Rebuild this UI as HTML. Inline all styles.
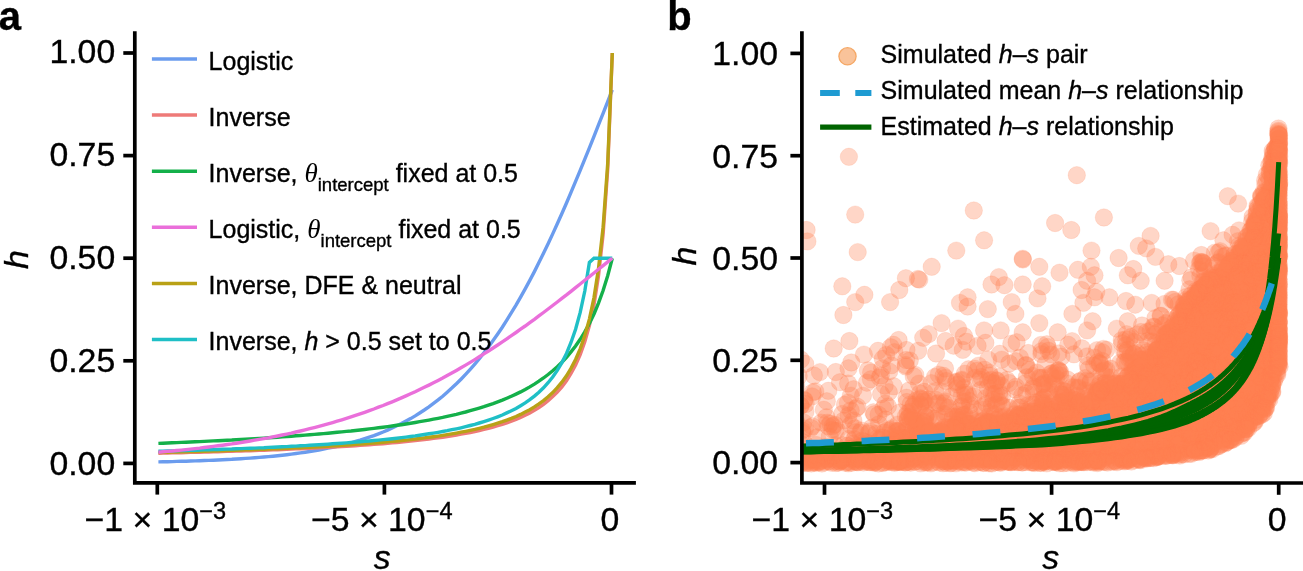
<!DOCTYPE html>
<html lang="en"><head><meta charset="utf-8"><title>h-s relationship</title>
<style>
html,body{margin:0;padding:0;background:#fff;}
body{width:1303px;height:571px;overflow:hidden;}
svg{display:block;font-family:"Liberation Sans", Arial, Helvetica, sans-serif;}
.tk{font-size:33.8px;fill:#000;}
text{stroke:#000;stroke-width:0.35px;}
.lg{font-size:25px;fill:#000;}
.pl{font-size:40px;font-weight:bold;fill:#000;}
.it{font-style:italic;}
.th{font-family:"Liberation Serif", "DejaVu Serif", serif;font-style:italic;font-size:27px;stroke:none;}
.sub{font-size:18.5px;}
.sup{font-size:23.6px;}
</style></head><body>
<svg width="1303" height="571" viewBox="0 0 1303 571">
<rect width="1303" height="571" fill="#fff"/>

<g fill="none" stroke-width="3.4" stroke-linejoin="miter">
<path stroke="#6b9cee" d="M158.4,461.9 L163.0,461.8 L167.6,461.7 L172.2,461.6 L176.7,461.4 L181.3,461.3 L185.9,461.2 L190.5,461.0 L195.1,460.9 L199.7,460.7 L204.2,460.5 L208.8,460.4 L213.4,460.2 L218.0,460.0 L222.6,459.7 L227.2,459.5 L231.8,459.3 L236.3,459.0 L240.9,458.7 L245.5,458.4 L250.1,458.1 L254.7,457.8 L259.3,457.4 L263.9,457.0 L268.4,456.6 L273.0,456.2 L277.6,455.7 L282.2,455.2 L286.8,454.7 L291.4,454.1 L295.9,453.5 L300.5,452.9 L305.1,452.2 L309.7,451.5 L314.3,450.8 L318.9,450.0 L323.5,449.1 L328.0,448.2 L332.6,447.3 L337.2,446.3 L341.8,445.2 L346.4,444.0 L351.0,442.8 L355.5,441.5 L360.1,440.2 L364.7,438.7 L369.3,437.2 L373.9,435.6 L378.5,433.8 L383.1,432.0 L387.6,430.1 L392.2,428.0 L396.8,425.8 L401.4,423.6 L406.0,421.1 L410.6,418.6 L415.2,415.9 L419.7,413.0 L424.3,410.0 L428.9,406.8 L433.5,403.4 L438.1,399.9 L442.7,396.2 L447.2,392.2 L451.8,388.1 L456.4,383.8 L461.0,379.2 L465.6,374.4 L470.2,369.4 L474.8,364.2 L479.3,358.6 L483.9,352.9 L488.5,346.9 L493.1,340.6 L497.7,334.0 L502.3,327.2 L506.8,320.1 L511.4,312.7 L516.0,305.1 L520.6,297.1 L525.2,288.9 L529.8,280.4 L534.4,271.6 L538.9,262.6 L543.5,253.3 L548.1,243.7 L552.7,233.9 L557.3,223.8 L561.9,213.5 L566.5,203.0 L571.0,192.3 L575.6,181.4 L580.2,170.4 L584.8,159.2 L589.4,147.8 L594.0,136.4 L598.5,124.9 L603.1,113.3 L607.7,101.6 L612.3,89.9"/>
<path stroke="#ee7a78" d="M158.4,453.2 L163.0,453.1 L167.6,453.0 L172.2,452.9 L176.7,452.8 L181.3,452.7 L185.9,452.5 L190.5,452.4 L195.1,452.3 L199.7,452.2 L204.2,452.1 L208.8,452.0 L213.4,451.8 L218.0,451.7 L222.6,451.6 L227.2,451.4 L231.8,451.3 L236.3,451.1 L240.9,451.0 L245.5,450.8 L250.1,450.7 L254.7,450.5 L259.3,450.4 L263.9,450.2 L268.4,450.0 L273.0,449.9 L277.6,449.7 L282.2,449.5 L286.8,449.3 L291.4,449.1 L295.9,448.9 L300.5,448.7 L305.1,448.5 L309.7,448.3 L314.3,448.1 L318.9,447.8 L323.5,447.6 L328.0,447.3 L332.6,447.1 L337.2,446.8 L341.8,446.6 L346.4,446.3 L351.0,446.0 L355.5,445.7 L360.1,445.4 L364.7,445.1 L369.3,444.7 L373.9,444.4 L378.5,444.0 L383.1,443.7 L387.6,443.3 L392.2,442.9 L396.8,442.5 L401.4,442.0 L406.0,441.6 L410.6,441.1 L415.2,440.6 L419.7,440.1 L424.3,439.6 L428.9,439.0 L433.5,438.4 L438.1,437.8 L442.7,437.2 L447.2,436.5 L451.8,435.8 L456.4,435.0 L461.0,434.2 L465.6,433.4 L470.2,432.5 L474.8,431.5 L479.3,430.5 L483.9,429.4 L488.5,428.3 L493.1,427.1 L497.7,425.7 L502.3,424.3 L506.8,422.8 L511.4,421.1 L516.0,419.3 L520.6,417.4 L525.2,415.2 L529.8,412.9 L534.4,410.3 L538.9,407.5 L543.5,404.3 L548.1,400.7 L552.7,396.6 L557.3,392.0 L561.9,386.8 L566.5,380.7 L571.0,373.5 L575.6,364.9 L580.2,354.6 L584.8,341.8 L589.4,325.7 L594.0,304.6 L598.5,275.8 L603.1,234.4 L607.7,169.4 L612.3,53.0"/>
<path stroke="#14b04a" d="M158.4,443.4 L163.0,443.2 L167.6,443.0 L172.2,442.8 L176.7,442.6 L181.3,442.4 L185.9,442.2 L190.5,442.0 L195.1,441.8 L199.7,441.6 L204.2,441.4 L208.8,441.1 L213.4,440.9 L218.0,440.7 L222.6,440.5 L227.2,440.2 L231.8,440.0 L236.3,439.7 L240.9,439.5 L245.5,439.2 L250.1,438.9 L254.7,438.6 L259.3,438.4 L263.9,438.1 L268.4,437.8 L273.0,437.5 L277.6,437.2 L282.2,436.8 L286.8,436.5 L291.4,436.2 L295.9,435.8 L300.5,435.5 L305.1,435.1 L309.7,434.8 L314.3,434.4 L318.9,434.0 L323.5,433.6 L328.0,433.2 L332.6,432.8 L337.2,432.3 L341.8,431.9 L346.4,431.4 L351.0,431.0 L355.5,430.5 L360.1,430.0 L364.7,429.5 L369.3,428.9 L373.9,428.4 L378.5,427.8 L383.1,427.2 L387.6,426.6 L392.2,426.0 L396.8,425.3 L401.4,424.7 L406.0,424.0 L410.6,423.3 L415.2,422.5 L419.7,421.7 L424.3,420.9 L428.9,420.1 L433.5,419.2 L438.1,418.3 L442.7,417.4 L447.2,416.4 L451.8,415.3 L456.4,414.3 L461.0,413.1 L465.6,412.0 L470.2,410.7 L474.8,409.4 L479.3,408.1 L483.9,406.7 L488.5,405.1 L493.1,403.6 L497.7,401.9 L502.3,400.1 L506.8,398.2 L511.4,396.2 L516.0,394.1 L520.6,391.9 L525.2,389.5 L529.8,386.9 L534.4,384.1 L538.9,381.2 L543.5,378.0 L548.1,374.5 L552.7,370.7 L557.3,366.7 L561.9,362.2 L566.5,357.3 L571.0,351.9 L575.6,346.0 L580.2,339.3 L584.8,331.9 L589.4,323.5 L594.0,314.0 L598.5,303.1 L603.1,290.5 L607.7,275.7 L612.3,258.2"/>
<path stroke="#b9a116" d="M158.4,452.5 L163.0,452.3 L167.6,452.2 L172.2,452.1 L176.7,452.0 L181.3,451.9 L185.9,451.8 L190.5,451.6 L195.1,451.5 L199.7,451.4 L204.2,451.3 L208.8,451.1 L213.4,451.0 L218.0,450.9 L222.6,450.7 L227.2,450.6 L231.8,450.4 L236.3,450.3 L240.9,450.1 L245.5,449.9 L250.1,449.8 L254.7,449.6 L259.3,449.4 L263.9,449.3 L268.4,449.1 L273.0,448.9 L277.6,448.7 L282.2,448.5 L286.8,448.3 L291.4,448.1 L295.9,447.9 L300.5,447.7 L305.1,447.4 L309.7,447.2 L314.3,447.0 L318.9,446.7 L323.5,446.5 L328.0,446.2 L332.6,445.9 L337.2,445.7 L341.8,445.4 L346.4,445.1 L351.0,444.8 L355.5,444.4 L360.1,444.1 L364.7,443.8 L369.3,443.4 L373.9,443.1 L378.5,442.7 L383.1,442.3 L387.6,441.9 L392.2,441.4 L396.8,441.0 L401.4,440.5 L406.0,440.1 L410.6,439.6 L415.2,439.0 L419.7,438.5 L424.3,437.9 L428.9,437.3 L433.5,436.7 L438.1,436.1 L442.7,435.4 L447.2,434.6 L451.8,433.9 L456.4,433.1 L461.0,432.2 L465.6,431.3 L470.2,430.4 L474.8,429.4 L479.3,428.3 L483.9,427.2 L488.5,425.9 L493.1,424.6 L497.7,423.2 L502.3,421.7 L506.8,420.1 L511.4,418.4 L516.0,416.5 L520.6,414.4 L525.2,412.1 L529.8,409.7 L534.4,406.9 L538.9,403.9 L543.5,400.6 L548.1,396.8 L552.7,392.6 L557.3,387.7 L561.9,382.2 L566.5,375.8 L571.0,368.4 L575.6,359.5 L580.2,348.8 L584.8,335.6 L589.4,319.1 L594.0,297.6 L598.5,268.5 L603.1,227.2 L607.7,163.6 L612.3,53.0"/>
<path stroke="#1fbfc6" d="M158.4,451.3 L163.0,451.2 L167.6,451.0 L172.2,450.9 L176.7,450.8 L181.3,450.6 L185.9,450.5 L190.5,450.4 L195.1,450.2 L199.7,450.1 L204.2,449.9 L208.8,449.8 L213.4,449.6 L218.0,449.5 L222.6,449.3 L227.2,449.1 L231.8,449.0 L236.3,448.8 L240.9,448.6 L245.5,448.4 L250.1,448.2 L254.7,448.1 L259.3,447.9 L263.9,447.7 L268.4,447.4 L273.0,447.2 L277.6,447.0 L282.2,446.8 L286.8,446.6 L291.4,446.3 L295.9,446.1 L300.5,445.8 L305.1,445.6 L309.7,445.3 L314.3,445.0 L318.9,444.8 L323.5,444.5 L328.0,444.2 L332.6,443.8 L337.2,443.5 L341.8,443.2 L346.4,442.9 L351.0,442.5 L355.5,442.1 L360.1,441.8 L364.7,441.4 L369.3,441.0 L373.9,440.5 L378.5,440.1 L383.1,439.6 L387.6,439.2 L392.2,438.7 L396.8,438.2 L401.4,437.6 L406.0,437.1 L410.6,436.5 L415.2,435.9 L419.7,435.2 L424.3,434.5 L428.9,433.8 L433.5,433.1 L438.1,432.3 L442.7,431.5 L447.2,430.7 L451.8,429.7 L456.4,428.8 L461.0,427.8 L465.6,426.7 L470.2,425.5 L474.8,424.3 L479.3,423.0 L483.9,421.6 L488.5,420.1 L493.1,418.5 L497.7,416.8 L502.3,415.0 L506.8,412.9 L511.4,410.7 L516.0,408.4 L520.6,405.7 L525.2,402.9 L529.8,399.7 L534.4,396.1 L538.9,392.2 L543.5,387.8 L548.1,382.7 L552.7,377.0 L557.3,370.4 L561.9,362.6 L566.5,353.5 L571.0,342.5 L575.6,329.2 L580.2,312.4 L584.8,291.0 L589.4,262.4 L594.0,258.2 L598.5,258.2 L603.1,258.2 L607.7,258.2 L612.3,258.2"/>
<path stroke="#ea6fda" d="M158.4,452.2 L163.0,451.8 L167.6,451.4 L172.2,451.0 L176.7,450.5 L181.3,450.1 L185.9,449.6 L190.5,449.1 L195.1,448.6 L199.7,448.1 L204.2,447.5 L208.8,447.0 L213.4,446.4 L218.0,445.8 L222.6,445.2 L227.2,444.5 L231.8,443.9 L236.3,443.2 L240.9,442.5 L245.5,441.8 L250.1,441.0 L254.7,440.2 L259.3,439.4 L263.9,438.6 L268.4,437.8 L273.0,436.9 L277.6,436.0 L282.2,435.0 L286.8,434.1 L291.4,433.1 L295.9,432.0 L300.5,431.0 L305.1,429.9 L309.7,428.7 L314.3,427.6 L318.9,426.4 L323.5,425.1 L328.0,423.9 L332.6,422.6 L337.2,421.2 L341.8,419.8 L346.4,418.4 L351.0,416.9 L355.5,415.4 L360.1,413.9 L364.7,412.3 L369.3,410.6 L373.9,409.0 L378.5,407.2 L383.1,405.5 L387.6,403.6 L392.2,401.8 L396.8,399.9 L401.4,397.9 L406.0,395.9 L410.6,393.8 L415.2,391.7 L419.7,389.5 L424.3,387.3 L428.9,385.1 L433.5,382.8 L438.1,380.4 L442.7,378.0 L447.2,375.5 L451.8,373.0 L456.4,370.4 L461.0,367.8 L465.6,365.1 L470.2,362.4 L474.8,359.6 L479.3,356.8 L483.9,353.9 L488.5,351.0 L493.1,348.0 L497.7,345.0 L502.3,341.9 L506.8,338.8 L511.4,335.7 L516.0,332.5 L520.6,329.2 L525.2,326.0 L529.8,322.6 L534.4,319.3 L538.9,315.9 L543.5,312.5 L548.1,309.0 L552.7,305.5 L557.3,302.0 L561.9,298.4 L566.5,294.9 L571.0,291.3 L575.6,287.6 L580.2,284.0 L584.8,280.3 L589.4,276.7 L594.0,273.0 L598.5,269.3 L603.1,265.6 L607.7,261.9 L612.3,258.2"/>
</g>
<defs><clipPath id="cb"><rect x="802" y="20" width="510" height="463"/></clipPath></defs>
<g clip-path="url(#cb)">
<g id="sc" fill="#ff7f50" fill-opacity="0.32" stroke="#ff7f50" stroke-opacity="0.2" stroke-width="0.8">
<circle cx="1206.2" cy="395.4" r="8.7"/>
<circle cx="1000.7" cy="454.4" r="8.7"/>
<circle cx="1101.9" cy="461.0" r="8.7"/>
<circle cx="1118.2" cy="436.2" r="8.7"/>
<circle cx="959.6" cy="455.1" r="8.7"/>
<circle cx="1173.3" cy="453.9" r="8.7"/>
<circle cx="1130.5" cy="355.0" r="8.7"/>
<circle cx="1016.8" cy="439.5" r="8.7"/>
<circle cx="1226.5" cy="320.0" r="8.7"/>
<circle cx="1058.1" cy="458.5" r="8.7"/>
<circle cx="975.9" cy="438.2" r="8.7"/>
<circle cx="1029.3" cy="369.9" r="8.7"/>
<circle cx="1246.6" cy="331.5" r="8.7"/>
<circle cx="1242.2" cy="341.7" r="8.7"/>
<circle cx="1228.0" cy="327.8" r="8.7"/>
<circle cx="1043.0" cy="377.8" r="8.7"/>
<circle cx="1040.3" cy="451.5" r="8.7"/>
<circle cx="1199.1" cy="340.2" r="8.7"/>
<circle cx="1011.7" cy="420.3" r="8.7"/>
<circle cx="1271.5" cy="371.8" r="8.7"/>
<circle cx="1215.2" cy="409.9" r="8.7"/>
<circle cx="1198.8" cy="406.2" r="8.7"/>
<circle cx="1189.5" cy="402.2" r="8.7"/>
<circle cx="1127.3" cy="406.6" r="8.7"/>
<circle cx="1257.5" cy="317.3" r="8.7"/>
<circle cx="956.0" cy="382.3" r="8.7"/>
<circle cx="988.2" cy="359.6" r="8.7"/>
<circle cx="1266.4" cy="204.1" r="8.7"/>
<circle cx="1112.3" cy="399.4" r="8.7"/>
<circle cx="1044.3" cy="454.7" r="8.7"/>
<circle cx="1219.7" cy="356.4" r="8.7"/>
<circle cx="1021.3" cy="424.0" r="8.7"/>
<circle cx="1240.9" cy="383.7" r="8.7"/>
<circle cx="1190.3" cy="345.6" r="8.7"/>
<circle cx="1210.6" cy="383.8" r="8.7"/>
<circle cx="1119.8" cy="403.7" r="8.7"/>
<circle cx="1017.7" cy="442.7" r="8.7"/>
<circle cx="1277.4" cy="331.3" r="8.7"/>
<circle cx="966.1" cy="447.3" r="8.7"/>
<circle cx="1135.5" cy="448.4" r="8.7"/>
<circle cx="1005.0" cy="431.6" r="8.7"/>
<circle cx="1137.0" cy="395.5" r="8.7"/>
<circle cx="1212.0" cy="424.4" r="8.7"/>
<circle cx="1254.5" cy="422.2" r="8.7"/>
<circle cx="1046.2" cy="443.0" r="8.7"/>
<circle cx="1178.5" cy="436.3" r="8.7"/>
<circle cx="1243.6" cy="432.4" r="8.7"/>
<circle cx="1024.1" cy="435.7" r="8.7"/>
<circle cx="1259.3" cy="372.6" r="8.7"/>
<circle cx="1165.1" cy="388.7" r="8.7"/>
<circle cx="963.3" cy="431.9" r="8.7"/>
<circle cx="1094.1" cy="365.5" r="8.7"/>
<circle cx="1234.4" cy="257.7" r="8.7"/>
<circle cx="1195.1" cy="311.1" r="8.7"/>
<circle cx="1104.1" cy="414.5" r="8.7"/>
<circle cx="1229.2" cy="282.4" r="8.7"/>
<circle cx="1201.3" cy="360.2" r="8.7"/>
<circle cx="862.2" cy="446.4" r="8.7"/>
<circle cx="1228.7" cy="309.8" r="8.7"/>
<circle cx="1207.8" cy="392.6" r="8.7"/>
<circle cx="1226.3" cy="365.6" r="8.7"/>
<circle cx="1097.8" cy="394.2" r="8.7"/>
<circle cx="1218.2" cy="357.1" r="8.7"/>
<circle cx="1274.4" cy="302.9" r="8.7"/>
<circle cx="1133.7" cy="353.8" r="8.7"/>
<circle cx="1201.6" cy="308.2" r="8.7"/>
<circle cx="1180.1" cy="443.5" r="8.7"/>
<circle cx="808.0" cy="456.3" r="8.7"/>
<circle cx="1278.9" cy="268.5" r="8.7"/>
<circle cx="1260.1" cy="356.8" r="8.7"/>
<circle cx="1166.8" cy="432.0" r="8.7"/>
<circle cx="1165.0" cy="357.6" r="8.7"/>
<circle cx="1253.7" cy="403.5" r="8.7"/>
<circle cx="1016.0" cy="451.7" r="8.7"/>
<circle cx="1200.0" cy="410.1" r="8.7"/>
<circle cx="1154.3" cy="445.0" r="8.7"/>
<circle cx="883.9" cy="457.7" r="8.7"/>
<circle cx="1140.9" cy="396.2" r="8.7"/>
<circle cx="1224.0" cy="287.3" r="8.7"/>
<circle cx="863.3" cy="449.1" r="8.7"/>
<circle cx="1267.7" cy="213.8" r="8.7"/>
<circle cx="1226.3" cy="411.1" r="8.7"/>
<circle cx="1107.1" cy="417.4" r="8.7"/>
<circle cx="1264.5" cy="368.1" r="8.7"/>
<circle cx="1267.2" cy="200.2" r="8.7"/>
<circle cx="1278.6" cy="310.0" r="8.7"/>
<circle cx="1200.6" cy="289.0" r="8.7"/>
<circle cx="1254.8" cy="349.7" r="8.7"/>
<circle cx="1007.6" cy="423.5" r="8.7"/>
<circle cx="1185.0" cy="308.0" r="8.7"/>
<circle cx="1229.6" cy="403.8" r="8.7"/>
<circle cx="1185.6" cy="373.2" r="8.7"/>
<circle cx="1220.4" cy="317.1" r="8.7"/>
<circle cx="1147.8" cy="354.5" r="8.7"/>
<circle cx="1278.9" cy="143.7" r="8.7"/>
<circle cx="1098.5" cy="461.5" r="8.7"/>
<circle cx="1026.6" cy="432.4" r="8.7"/>
<circle cx="1070.8" cy="446.5" r="8.7"/>
<circle cx="1204.0" cy="338.4" r="8.7"/>
<circle cx="1226.1" cy="371.0" r="8.7"/>
<circle cx="1041.8" cy="385.0" r="8.7"/>
<circle cx="1031.3" cy="427.5" r="8.7"/>
<circle cx="1105.6" cy="387.1" r="8.7"/>
<circle cx="918.2" cy="440.0" r="8.7"/>
<circle cx="1241.8" cy="394.9" r="8.7"/>
<circle cx="1202.8" cy="441.6" r="8.7"/>
<circle cx="991.5" cy="450.7" r="8.7"/>
<circle cx="1156.9" cy="431.9" r="8.7"/>
<circle cx="936.1" cy="353.5" r="8.7"/>
<circle cx="1103.6" cy="434.1" r="8.7"/>
<circle cx="1188.6" cy="365.1" r="8.7"/>
<circle cx="963.8" cy="452.6" r="8.7"/>
<circle cx="1180.7" cy="387.1" r="8.7"/>
<circle cx="1060.3" cy="402.2" r="8.7"/>
<circle cx="1246.1" cy="327.0" r="8.7"/>
<circle cx="1229.7" cy="323.9" r="8.7"/>
<circle cx="1148.6" cy="362.4" r="8.7"/>
<circle cx="1052.1" cy="373.2" r="8.7"/>
<circle cx="1198.4" cy="401.9" r="8.7"/>
<circle cx="999.9" cy="442.6" r="8.7"/>
<circle cx="1001.6" cy="430.1" r="8.7"/>
<circle cx="1044.2" cy="457.6" r="8.7"/>
<circle cx="919.1" cy="435.5" r="8.7"/>
<circle cx="1235.4" cy="334.2" r="8.7"/>
<circle cx="916.8" cy="439.5" r="8.7"/>
<circle cx="1173.2" cy="428.8" r="8.7"/>
<circle cx="1003.9" cy="425.0" r="8.7"/>
<circle cx="1088.1" cy="416.0" r="8.7"/>
<circle cx="1126.8" cy="453.8" r="8.7"/>
<circle cx="1069.2" cy="403.4" r="8.7"/>
<circle cx="1181.7" cy="337.8" r="8.7"/>
<circle cx="1175.6" cy="331.9" r="8.7"/>
<circle cx="984.5" cy="369.7" r="8.7"/>
<circle cx="1229.4" cy="282.0" r="8.7"/>
<circle cx="1071.0" cy="430.1" r="8.7"/>
<circle cx="951.4" cy="460.4" r="8.7"/>
<circle cx="1075.6" cy="408.5" r="8.7"/>
<circle cx="1255.7" cy="365.9" r="8.7"/>
<circle cx="1107.0" cy="426.7" r="8.7"/>
<circle cx="1269.6" cy="341.6" r="8.7"/>
<circle cx="1233.8" cy="289.5" r="8.7"/>
<circle cx="1041.7" cy="408.6" r="8.7"/>
<circle cx="1114.4" cy="416.8" r="8.7"/>
<circle cx="1174.6" cy="418.7" r="8.7"/>
<circle cx="1206.3" cy="285.4" r="8.7"/>
<circle cx="860.6" cy="457.8" r="8.7"/>
<circle cx="1274.5" cy="213.9" r="8.7"/>
<circle cx="1238.0" cy="420.9" r="8.7"/>
<circle cx="832.3" cy="429.6" r="8.7"/>
<circle cx="882.1" cy="458.9" r="8.7"/>
<circle cx="1278.8" cy="229.1" r="8.7"/>
<circle cx="1272.5" cy="245.2" r="8.7"/>
<circle cx="1042.6" cy="384.3" r="8.7"/>
<circle cx="1006.8" cy="458.2" r="8.7"/>
<circle cx="1228.3" cy="265.3" r="8.7"/>
<circle cx="1062.5" cy="440.1" r="8.7"/>
<circle cx="1173.0" cy="349.6" r="8.7"/>
<circle cx="1258.3" cy="383.5" r="8.7"/>
<circle cx="871.3" cy="447.3" r="8.7"/>
<circle cx="1273.1" cy="376.0" r="8.7"/>
<circle cx="1009.1" cy="407.8" r="8.7"/>
<circle cx="1086.6" cy="446.6" r="8.7"/>
<circle cx="1023.9" cy="450.5" r="8.7"/>
<circle cx="1164.2" cy="376.8" r="8.7"/>
<circle cx="1099.4" cy="427.3" r="8.7"/>
<circle cx="1069.0" cy="449.7" r="8.7"/>
<circle cx="1024.2" cy="420.4" r="8.7"/>
<circle cx="1168.4" cy="341.7" r="8.7"/>
<circle cx="1278.9" cy="289.5" r="8.7"/>
<circle cx="1270.5" cy="309.8" r="8.7"/>
<circle cx="1227.5" cy="368.2" r="8.7"/>
<circle cx="1220.2" cy="416.9" r="8.7"/>
<circle cx="1253.7" cy="236.2" r="8.7"/>
<circle cx="1270.4" cy="289.9" r="8.7"/>
<circle cx="1253.6" cy="358.8" r="8.7"/>
<circle cx="1259.0" cy="281.8" r="8.7"/>
<circle cx="1278.5" cy="156.8" r="8.7"/>
<circle cx="1076.6" cy="413.3" r="8.7"/>
<circle cx="1202.0" cy="329.2" r="8.7"/>
<circle cx="1225.6" cy="424.2" r="8.7"/>
<circle cx="963.1" cy="438.6" r="8.7"/>
<circle cx="874.6" cy="462.3" r="8.7"/>
<circle cx="1149.8" cy="404.2" r="8.7"/>
<circle cx="1180.6" cy="399.5" r="8.7"/>
<circle cx="1189.5" cy="289.3" r="8.7"/>
<circle cx="1198.9" cy="316.7" r="8.7"/>
<circle cx="912.3" cy="450.5" r="8.7"/>
<circle cx="1265.3" cy="184.7" r="8.7"/>
<circle cx="883.3" cy="462.3" r="8.7"/>
<circle cx="1261.6" cy="197.2" r="8.7"/>
<circle cx="918.3" cy="428.9" r="8.7"/>
<circle cx="979.6" cy="431.6" r="8.7"/>
<circle cx="1214.6" cy="394.3" r="8.7"/>
<circle cx="1104.8" cy="396.9" r="8.7"/>
<circle cx="1173.7" cy="377.3" r="8.7"/>
<circle cx="1231.0" cy="355.8" r="8.7"/>
<circle cx="1153.1" cy="363.4" r="8.7"/>
<circle cx="1178.1" cy="363.6" r="8.7"/>
<circle cx="1240.9" cy="319.8" r="8.7"/>
<circle cx="1263.4" cy="353.6" r="8.7"/>
<circle cx="883.1" cy="437.3" r="8.7"/>
<circle cx="1144.7" cy="398.1" r="8.7"/>
<circle cx="1226.1" cy="333.6" r="8.7"/>
<circle cx="880.1" cy="450.9" r="8.7"/>
<circle cx="1055.2" cy="411.6" r="8.7"/>
<circle cx="1275.6" cy="315.2" r="8.7"/>
<circle cx="1093.6" cy="425.3" r="8.7"/>
<circle cx="1052.2" cy="417.5" r="8.7"/>
<circle cx="1147.7" cy="421.5" r="8.7"/>
<circle cx="1255.1" cy="278.6" r="8.7"/>
<circle cx="980.2" cy="379.5" r="8.7"/>
<circle cx="1259.4" cy="354.0" r="8.7"/>
<circle cx="1208.7" cy="412.8" r="8.7"/>
<circle cx="1236.7" cy="353.3" r="8.7"/>
<circle cx="868.2" cy="459.5" r="8.7"/>
<circle cx="1263.4" cy="276.1" r="8.7"/>
<circle cx="978.2" cy="421.9" r="8.7"/>
<circle cx="1168.8" cy="332.7" r="8.7"/>
<circle cx="1170.8" cy="328.4" r="8.7"/>
<circle cx="1031.3" cy="440.0" r="8.7"/>
<circle cx="1257.8" cy="294.4" r="8.7"/>
<circle cx="963.7" cy="443.9" r="8.7"/>
<circle cx="1032.8" cy="427.6" r="8.7"/>
<circle cx="957.7" cy="427.5" r="8.7"/>
<circle cx="1225.3" cy="325.7" r="8.7"/>
<circle cx="1270.4" cy="168.9" r="8.7"/>
<circle cx="1251.5" cy="280.4" r="8.7"/>
<circle cx="973.7" cy="429.9" r="8.7"/>
<circle cx="1205.8" cy="347.9" r="8.7"/>
<circle cx="1033.1" cy="460.2" r="8.7"/>
<circle cx="888.1" cy="460.6" r="8.7"/>
<circle cx="1271.9" cy="312.6" r="8.7"/>
<circle cx="1118.0" cy="438.1" r="8.7"/>
<circle cx="967.4" cy="455.0" r="8.7"/>
<circle cx="1188.7" cy="309.5" r="8.7"/>
<circle cx="1042.0" cy="456.5" r="8.7"/>
<circle cx="1249.2" cy="285.0" r="8.7"/>
<circle cx="1195.8" cy="290.9" r="8.7"/>
<circle cx="1030.6" cy="411.5" r="8.7"/>
<circle cx="1133.5" cy="413.6" r="8.7"/>
<circle cx="1162.6" cy="373.3" r="8.7"/>
<circle cx="1278.8" cy="216.8" r="8.7"/>
<circle cx="1094.7" cy="433.2" r="8.7"/>
<circle cx="859.4" cy="449.4" r="8.7"/>
<circle cx="936.1" cy="436.9" r="8.7"/>
<circle cx="844.7" cy="451.4" r="8.7"/>
<circle cx="1258.1" cy="333.4" r="8.7"/>
<circle cx="1020.6" cy="445.4" r="8.7"/>
<circle cx="1224.4" cy="386.5" r="8.7"/>
<circle cx="1263.2" cy="257.8" r="8.7"/>
<circle cx="964.8" cy="462.5" r="8.7"/>
<circle cx="1278.4" cy="295.3" r="8.7"/>
<circle cx="1135.9" cy="454.4" r="8.7"/>
<circle cx="1144.0" cy="407.4" r="8.7"/>
<circle cx="1240.8" cy="403.4" r="8.7"/>
<circle cx="966.2" cy="462.5" r="8.7"/>
<circle cx="1155.7" cy="352.0" r="8.7"/>
<circle cx="1246.8" cy="297.5" r="8.7"/>
<circle cx="1163.4" cy="386.1" r="8.7"/>
<circle cx="1146.2" cy="401.5" r="8.7"/>
<circle cx="1268.1" cy="262.9" r="8.7"/>
<circle cx="1274.7" cy="352.4" r="8.7"/>
<circle cx="863.9" cy="354.6" r="8.7"/>
<circle cx="858.0" cy="457.1" r="8.7"/>
<circle cx="1099.3" cy="446.8" r="8.7"/>
<circle cx="1136.2" cy="427.0" r="8.7"/>
<circle cx="805.2" cy="363.8" r="8.7"/>
<circle cx="1088.4" cy="421.9" r="8.7"/>
<circle cx="1098.6" cy="400.8" r="8.7"/>
<circle cx="1181.8" cy="454.2" r="8.7"/>
<circle cx="1204.4" cy="425.8" r="8.7"/>
<circle cx="1166.2" cy="358.2" r="8.7"/>
<circle cx="1187.3" cy="350.5" r="8.7"/>
<circle cx="1190.3" cy="382.2" r="8.7"/>
<circle cx="1133.6" cy="433.3" r="8.7"/>
<circle cx="941.7" cy="431.6" r="8.7"/>
<circle cx="1279.0" cy="143.5" r="8.7"/>
<circle cx="1273.7" cy="258.5" r="8.7"/>
<circle cx="871.0" cy="460.7" r="8.7"/>
<circle cx="1220.9" cy="272.1" r="8.7"/>
<circle cx="1244.8" cy="327.8" r="8.7"/>
<circle cx="1224.0" cy="435.7" r="8.7"/>
<circle cx="1205.5" cy="299.6" r="8.7"/>
<circle cx="1261.2" cy="267.0" r="8.7"/>
<circle cx="848.1" cy="383.5" r="8.7"/>
<circle cx="1181.0" cy="411.5" r="8.7"/>
<circle cx="1159.5" cy="430.8" r="8.7"/>
<circle cx="1010.9" cy="462.3" r="8.7"/>
<circle cx="1193.6" cy="422.5" r="8.7"/>
<circle cx="1275.2" cy="190.6" r="8.7"/>
<circle cx="942.9" cy="459.4" r="8.7"/>
<circle cx="1203.4" cy="356.3" r="8.7"/>
<circle cx="1218.8" cy="414.9" r="8.7"/>
<circle cx="1164.7" cy="361.2" r="8.7"/>
<circle cx="1278.7" cy="245.0" r="8.7"/>
<circle cx="1216.9" cy="384.7" r="8.7"/>
<circle cx="992.4" cy="445.6" r="8.7"/>
<circle cx="1157.8" cy="456.6" r="8.7"/>
<circle cx="1114.5" cy="436.6" r="8.7"/>
<circle cx="1151.4" cy="402.5" r="8.7"/>
<circle cx="1254.3" cy="223.2" r="8.7"/>
<circle cx="1174.3" cy="452.5" r="8.7"/>
<circle cx="1082.0" cy="454.0" r="8.7"/>
<circle cx="1270.3" cy="323.4" r="8.7"/>
<circle cx="997.2" cy="461.9" r="8.7"/>
<circle cx="805.0" cy="428.9" r="8.7"/>
<circle cx="1278.6" cy="152.6" r="8.7"/>
<circle cx="1165.8" cy="428.3" r="8.7"/>
<circle cx="872.1" cy="427.5" r="8.7"/>
<circle cx="1179.8" cy="383.4" r="8.7"/>
<circle cx="1208.5" cy="355.0" r="8.7"/>
<circle cx="1232.2" cy="425.1" r="8.7"/>
<circle cx="1234.0" cy="386.3" r="8.7"/>
<circle cx="1122.9" cy="441.1" r="8.7"/>
<circle cx="1179.6" cy="348.6" r="8.7"/>
<circle cx="1274.3" cy="329.3" r="8.7"/>
<circle cx="1257.8" cy="269.9" r="8.7"/>
<circle cx="1185.7" cy="347.3" r="8.7"/>
<circle cx="971.2" cy="461.4" r="8.7"/>
<circle cx="1246.0" cy="413.2" r="8.7"/>
<circle cx="1131.0" cy="396.5" r="8.7"/>
<circle cx="1265.5" cy="318.7" r="8.7"/>
<circle cx="1043.5" cy="397.9" r="8.7"/>
<circle cx="1254.2" cy="323.2" r="8.7"/>
<circle cx="1049.9" cy="444.1" r="8.7"/>
<circle cx="1230.2" cy="315.8" r="8.7"/>
<circle cx="1091.6" cy="404.2" r="8.7"/>
<circle cx="1041.1" cy="344.9" r="8.7"/>
<circle cx="938.5" cy="448.7" r="8.7"/>
<circle cx="1263.6" cy="191.9" r="8.7"/>
<circle cx="946.2" cy="462.9" r="8.7"/>
<circle cx="1278.1" cy="307.2" r="8.7"/>
<circle cx="1092.2" cy="461.0" r="8.7"/>
<circle cx="1223.7" cy="369.0" r="8.7"/>
<circle cx="888.9" cy="451.2" r="8.7"/>
<circle cx="1200.9" cy="436.3" r="8.7"/>
<circle cx="1147.9" cy="417.9" r="8.7"/>
<circle cx="1157.3" cy="349.9" r="8.7"/>
<circle cx="1146.2" cy="399.0" r="8.7"/>
<circle cx="1263.3" cy="378.7" r="8.7"/>
<circle cx="1058.3" cy="406.4" r="8.7"/>
<circle cx="1236.0" cy="432.5" r="8.7"/>
<circle cx="1186.8" cy="435.4" r="8.7"/>
<circle cx="1217.1" cy="315.9" r="8.7"/>
<circle cx="1137.9" cy="417.7" r="8.7"/>
<circle cx="1260.6" cy="388.0" r="8.7"/>
<circle cx="1190.8" cy="300.0" r="8.7"/>
<circle cx="1202.8" cy="350.6" r="8.7"/>
<circle cx="938.2" cy="402.9" r="8.7"/>
<circle cx="1229.3" cy="299.4" r="8.7"/>
<circle cx="973.2" cy="408.9" r="8.7"/>
<circle cx="1277.0" cy="344.2" r="8.7"/>
<circle cx="1033.7" cy="448.0" r="8.7"/>
<circle cx="1151.9" cy="417.3" r="8.7"/>
<circle cx="995.6" cy="454.6" r="8.7"/>
<circle cx="1060.0" cy="451.1" r="8.7"/>
<circle cx="1000.1" cy="376.7" r="8.7"/>
<circle cx="1019.7" cy="451.8" r="8.7"/>
<circle cx="1107.5" cy="444.2" r="8.7"/>
<circle cx="1001.4" cy="445.4" r="8.7"/>
<circle cx="1104.4" cy="369.0" r="8.7"/>
<circle cx="1268.8" cy="373.5" r="8.7"/>
<circle cx="1234.4" cy="332.3" r="8.7"/>
<circle cx="1193.1" cy="384.4" r="8.7"/>
<circle cx="1222.7" cy="388.2" r="8.7"/>
<circle cx="1226.6" cy="442.3" r="8.7"/>
<circle cx="1237.8" cy="414.7" r="8.7"/>
<circle cx="904.3" cy="459.7" r="8.7"/>
<circle cx="847.1" cy="461.8" r="8.7"/>
<circle cx="1257.6" cy="248.1" r="8.7"/>
<circle cx="1151.0" cy="451.6" r="8.7"/>
<circle cx="1106.8" cy="443.9" r="8.7"/>
<circle cx="1046.4" cy="415.0" r="8.7"/>
<circle cx="1047.0" cy="451.2" r="8.7"/>
<circle cx="1087.0" cy="457.3" r="8.7"/>
<circle cx="1080.6" cy="443.3" r="8.7"/>
<circle cx="1110.4" cy="411.0" r="8.7"/>
<circle cx="1273.3" cy="340.8" r="8.7"/>
<circle cx="1256.4" cy="357.2" r="8.7"/>
<circle cx="1101.4" cy="395.7" r="8.7"/>
<circle cx="1136.7" cy="430.9" r="8.7"/>
<circle cx="987.6" cy="445.9" r="8.7"/>
<circle cx="1078.7" cy="454.1" r="8.7"/>
<circle cx="1273.2" cy="221.3" r="8.7"/>
<circle cx="1175.9" cy="337.9" r="8.7"/>
<circle cx="1260.2" cy="325.4" r="8.7"/>
<circle cx="1194.5" cy="323.6" r="8.7"/>
<circle cx="1057.6" cy="456.5" r="8.7"/>
<circle cx="1219.6" cy="402.5" r="8.7"/>
<circle cx="1232.2" cy="260.7" r="8.7"/>
<circle cx="905.4" cy="454.4" r="8.7"/>
<circle cx="1058.5" cy="424.7" r="8.7"/>
<circle cx="961.7" cy="441.5" r="8.7"/>
<circle cx="1210.2" cy="305.1" r="8.7"/>
<circle cx="1226.6" cy="255.4" r="8.7"/>
<circle cx="877.0" cy="438.5" r="8.7"/>
<circle cx="1000.6" cy="462.8" r="8.7"/>
<circle cx="812.8" cy="392.4" r="8.7"/>
<circle cx="866.7" cy="460.4" r="8.7"/>
<circle cx="1125.8" cy="436.3" r="8.7"/>
<circle cx="1097.7" cy="448.0" r="8.7"/>
<circle cx="1245.9" cy="333.4" r="8.7"/>
<circle cx="1154.9" cy="368.8" r="8.7"/>
<circle cx="1262.6" cy="311.1" r="8.7"/>
<circle cx="958.2" cy="415.0" r="8.7"/>
<circle cx="1176.8" cy="331.7" r="8.7"/>
<circle cx="1275.9" cy="311.8" r="8.7"/>
<circle cx="1258.4" cy="329.5" r="8.7"/>
<circle cx="1269.6" cy="281.7" r="8.7"/>
<circle cx="1221.3" cy="376.8" r="8.7"/>
<circle cx="1278.5" cy="257.3" r="8.7"/>
<circle cx="1241.7" cy="252.5" r="8.7"/>
<circle cx="1278.7" cy="158.5" r="8.7"/>
<circle cx="1033.0" cy="376.0" r="8.7"/>
<circle cx="835.1" cy="455.5" r="8.7"/>
<circle cx="1277.4" cy="293.2" r="8.7"/>
<circle cx="881.6" cy="456.1" r="8.7"/>
<circle cx="990.3" cy="443.2" r="8.7"/>
<circle cx="1147.4" cy="452.8" r="8.7"/>
<circle cx="1248.3" cy="267.6" r="8.7"/>
<circle cx="1222.7" cy="342.1" r="8.7"/>
<circle cx="1181.9" cy="439.2" r="8.7"/>
<circle cx="1016.5" cy="451.1" r="8.7"/>
<circle cx="1029.7" cy="428.0" r="8.7"/>
<circle cx="1180.4" cy="443.4" r="8.7"/>
<circle cx="1151.5" cy="445.8" r="8.7"/>
<circle cx="960.3" cy="410.7" r="8.7"/>
<circle cx="1099.8" cy="455.1" r="8.7"/>
<circle cx="1129.6" cy="417.1" r="8.7"/>
<circle cx="1153.8" cy="385.7" r="8.7"/>
<circle cx="1162.4" cy="361.6" r="8.7"/>
<circle cx="1025.3" cy="383.1" r="8.7"/>
<circle cx="990.3" cy="421.7" r="8.7"/>
<circle cx="1095.9" cy="415.6" r="8.7"/>
<circle cx="1076.2" cy="438.7" r="8.7"/>
<circle cx="1219.7" cy="386.4" r="8.7"/>
<circle cx="899.3" cy="430.1" r="8.7"/>
<circle cx="996.7" cy="428.3" r="8.7"/>
<circle cx="977.6" cy="345.9" r="8.7"/>
<circle cx="1150.4" cy="370.7" r="8.7"/>
<circle cx="1147.7" cy="341.0" r="8.7"/>
<circle cx="1223.9" cy="372.6" r="8.7"/>
<circle cx="1217.0" cy="311.2" r="8.7"/>
<circle cx="1139.9" cy="376.0" r="8.7"/>
<circle cx="1164.4" cy="454.1" r="8.7"/>
<circle cx="969.2" cy="428.0" r="8.7"/>
<circle cx="1046.1" cy="459.4" r="8.7"/>
<circle cx="1247.2" cy="287.3" r="8.7"/>
<circle cx="1274.8" cy="378.7" r="8.7"/>
<circle cx="1231.1" cy="362.0" r="8.7"/>
<circle cx="1153.4" cy="359.4" r="8.7"/>
<circle cx="1078.4" cy="462.3" r="8.7"/>
<circle cx="1137.4" cy="376.9" r="8.7"/>
<circle cx="926.6" cy="442.9" r="8.7"/>
<circle cx="891.7" cy="462.0" r="8.7"/>
<circle cx="1078.6" cy="431.7" r="8.7"/>
<circle cx="1255.0" cy="270.7" r="8.7"/>
<circle cx="1275.4" cy="260.0" r="8.7"/>
<circle cx="1209.6" cy="342.1" r="8.7"/>
<circle cx="1210.5" cy="410.7" r="8.7"/>
<circle cx="891.5" cy="442.6" r="8.7"/>
<circle cx="938.1" cy="444.3" r="8.7"/>
<circle cx="1050.0" cy="390.8" r="8.7"/>
<circle cx="942.6" cy="459.2" r="8.7"/>
<circle cx="1213.4" cy="360.4" r="8.7"/>
<circle cx="1181.5" cy="433.7" r="8.7"/>
<circle cx="897.8" cy="431.6" r="8.7"/>
<circle cx="1135.5" cy="369.2" r="8.7"/>
<circle cx="1164.6" cy="409.5" r="8.7"/>
<circle cx="1219.3" cy="310.6" r="8.7"/>
<circle cx="1227.5" cy="357.0" r="8.7"/>
<circle cx="911.7" cy="453.1" r="8.7"/>
<circle cx="1231.1" cy="362.7" r="8.7"/>
<circle cx="968.5" cy="442.8" r="8.7"/>
<circle cx="1197.9" cy="389.5" r="8.7"/>
<circle cx="1263.6" cy="199.5" r="8.7"/>
<circle cx="1006.8" cy="438.9" r="8.7"/>
<circle cx="1014.9" cy="457.8" r="8.7"/>
<circle cx="1273.9" cy="310.8" r="8.7"/>
<circle cx="1041.7" cy="420.6" r="8.7"/>
<circle cx="1269.0" cy="257.1" r="8.7"/>
<circle cx="1044.8" cy="406.6" r="8.7"/>
<circle cx="1212.9" cy="351.7" r="8.7"/>
<circle cx="1187.0" cy="315.0" r="8.7"/>
<circle cx="1220.8" cy="282.3" r="8.7"/>
<circle cx="1100.2" cy="394.6" r="8.7"/>
<circle cx="917.1" cy="442.6" r="8.7"/>
<circle cx="1162.5" cy="368.6" r="8.7"/>
<circle cx="1233.4" cy="305.5" r="8.7"/>
<circle cx="1172.6" cy="350.4" r="8.7"/>
<circle cx="1223.1" cy="388.5" r="8.7"/>
<circle cx="1034.8" cy="449.8" r="8.7"/>
<circle cx="1203.7" cy="363.0" r="8.7"/>
<circle cx="1248.9" cy="394.4" r="8.7"/>
<circle cx="865.2" cy="441.4" r="8.7"/>
<circle cx="970.2" cy="405.0" r="8.7"/>
<circle cx="1277.6" cy="367.5" r="8.7"/>
<circle cx="1232.7" cy="427.2" r="8.7"/>
<circle cx="1179.6" cy="323.1" r="8.7"/>
<circle cx="1184.3" cy="362.4" r="8.7"/>
<circle cx="1189.6" cy="408.7" r="8.7"/>
<circle cx="1141.2" cy="456.4" r="8.7"/>
<circle cx="1169.6" cy="432.7" r="8.7"/>
<circle cx="1267.9" cy="295.0" r="8.7"/>
<circle cx="839.8" cy="452.0" r="8.7"/>
<circle cx="1058.5" cy="370.3" r="8.7"/>
<circle cx="1233.8" cy="360.6" r="8.7"/>
<circle cx="988.6" cy="448.4" r="8.7"/>
<circle cx="1258.8" cy="254.8" r="8.7"/>
<circle cx="1247.3" cy="349.7" r="8.7"/>
<circle cx="1214.5" cy="349.3" r="8.7"/>
<circle cx="1172.7" cy="455.2" r="8.7"/>
<circle cx="1157.6" cy="400.3" r="8.7"/>
<circle cx="990.5" cy="438.2" r="8.7"/>
<circle cx="1264.3" cy="246.7" r="8.7"/>
<circle cx="1121.3" cy="454.3" r="8.7"/>
<circle cx="1173.3" cy="326.3" r="8.7"/>
<circle cx="1069.4" cy="452.8" r="8.7"/>
<circle cx="1214.8" cy="356.1" r="8.7"/>
<circle cx="1229.9" cy="325.1" r="8.7"/>
<circle cx="1218.8" cy="437.6" r="8.7"/>
<circle cx="1211.2" cy="380.2" r="8.7"/>
<circle cx="1023.5" cy="433.1" r="8.7"/>
<circle cx="1177.6" cy="424.8" r="8.7"/>
<circle cx="1239.7" cy="253.0" r="8.7"/>
<circle cx="1157.2" cy="457.0" r="8.7"/>
<circle cx="1009.1" cy="424.0" r="8.7"/>
<circle cx="1192.1" cy="411.5" r="8.7"/>
<circle cx="1197.8" cy="448.3" r="8.7"/>
<circle cx="1178.5" cy="344.1" r="8.7"/>
<circle cx="1206.5" cy="411.1" r="8.7"/>
<circle cx="906.9" cy="443.9" r="8.7"/>
<circle cx="1276.5" cy="178.1" r="8.7"/>
<circle cx="1272.4" cy="373.3" r="8.7"/>
<circle cx="1273.6" cy="286.0" r="8.7"/>
<circle cx="1031.1" cy="462.5" r="8.7"/>
<circle cx="1059.6" cy="417.5" r="8.7"/>
<circle cx="1272.7" cy="194.7" r="8.7"/>
<circle cx="1142.0" cy="372.0" r="8.7"/>
<circle cx="792.4" cy="434.6" r="8.7"/>
<circle cx="873.2" cy="444.3" r="8.7"/>
<circle cx="1227.1" cy="313.0" r="8.7"/>
<circle cx="1278.6" cy="225.4" r="8.7"/>
<circle cx="1269.3" cy="165.3" r="8.7"/>
<circle cx="827.6" cy="459.3" r="8.7"/>
<circle cx="1041.1" cy="399.4" r="8.7"/>
<circle cx="1105.2" cy="436.3" r="8.7"/>
<circle cx="868.5" cy="433.5" r="8.7"/>
<circle cx="1087.8" cy="413.7" r="8.7"/>
<circle cx="1278.6" cy="139.2" r="8.7"/>
<circle cx="1267.8" cy="250.3" r="8.7"/>
<circle cx="1241.4" cy="367.3" r="8.7"/>
<circle cx="1177.8" cy="417.5" r="8.7"/>
<circle cx="1201.1" cy="344.7" r="8.7"/>
<circle cx="1115.6" cy="435.6" r="8.7"/>
<circle cx="877.9" cy="446.3" r="8.7"/>
<circle cx="1220.0" cy="313.7" r="8.7"/>
<circle cx="1074.4" cy="436.4" r="8.7"/>
<circle cx="1025.6" cy="416.9" r="8.7"/>
<circle cx="1190.8" cy="414.1" r="8.7"/>
<circle cx="1163.0" cy="397.4" r="8.7"/>
<circle cx="1133.1" cy="440.4" r="8.7"/>
<circle cx="1193.2" cy="328.8" r="8.7"/>
<circle cx="1101.4" cy="372.0" r="8.7"/>
<circle cx="1261.2" cy="356.5" r="8.7"/>
<circle cx="1130.8" cy="379.9" r="8.7"/>
<circle cx="1071.9" cy="418.1" r="8.7"/>
<circle cx="1189.6" cy="336.6" r="8.7"/>
<circle cx="1095.9" cy="427.0" r="8.7"/>
<circle cx="955.9" cy="463.4" r="8.7"/>
<circle cx="917.4" cy="433.4" r="8.7"/>
<circle cx="1249.5" cy="319.6" r="8.7"/>
<circle cx="956.3" cy="459.1" r="8.7"/>
<circle cx="1148.1" cy="410.1" r="8.7"/>
<circle cx="1278.4" cy="172.2" r="8.7"/>
<circle cx="1062.4" cy="460.8" r="8.7"/>
<circle cx="1256.9" cy="219.6" r="8.7"/>
<circle cx="1269.5" cy="188.4" r="8.7"/>
<circle cx="1197.0" cy="311.1" r="8.7"/>
<circle cx="1095.1" cy="390.7" r="8.7"/>
<circle cx="1199.8" cy="323.8" r="8.7"/>
<circle cx="1201.6" cy="322.3" r="8.7"/>
<circle cx="1040.5" cy="421.6" r="8.7"/>
<circle cx="1167.8" cy="415.1" r="8.7"/>
<circle cx="1052.1" cy="446.8" r="8.7"/>
<circle cx="945.9" cy="448.4" r="8.7"/>
<circle cx="1187.6" cy="370.3" r="8.7"/>
<circle cx="1229.1" cy="420.1" r="8.7"/>
<circle cx="943.9" cy="435.5" r="8.7"/>
<circle cx="1277.8" cy="147.0" r="8.7"/>
<circle cx="848.2" cy="450.2" r="8.7"/>
<circle cx="1088.5" cy="393.3" r="8.7"/>
<circle cx="1269.8" cy="190.7" r="8.7"/>
<circle cx="1110.4" cy="393.6" r="8.7"/>
<circle cx="1270.0" cy="172.4" r="8.7"/>
<circle cx="1186.8" cy="299.6" r="8.7"/>
<circle cx="1279.2" cy="336.2" r="8.7"/>
<circle cx="1210.6" cy="441.9" r="8.7"/>
<circle cx="1233.0" cy="270.9" r="8.7"/>
<circle cx="1236.9" cy="398.4" r="8.7"/>
<circle cx="968.1" cy="440.2" r="8.7"/>
<circle cx="1209.4" cy="384.9" r="8.7"/>
<circle cx="1125.7" cy="427.2" r="8.7"/>
<circle cx="1187.2" cy="369.8" r="8.7"/>
<circle cx="1115.5" cy="422.7" r="8.7"/>
<circle cx="1214.3" cy="333.4" r="8.7"/>
<circle cx="1153.6" cy="417.2" r="8.7"/>
<circle cx="1200.4" cy="357.6" r="8.7"/>
<circle cx="813.9" cy="462.6" r="8.7"/>
<circle cx="1202.8" cy="400.5" r="8.7"/>
<circle cx="1078.5" cy="388.4" r="8.7"/>
<circle cx="1191.6" cy="277.2" r="8.7"/>
<circle cx="1220.0" cy="300.3" r="8.7"/>
<circle cx="1180.5" cy="358.1" r="8.7"/>
<circle cx="1130.6" cy="336.9" r="8.7"/>
<circle cx="967.0" cy="424.2" r="8.7"/>
<circle cx="1216.6" cy="343.7" r="8.7"/>
<circle cx="1246.2" cy="320.0" r="8.7"/>
<circle cx="1218.8" cy="426.9" r="8.7"/>
<circle cx="1270.9" cy="390.0" r="8.7"/>
<circle cx="1254.5" cy="319.7" r="8.7"/>
<circle cx="1199.5" cy="356.1" r="8.7"/>
<circle cx="1175.3" cy="364.2" r="8.7"/>
<circle cx="853.0" cy="443.7" r="8.7"/>
<circle cx="1190.3" cy="450.2" r="8.7"/>
<circle cx="1203.8" cy="440.9" r="8.7"/>
<circle cx="1107.3" cy="433.5" r="8.7"/>
<circle cx="1278.6" cy="248.9" r="8.7"/>
<circle cx="1152.2" cy="445.7" r="8.7"/>
<circle cx="1066.1" cy="458.2" r="8.7"/>
<circle cx="1255.3" cy="268.3" r="8.7"/>
<circle cx="952.7" cy="454.1" r="8.7"/>
<circle cx="853.4" cy="420.5" r="8.7"/>
<circle cx="1162.1" cy="422.5" r="8.7"/>
<circle cx="805.5" cy="462.8" r="8.7"/>
<circle cx="1196.8" cy="346.0" r="8.7"/>
<circle cx="1278.5" cy="270.4" r="8.7"/>
<circle cx="1181.7" cy="322.8" r="8.7"/>
<circle cx="1231.9" cy="353.0" r="8.7"/>
<circle cx="1128.0" cy="407.9" r="8.7"/>
<circle cx="1260.1" cy="318.6" r="8.7"/>
<circle cx="938.0" cy="459.5" r="8.7"/>
<circle cx="1277.8" cy="233.3" r="8.7"/>
<circle cx="1018.2" cy="450.4" r="8.7"/>
<circle cx="1167.2" cy="441.6" r="8.7"/>
<circle cx="1064.9" cy="427.3" r="8.7"/>
<circle cx="1272.6" cy="314.7" r="8.7"/>
<circle cx="1270.7" cy="379.0" r="8.7"/>
<circle cx="1129.4" cy="437.7" r="8.7"/>
<circle cx="1044.3" cy="462.0" r="8.7"/>
<circle cx="1247.5" cy="353.5" r="8.7"/>
<circle cx="1278.7" cy="364.2" r="8.7"/>
<circle cx="988.6" cy="459.1" r="8.7"/>
<circle cx="1068.3" cy="425.5" r="8.7"/>
<circle cx="1278.7" cy="284.3" r="8.7"/>
<circle cx="833.2" cy="456.4" r="8.7"/>
<circle cx="1047.6" cy="411.0" r="8.7"/>
<circle cx="936.5" cy="440.2" r="8.7"/>
<circle cx="1182.9" cy="431.6" r="8.7"/>
<circle cx="993.4" cy="400.0" r="8.7"/>
<circle cx="1046.2" cy="428.4" r="8.7"/>
<circle cx="1167.9" cy="398.5" r="8.7"/>
<circle cx="822.0" cy="463.5" r="8.7"/>
<circle cx="1136.8" cy="409.4" r="8.7"/>
<circle cx="1030.9" cy="424.0" r="8.7"/>
<circle cx="1210.4" cy="393.4" r="8.7"/>
<circle cx="1177.9" cy="380.5" r="8.7"/>
<circle cx="1241.3" cy="249.5" r="8.7"/>
<circle cx="841.0" cy="459.1" r="8.7"/>
<circle cx="1256.3" cy="324.9" r="8.7"/>
<circle cx="1236.5" cy="414.3" r="8.7"/>
<circle cx="1277.6" cy="314.7" r="8.7"/>
<circle cx="1272.2" cy="231.6" r="8.7"/>
<circle cx="850.4" cy="453.8" r="8.7"/>
<circle cx="1190.6" cy="327.0" r="8.7"/>
<circle cx="1059.1" cy="414.1" r="8.7"/>
<circle cx="1228.9" cy="418.8" r="8.7"/>
<circle cx="1198.9" cy="427.6" r="8.7"/>
<circle cx="1240.9" cy="308.1" r="8.7"/>
<circle cx="1276.4" cy="180.5" r="8.7"/>
<circle cx="1184.5" cy="316.7" r="8.7"/>
<circle cx="1207.9" cy="312.2" r="8.7"/>
<circle cx="1149.2" cy="455.5" r="8.7"/>
<circle cx="1249.6" cy="406.4" r="8.7"/>
<circle cx="1137.2" cy="352.9" r="8.7"/>
<circle cx="1224.8" cy="325.7" r="8.7"/>
<circle cx="1167.8" cy="370.1" r="8.7"/>
<circle cx="1100.3" cy="404.7" r="8.7"/>
<circle cx="1278.8" cy="185.1" r="8.7"/>
<circle cx="1270.1" cy="375.9" r="8.7"/>
<circle cx="926.5" cy="413.7" r="8.7"/>
<circle cx="1228.9" cy="336.4" r="8.7"/>
<circle cx="959.5" cy="440.9" r="8.7"/>
<circle cx="1195.5" cy="436.6" r="8.7"/>
<circle cx="1182.0" cy="368.6" r="8.7"/>
<circle cx="826.4" cy="417.2" r="8.7"/>
<circle cx="1202.6" cy="353.1" r="8.7"/>
<circle cx="995.5" cy="462.1" r="8.7"/>
<circle cx="1114.9" cy="416.3" r="8.7"/>
<circle cx="1273.4" cy="153.4" r="8.7"/>
<circle cx="1121.7" cy="340.2" r="8.7"/>
<circle cx="1269.3" cy="399.8" r="8.7"/>
<circle cx="1206.3" cy="347.3" r="8.7"/>
<circle cx="832.6" cy="426.0" r="8.7"/>
<circle cx="965.7" cy="394.6" r="8.7"/>
<circle cx="1278.7" cy="169.0" r="8.7"/>
<circle cx="1210.1" cy="382.0" r="8.7"/>
<circle cx="1265.9" cy="368.3" r="8.7"/>
<circle cx="941.4" cy="430.6" r="8.7"/>
<circle cx="1255.2" cy="265.3" r="8.7"/>
<circle cx="955.0" cy="457.4" r="8.7"/>
<circle cx="1196.8" cy="361.8" r="8.7"/>
<circle cx="970.7" cy="420.2" r="8.7"/>
<circle cx="1278.8" cy="160.7" r="8.7"/>
<circle cx="1059.8" cy="447.4" r="8.7"/>
<circle cx="1243.4" cy="429.3" r="8.7"/>
<circle cx="1248.5" cy="235.8" r="8.7"/>
<circle cx="1152.9" cy="367.2" r="8.7"/>
<circle cx="1041.5" cy="351.1" r="8.7"/>
<circle cx="924.6" cy="399.6" r="8.7"/>
<circle cx="903.2" cy="448.3" r="8.7"/>
<circle cx="1279.0" cy="313.6" r="8.7"/>
<circle cx="1207.2" cy="437.7" r="8.7"/>
<circle cx="1171.7" cy="386.6" r="8.7"/>
<circle cx="1186.5" cy="312.5" r="8.7"/>
<circle cx="867.9" cy="370.3" r="8.7"/>
<circle cx="927.2" cy="462.6" r="8.7"/>
<circle cx="1247.4" cy="411.2" r="8.7"/>
<circle cx="1039.1" cy="428.8" r="8.7"/>
<circle cx="1102.8" cy="391.5" r="8.7"/>
<circle cx="1260.0" cy="307.2" r="8.7"/>
<circle cx="1249.2" cy="271.4" r="8.7"/>
<circle cx="1029.7" cy="460.1" r="8.7"/>
<circle cx="1274.8" cy="156.4" r="8.7"/>
<circle cx="1183.5" cy="325.0" r="8.7"/>
<circle cx="1267.0" cy="396.9" r="8.7"/>
<circle cx="1181.9" cy="392.3" r="8.7"/>
<circle cx="1214.2" cy="332.4" r="8.7"/>
<circle cx="940.6" cy="445.0" r="8.7"/>
<circle cx="944.9" cy="433.0" r="8.7"/>
<circle cx="1252.1" cy="264.3" r="8.7"/>
<circle cx="1271.6" cy="167.1" r="8.7"/>
<circle cx="805.7" cy="404.0" r="8.7"/>
<circle cx="858.5" cy="462.3" r="8.7"/>
<circle cx="1197.2" cy="335.0" r="8.7"/>
<circle cx="1191.7" cy="397.3" r="8.7"/>
<circle cx="796.3" cy="386.5" r="8.7"/>
<circle cx="1175.7" cy="362.5" r="8.7"/>
<circle cx="1262.8" cy="256.4" r="8.7"/>
<circle cx="1237.2" cy="399.3" r="8.7"/>
<circle cx="1188.8" cy="351.0" r="8.7"/>
<circle cx="1130.9" cy="452.7" r="8.7"/>
<circle cx="1226.0" cy="287.8" r="8.7"/>
<circle cx="1256.2" cy="264.4" r="8.7"/>
<circle cx="1198.6" cy="328.2" r="8.7"/>
<circle cx="1198.2" cy="316.2" r="8.7"/>
<circle cx="803.7" cy="442.4" r="8.7"/>
<circle cx="1278.8" cy="342.1" r="8.7"/>
<circle cx="1259.6" cy="356.4" r="8.7"/>
<circle cx="1277.3" cy="326.8" r="8.7"/>
<circle cx="1139.8" cy="372.3" r="8.7"/>
<circle cx="1246.4" cy="419.8" r="8.7"/>
<circle cx="967.8" cy="435.8" r="8.7"/>
<circle cx="1053.1" cy="413.2" r="8.7"/>
<circle cx="1235.5" cy="281.0" r="8.7"/>
<circle cx="1160.2" cy="343.9" r="8.7"/>
<circle cx="1216.9" cy="336.2" r="8.7"/>
<circle cx="1100.0" cy="387.3" r="8.7"/>
<circle cx="1039.6" cy="438.5" r="8.7"/>
<circle cx="1215.2" cy="394.8" r="8.7"/>
<circle cx="1201.0" cy="396.4" r="8.7"/>
<circle cx="1271.8" cy="168.0" r="8.7"/>
<circle cx="1054.2" cy="441.8" r="8.7"/>
<circle cx="1170.2" cy="395.5" r="8.7"/>
<circle cx="1210.4" cy="407.0" r="8.7"/>
<circle cx="1099.6" cy="443.2" r="8.7"/>
<circle cx="1264.4" cy="238.3" r="8.7"/>
<circle cx="1004.0" cy="444.6" r="8.7"/>
<circle cx="1219.8" cy="412.5" r="8.7"/>
<circle cx="1228.9" cy="296.9" r="8.7"/>
<circle cx="1086.4" cy="430.0" r="8.7"/>
<circle cx="945.3" cy="377.9" r="8.7"/>
<circle cx="1154.8" cy="373.6" r="8.7"/>
<circle cx="986.8" cy="458.0" r="8.7"/>
<circle cx="991.0" cy="379.7" r="8.7"/>
<circle cx="1223.1" cy="367.0" r="8.7"/>
<circle cx="1253.5" cy="257.1" r="8.7"/>
<circle cx="1256.5" cy="379.1" r="8.7"/>
<circle cx="916.2" cy="400.4" r="8.7"/>
<circle cx="1198.1" cy="426.8" r="8.7"/>
<circle cx="985.2" cy="426.5" r="8.7"/>
<circle cx="1184.6" cy="376.5" r="8.7"/>
<circle cx="1151.0" cy="407.5" r="8.7"/>
<circle cx="1150.3" cy="365.7" r="8.7"/>
<circle cx="1061.5" cy="423.6" r="8.7"/>
<circle cx="1229.4" cy="373.6" r="8.7"/>
<circle cx="1049.2" cy="406.8" r="8.7"/>
<circle cx="857.6" cy="448.3" r="8.7"/>
<circle cx="1065.7" cy="403.5" r="8.7"/>
<circle cx="1078.0" cy="405.9" r="8.7"/>
<circle cx="1227.2" cy="363.8" r="8.7"/>
<circle cx="1178.3" cy="409.1" r="8.7"/>
<circle cx="831.4" cy="458.3" r="8.7"/>
<circle cx="1160.9" cy="364.7" r="8.7"/>
<circle cx="1039.9" cy="446.9" r="8.7"/>
<circle cx="1269.3" cy="207.6" r="8.7"/>
<circle cx="937.6" cy="449.8" r="8.7"/>
<circle cx="979.2" cy="426.8" r="8.7"/>
<circle cx="1146.2" cy="436.7" r="8.7"/>
<circle cx="1260.9" cy="382.9" r="8.7"/>
<circle cx="1238.9" cy="350.4" r="8.7"/>
<circle cx="1255.8" cy="280.1" r="8.7"/>
<circle cx="1275.2" cy="291.0" r="8.7"/>
<circle cx="1033.4" cy="392.8" r="8.7"/>
<circle cx="1175.0" cy="362.3" r="8.7"/>
<circle cx="1257.3" cy="331.7" r="8.7"/>
<circle cx="1197.6" cy="440.8" r="8.7"/>
<circle cx="1236.1" cy="322.3" r="8.7"/>
<circle cx="1243.9" cy="288.1" r="8.7"/>
<circle cx="1095.8" cy="420.6" r="8.7"/>
<circle cx="1226.8" cy="395.4" r="8.7"/>
<circle cx="1041.6" cy="452.1" r="8.7"/>
<circle cx="1239.1" cy="341.5" r="8.7"/>
<circle cx="971.1" cy="446.4" r="8.7"/>
<circle cx="1271.8" cy="387.7" r="8.7"/>
<circle cx="1186.7" cy="326.9" r="8.7"/>
<circle cx="1046.2" cy="442.3" r="8.7"/>
<circle cx="993.9" cy="427.9" r="8.7"/>
<circle cx="1262.0" cy="232.5" r="8.7"/>
<circle cx="1179.3" cy="382.4" r="8.7"/>
<circle cx="1192.2" cy="330.1" r="8.7"/>
<circle cx="1105.0" cy="393.0" r="8.7"/>
<circle cx="1251.6" cy="399.3" r="8.7"/>
<circle cx="1260.4" cy="363.0" r="8.7"/>
<circle cx="1238.3" cy="396.4" r="8.7"/>
<circle cx="1036.6" cy="430.1" r="8.7"/>
<circle cx="1268.1" cy="370.2" r="8.7"/>
<circle cx="1278.7" cy="305.7" r="8.7"/>
<circle cx="1268.4" cy="206.7" r="8.7"/>
<circle cx="1241.3" cy="421.5" r="8.7"/>
<circle cx="1190.4" cy="442.4" r="8.7"/>
<circle cx="1246.9" cy="294.8" r="8.7"/>
<circle cx="1222.5" cy="429.4" r="8.7"/>
<circle cx="1028.2" cy="353.0" r="8.7"/>
<circle cx="1207.6" cy="298.5" r="8.7"/>
<circle cx="1266.1" cy="238.1" r="8.7"/>
<circle cx="1213.7" cy="399.5" r="8.7"/>
<circle cx="1249.4" cy="264.1" r="8.7"/>
<circle cx="944.1" cy="414.1" r="8.7"/>
<circle cx="1271.8" cy="330.3" r="8.7"/>
<circle cx="1240.1" cy="349.7" r="8.7"/>
<circle cx="1251.7" cy="402.8" r="8.7"/>
<circle cx="1066.1" cy="448.9" r="8.7"/>
<circle cx="1262.7" cy="263.7" r="8.7"/>
<circle cx="971.3" cy="429.6" r="8.7"/>
<circle cx="845.1" cy="452.5" r="8.7"/>
<circle cx="891.8" cy="451.6" r="8.7"/>
<circle cx="1240.9" cy="356.1" r="8.7"/>
<circle cx="850.6" cy="424.9" r="8.7"/>
<circle cx="1135.8" cy="369.1" r="8.7"/>
<circle cx="984.6" cy="409.5" r="8.7"/>
<circle cx="1104.1" cy="426.8" r="8.7"/>
<circle cx="1150.2" cy="408.7" r="8.7"/>
<circle cx="1269.1" cy="305.5" r="8.7"/>
<circle cx="1272.6" cy="178.2" r="8.7"/>
<circle cx="1038.5" cy="439.8" r="8.7"/>
<circle cx="799.6" cy="458.3" r="8.7"/>
<circle cx="1259.9" cy="393.7" r="8.7"/>
<circle cx="978.5" cy="447.6" r="8.7"/>
<circle cx="1173.4" cy="406.1" r="8.7"/>
<circle cx="936.4" cy="404.0" r="8.7"/>
<circle cx="1260.3" cy="221.3" r="8.7"/>
<circle cx="1048.2" cy="436.2" r="8.7"/>
<circle cx="1169.4" cy="377.3" r="8.7"/>
<circle cx="794.3" cy="462.9" r="8.7"/>
<circle cx="903.2" cy="456.7" r="8.7"/>
<circle cx="989.3" cy="372.7" r="8.7"/>
<circle cx="1266.1" cy="195.7" r="8.7"/>
<circle cx="1097.1" cy="350.1" r="8.7"/>
<circle cx="1278.1" cy="300.2" r="8.7"/>
<circle cx="1106.3" cy="446.8" r="8.7"/>
<circle cx="1136.9" cy="447.2" r="8.7"/>
<circle cx="1215.7" cy="413.1" r="8.7"/>
<circle cx="850.8" cy="395.6" r="8.7"/>
<circle cx="1266.7" cy="367.9" r="8.7"/>
<circle cx="1199.1" cy="269.1" r="8.7"/>
<circle cx="851.7" cy="462.8" r="8.7"/>
<circle cx="1270.6" cy="300.6" r="8.7"/>
<circle cx="962.7" cy="432.3" r="8.7"/>
<circle cx="1239.8" cy="329.5" r="8.7"/>
<circle cx="1229.1" cy="291.8" r="8.7"/>
<circle cx="848.5" cy="462.0" r="8.7"/>
<circle cx="949.0" cy="450.1" r="8.7"/>
<circle cx="1270.8" cy="357.0" r="8.7"/>
<circle cx="848.5" cy="368.3" r="8.7"/>
<circle cx="1221.5" cy="295.8" r="8.7"/>
<circle cx="910.0" cy="453.0" r="8.7"/>
<circle cx="1252.7" cy="398.6" r="8.7"/>
<circle cx="1278.5" cy="175.3" r="8.7"/>
<circle cx="1015.0" cy="442.7" r="8.7"/>
<circle cx="1263.4" cy="374.5" r="8.7"/>
<circle cx="1137.4" cy="334.4" r="8.7"/>
<circle cx="1202.7" cy="431.9" r="8.7"/>
<circle cx="1071.1" cy="431.6" r="8.7"/>
<circle cx="1197.6" cy="415.3" r="8.7"/>
<circle cx="1098.9" cy="440.9" r="8.7"/>
<circle cx="1042.6" cy="402.7" r="8.7"/>
<circle cx="1068.3" cy="344.8" r="8.7"/>
<circle cx="1111.0" cy="377.5" r="8.7"/>
<circle cx="978.3" cy="428.8" r="8.7"/>
<circle cx="1155.6" cy="343.5" r="8.7"/>
<circle cx="1174.9" cy="346.8" r="8.7"/>
<circle cx="1103.0" cy="453.1" r="8.7"/>
<circle cx="887.9" cy="406.4" r="8.7"/>
<circle cx="919.0" cy="383.6" r="8.7"/>
<circle cx="892.5" cy="459.8" r="8.7"/>
<circle cx="1176.6" cy="355.2" r="8.7"/>
<circle cx="1251.2" cy="363.9" r="8.7"/>
<circle cx="1263.3" cy="288.9" r="8.7"/>
<circle cx="1185.2" cy="418.6" r="8.7"/>
<circle cx="1052.7" cy="428.3" r="8.7"/>
<circle cx="1268.5" cy="377.5" r="8.7"/>
<circle cx="1269.7" cy="257.1" r="8.7"/>
<circle cx="1212.8" cy="354.4" r="8.7"/>
<circle cx="986.4" cy="403.9" r="8.7"/>
<circle cx="1065.8" cy="432.6" r="8.7"/>
<circle cx="1267.6" cy="358.5" r="8.7"/>
<circle cx="1186.5" cy="379.7" r="8.7"/>
<circle cx="878.6" cy="453.4" r="8.7"/>
<circle cx="1187.5" cy="363.2" r="8.7"/>
<circle cx="924.6" cy="430.2" r="8.7"/>
<circle cx="861.6" cy="430.5" r="8.7"/>
<circle cx="1162.8" cy="442.3" r="8.7"/>
<circle cx="987.9" cy="435.5" r="8.7"/>
<circle cx="925.2" cy="416.3" r="8.7"/>
<circle cx="1040.4" cy="442.1" r="8.7"/>
<circle cx="1013.6" cy="432.5" r="8.7"/>
<circle cx="1255.4" cy="399.1" r="8.7"/>
<circle cx="1261.0" cy="366.9" r="8.7"/>
<circle cx="1129.9" cy="455.3" r="8.7"/>
<circle cx="1198.7" cy="369.0" r="8.7"/>
<circle cx="1278.2" cy="317.9" r="8.7"/>
<circle cx="1073.2" cy="461.9" r="8.7"/>
<circle cx="1054.4" cy="444.3" r="8.7"/>
<circle cx="1088.6" cy="439.1" r="8.7"/>
<circle cx="893.8" cy="386.3" r="8.7"/>
<circle cx="1090.7" cy="382.2" r="8.7"/>
<circle cx="1261.3" cy="348.7" r="8.7"/>
<circle cx="1273.0" cy="179.3" r="8.7"/>
<circle cx="1229.4" cy="409.0" r="8.7"/>
<circle cx="1215.2" cy="423.3" r="8.7"/>
<circle cx="1119.5" cy="461.0" r="8.7"/>
<circle cx="1157.7" cy="419.8" r="8.7"/>
<circle cx="1043.5" cy="453.7" r="8.7"/>
<circle cx="826.8" cy="401.2" r="8.7"/>
<circle cx="1028.3" cy="435.7" r="8.7"/>
<circle cx="799.7" cy="455.2" r="8.7"/>
<circle cx="1051.8" cy="412.4" r="8.7"/>
<circle cx="855.1" cy="428.3" r="8.7"/>
<circle cx="871.3" cy="449.0" r="8.7"/>
<circle cx="1118.8" cy="444.4" r="8.7"/>
<circle cx="1043.5" cy="460.5" r="8.7"/>
<circle cx="1278.6" cy="333.2" r="8.7"/>
<circle cx="954.5" cy="438.5" r="8.7"/>
<circle cx="1228.6" cy="420.2" r="8.7"/>
<circle cx="1189.0" cy="453.8" r="8.7"/>
<circle cx="958.0" cy="446.3" r="8.7"/>
<circle cx="1209.4" cy="407.2" r="8.7"/>
<circle cx="870.7" cy="457.7" r="8.7"/>
<circle cx="1164.8" cy="442.0" r="8.7"/>
<circle cx="1202.1" cy="363.3" r="8.7"/>
<circle cx="1260.4" cy="351.0" r="8.7"/>
<circle cx="1201.4" cy="392.8" r="8.7"/>
<circle cx="1191.7" cy="399.2" r="8.7"/>
<circle cx="1257.3" cy="305.4" r="8.7"/>
<circle cx="885.3" cy="403.7" r="8.7"/>
<circle cx="1234.8" cy="260.1" r="8.7"/>
<circle cx="1267.7" cy="219.5" r="8.7"/>
<circle cx="910.6" cy="462.7" r="8.7"/>
<circle cx="1236.4" cy="403.4" r="8.7"/>
<circle cx="1265.3" cy="395.7" r="8.7"/>
<circle cx="1159.1" cy="370.2" r="8.7"/>
<circle cx="1024.1" cy="456.6" r="8.7"/>
<circle cx="1117.7" cy="422.8" r="8.7"/>
<circle cx="1154.4" cy="406.7" r="8.7"/>
<circle cx="1023.4" cy="439.5" r="8.7"/>
<circle cx="1002.2" cy="395.8" r="8.7"/>
<circle cx="796.6" cy="450.7" r="8.7"/>
<circle cx="880.9" cy="375.5" r="8.7"/>
<circle cx="1147.8" cy="431.3" r="8.7"/>
<circle cx="1001.8" cy="461.7" r="8.7"/>
<circle cx="1215.9" cy="410.7" r="8.7"/>
<circle cx="1203.0" cy="281.2" r="8.7"/>
<circle cx="1149.1" cy="382.8" r="8.7"/>
<circle cx="1226.2" cy="295.9" r="8.7"/>
<circle cx="1214.7" cy="385.0" r="8.7"/>
<circle cx="1206.0" cy="438.1" r="8.7"/>
<circle cx="1192.5" cy="345.2" r="8.7"/>
<circle cx="1278.3" cy="333.8" r="8.7"/>
<circle cx="1131.0" cy="374.3" r="8.7"/>
<circle cx="1260.8" cy="340.8" r="8.7"/>
<circle cx="1187.8" cy="434.2" r="8.7"/>
<circle cx="1208.6" cy="385.3" r="8.7"/>
<circle cx="913.4" cy="447.3" r="8.7"/>
<circle cx="1265.0" cy="245.4" r="8.7"/>
<circle cx="985.4" cy="342.8" r="8.7"/>
<circle cx="1033.3" cy="462.3" r="8.7"/>
<circle cx="950.3" cy="463.3" r="8.7"/>
<circle cx="1170.3" cy="432.4" r="8.7"/>
<circle cx="1073.4" cy="399.4" r="8.7"/>
<circle cx="1268.7" cy="233.7" r="8.7"/>
<circle cx="1264.8" cy="235.1" r="8.7"/>
<circle cx="935.1" cy="376.9" r="8.7"/>
<circle cx="1278.8" cy="188.9" r="8.7"/>
<circle cx="1186.1" cy="448.0" r="8.7"/>
<circle cx="1038.4" cy="432.1" r="8.7"/>
<circle cx="1064.8" cy="429.7" r="8.7"/>
<circle cx="1093.1" cy="420.2" r="8.7"/>
<circle cx="1106.2" cy="377.0" r="8.7"/>
<circle cx="1012.8" cy="443.2" r="8.7"/>
<circle cx="960.1" cy="421.3" r="8.7"/>
<circle cx="1206.9" cy="401.0" r="8.7"/>
<circle cx="1226.6" cy="391.8" r="8.7"/>
<circle cx="945.6" cy="401.4" r="8.7"/>
<circle cx="967.9" cy="459.8" r="8.7"/>
<circle cx="951.4" cy="396.6" r="8.7"/>
<circle cx="928.5" cy="452.4" r="8.7"/>
<circle cx="1192.2" cy="321.0" r="8.7"/>
<circle cx="1144.1" cy="370.6" r="8.7"/>
<circle cx="1277.3" cy="372.6" r="8.7"/>
<circle cx="1278.5" cy="193.1" r="8.7"/>
<circle cx="979.5" cy="459.6" r="8.7"/>
<circle cx="947.7" cy="442.6" r="8.7"/>
<circle cx="957.5" cy="453.0" r="8.7"/>
<circle cx="1191.1" cy="340.2" r="8.7"/>
<circle cx="1253.9" cy="272.2" r="8.7"/>
<circle cx="1043.2" cy="430.0" r="8.7"/>
<circle cx="1245.7" cy="316.5" r="8.7"/>
<circle cx="1164.7" cy="403.0" r="8.7"/>
<circle cx="1166.1" cy="387.2" r="8.7"/>
<circle cx="1000.1" cy="456.0" r="8.7"/>
<circle cx="1122.8" cy="388.7" r="8.7"/>
<circle cx="1233.7" cy="276.5" r="8.7"/>
<circle cx="1210.7" cy="300.4" r="8.7"/>
<circle cx="1135.6" cy="410.2" r="8.7"/>
<circle cx="888.0" cy="451.0" r="8.7"/>
<circle cx="1065.5" cy="423.9" r="8.7"/>
<circle cx="991.5" cy="393.6" r="8.7"/>
<circle cx="1083.0" cy="438.5" r="8.7"/>
<circle cx="913.0" cy="420.1" r="8.7"/>
<circle cx="1263.1" cy="200.5" r="8.7"/>
<circle cx="1231.0" cy="371.3" r="8.7"/>
<circle cx="963.4" cy="401.8" r="8.7"/>
<circle cx="1195.2" cy="297.5" r="8.7"/>
<circle cx="1113.6" cy="437.3" r="8.7"/>
<circle cx="1014.3" cy="421.3" r="8.7"/>
<circle cx="986.3" cy="421.7" r="8.7"/>
<circle cx="1127.6" cy="443.3" r="8.7"/>
<circle cx="1200.5" cy="418.7" r="8.7"/>
<circle cx="952.4" cy="460.7" r="8.7"/>
<circle cx="1197.0" cy="434.4" r="8.7"/>
<circle cx="1241.0" cy="268.7" r="8.7"/>
<circle cx="1182.2" cy="405.7" r="8.7"/>
<circle cx="1260.6" cy="224.1" r="8.7"/>
<circle cx="1053.0" cy="411.9" r="8.7"/>
<circle cx="800.6" cy="443.8" r="8.7"/>
<circle cx="1026.7" cy="451.0" r="8.7"/>
<circle cx="909.0" cy="438.5" r="8.7"/>
<circle cx="934.6" cy="418.7" r="8.7"/>
<circle cx="1140.1" cy="424.2" r="8.7"/>
<circle cx="873.9" cy="455.9" r="8.7"/>
<circle cx="1272.1" cy="365.0" r="8.7"/>
<circle cx="1263.5" cy="298.7" r="8.7"/>
<circle cx="1162.6" cy="357.0" r="8.7"/>
<circle cx="1184.4" cy="369.3" r="8.7"/>
<circle cx="1038.8" cy="454.6" r="8.7"/>
<circle cx="1257.1" cy="348.9" r="8.7"/>
<circle cx="1166.9" cy="346.7" r="8.7"/>
<circle cx="1054.1" cy="448.8" r="8.7"/>
<circle cx="1107.7" cy="450.9" r="8.7"/>
<circle cx="1086.6" cy="405.9" r="8.7"/>
<circle cx="1096.9" cy="441.4" r="8.7"/>
<circle cx="1276.1" cy="280.0" r="8.7"/>
<circle cx="1124.5" cy="426.0" r="8.7"/>
<circle cx="1152.5" cy="445.6" r="8.7"/>
<circle cx="1064.2" cy="444.2" r="8.7"/>
<circle cx="1007.8" cy="437.3" r="8.7"/>
<circle cx="920.6" cy="463.4" r="8.7"/>
<circle cx="1251.1" cy="366.8" r="8.7"/>
<circle cx="979.3" cy="437.1" r="8.7"/>
<circle cx="1189.0" cy="308.8" r="8.7"/>
<circle cx="1164.0" cy="343.3" r="8.7"/>
<circle cx="1101.8" cy="425.8" r="8.7"/>
<circle cx="869.6" cy="459.9" r="8.7"/>
<circle cx="1235.2" cy="354.9" r="8.7"/>
<circle cx="1086.4" cy="441.2" r="8.7"/>
<circle cx="1156.7" cy="378.9" r="8.7"/>
<circle cx="1065.4" cy="458.7" r="8.7"/>
<circle cx="1223.1" cy="304.9" r="8.7"/>
<circle cx="1132.0" cy="398.5" r="8.7"/>
<circle cx="1210.9" cy="306.2" r="8.7"/>
<circle cx="1126.2" cy="422.9" r="8.7"/>
<circle cx="1214.1" cy="306.1" r="8.7"/>
<circle cx="1104.6" cy="391.5" r="8.7"/>
<circle cx="1275.1" cy="149.5" r="8.7"/>
<circle cx="985.1" cy="453.3" r="8.7"/>
<circle cx="1205.2" cy="351.5" r="8.7"/>
<circle cx="1278.6" cy="364.1" r="8.7"/>
<circle cx="1139.8" cy="428.7" r="8.7"/>
<circle cx="1124.8" cy="416.0" r="8.7"/>
<circle cx="999.2" cy="392.5" r="8.7"/>
<circle cx="1278.9" cy="184.6" r="8.7"/>
<circle cx="1243.0" cy="265.4" r="8.7"/>
<circle cx="968.1" cy="432.4" r="8.7"/>
<circle cx="1259.8" cy="332.8" r="8.7"/>
<circle cx="1154.5" cy="398.1" r="8.7"/>
<circle cx="1225.7" cy="442.1" r="8.7"/>
<circle cx="896.4" cy="438.9" r="8.7"/>
<circle cx="1212.5" cy="341.4" r="8.7"/>
<circle cx="982.2" cy="430.8" r="8.7"/>
<circle cx="1131.1" cy="380.8" r="8.7"/>
<circle cx="1219.7" cy="335.9" r="8.7"/>
<circle cx="1130.5" cy="386.8" r="8.7"/>
<circle cx="1157.9" cy="401.0" r="8.7"/>
<circle cx="1036.7" cy="431.1" r="8.7"/>
<circle cx="914.8" cy="458.9" r="8.7"/>
<circle cx="800.9" cy="455.5" r="8.7"/>
<circle cx="1255.3" cy="374.6" r="8.7"/>
<circle cx="1208.0" cy="357.2" r="8.7"/>
<circle cx="960.1" cy="456.9" r="8.7"/>
<circle cx="1278.5" cy="335.2" r="8.7"/>
<circle cx="1048.5" cy="350.7" r="8.7"/>
<circle cx="902.1" cy="459.9" r="8.7"/>
<circle cx="1273.2" cy="326.0" r="8.7"/>
<circle cx="1269.4" cy="284.4" r="8.7"/>
<circle cx="1101.8" cy="447.8" r="8.7"/>
<circle cx="1164.7" cy="357.6" r="8.7"/>
<circle cx="1274.0" cy="189.6" r="8.7"/>
<circle cx="1075.0" cy="423.6" r="8.7"/>
<circle cx="1182.9" cy="391.3" r="8.7"/>
<circle cx="1165.6" cy="443.4" r="8.7"/>
<circle cx="1016.0" cy="457.8" r="8.7"/>
<circle cx="997.2" cy="419.5" r="8.7"/>
<circle cx="1227.9" cy="367.7" r="8.7"/>
<circle cx="1263.3" cy="249.6" r="8.7"/>
<circle cx="987.5" cy="444.1" r="8.7"/>
<circle cx="1050.6" cy="416.1" r="8.7"/>
<circle cx="1220.4" cy="381.0" r="8.7"/>
<circle cx="1227.4" cy="300.3" r="8.7"/>
<circle cx="1101.5" cy="410.6" r="8.7"/>
<circle cx="1164.0" cy="446.6" r="8.7"/>
<circle cx="1278.4" cy="302.7" r="8.7"/>
<circle cx="827.3" cy="422.7" r="8.7"/>
<circle cx="910.1" cy="411.7" r="8.7"/>
<circle cx="991.1" cy="460.2" r="8.7"/>
<circle cx="1097.9" cy="401.3" r="8.7"/>
<circle cx="1140.1" cy="413.6" r="8.7"/>
<circle cx="1278.8" cy="320.7" r="8.7"/>
<circle cx="1042.0" cy="431.9" r="8.7"/>
<circle cx="1100.8" cy="435.4" r="8.7"/>
<circle cx="1188.5" cy="395.1" r="8.7"/>
<circle cx="924.3" cy="426.0" r="8.7"/>
<circle cx="1064.1" cy="456.4" r="8.7"/>
<circle cx="1203.4" cy="398.7" r="8.7"/>
<circle cx="1260.7" cy="395.2" r="8.7"/>
<circle cx="1145.3" cy="458.0" r="8.7"/>
<circle cx="1146.3" cy="438.9" r="8.7"/>
<circle cx="1051.2" cy="444.3" r="8.7"/>
<circle cx="874.2" cy="452.6" r="8.7"/>
<circle cx="1135.7" cy="448.4" r="8.7"/>
<circle cx="1257.2" cy="352.0" r="8.7"/>
<circle cx="1261.0" cy="377.6" r="8.7"/>
<circle cx="910.5" cy="404.4" r="8.7"/>
<circle cx="1017.4" cy="444.8" r="8.7"/>
<circle cx="1030.2" cy="419.8" r="8.7"/>
<circle cx="1256.7" cy="336.3" r="8.7"/>
<circle cx="1273.7" cy="250.7" r="8.7"/>
<circle cx="1272.8" cy="179.1" r="8.7"/>
<circle cx="1132.9" cy="432.1" r="8.7"/>
<circle cx="828.5" cy="453.4" r="8.7"/>
<circle cx="1151.2" cy="443.4" r="8.7"/>
<circle cx="1135.4" cy="409.8" r="8.7"/>
<circle cx="1115.4" cy="390.6" r="8.7"/>
<circle cx="1277.8" cy="237.8" r="8.7"/>
<circle cx="1137.1" cy="425.0" r="8.7"/>
<circle cx="1130.1" cy="459.3" r="8.7"/>
<circle cx="812.1" cy="459.2" r="8.7"/>
<circle cx="1180.1" cy="312.8" r="8.7"/>
<circle cx="1260.4" cy="291.8" r="8.7"/>
<circle cx="1243.7" cy="339.1" r="8.7"/>
<circle cx="958.5" cy="429.0" r="8.7"/>
<circle cx="1237.6" cy="429.3" r="8.7"/>
<circle cx="1066.5" cy="452.1" r="8.7"/>
<circle cx="1146.9" cy="331.9" r="8.7"/>
<circle cx="1131.2" cy="399.9" r="8.7"/>
<circle cx="985.9" cy="453.0" r="8.7"/>
<circle cx="1189.9" cy="436.1" r="8.7"/>
<circle cx="894.6" cy="462.8" r="8.7"/>
<circle cx="1252.0" cy="274.2" r="8.7"/>
<circle cx="1255.0" cy="361.1" r="8.7"/>
<circle cx="1068.5" cy="419.4" r="8.7"/>
<circle cx="1278.9" cy="177.7" r="8.7"/>
<circle cx="1057.2" cy="461.8" r="8.7"/>
<circle cx="1242.2" cy="323.9" r="8.7"/>
<circle cx="1209.5" cy="429.5" r="8.7"/>
<circle cx="890.4" cy="438.2" r="8.7"/>
<circle cx="904.3" cy="437.7" r="8.7"/>
<circle cx="1201.8" cy="360.8" r="8.7"/>
<circle cx="1264.9" cy="227.2" r="8.7"/>
<circle cx="1059.7" cy="403.9" r="8.7"/>
<circle cx="1269.3" cy="209.0" r="8.7"/>
<circle cx="912.2" cy="453.7" r="8.7"/>
<circle cx="1145.2" cy="359.1" r="8.7"/>
<circle cx="1186.2" cy="342.7" r="8.7"/>
<circle cx="1041.4" cy="449.7" r="8.7"/>
<circle cx="1177.4" cy="451.4" r="8.7"/>
<circle cx="1232.0" cy="332.6" r="8.7"/>
<circle cx="1147.7" cy="457.8" r="8.7"/>
<circle cx="1117.5" cy="403.6" r="8.7"/>
<circle cx="1152.0" cy="402.8" r="8.7"/>
<circle cx="961.4" cy="406.5" r="8.7"/>
<circle cx="1062.0" cy="425.7" r="8.7"/>
<circle cx="1265.9" cy="380.6" r="8.7"/>
<circle cx="970.1" cy="436.2" r="8.7"/>
<circle cx="1190.9" cy="358.8" r="8.7"/>
<circle cx="1199.5" cy="336.1" r="8.7"/>
<circle cx="1273.4" cy="152.7" r="8.7"/>
<circle cx="1067.5" cy="443.9" r="8.7"/>
<circle cx="1045.1" cy="439.1" r="8.7"/>
<circle cx="1242.9" cy="416.8" r="8.7"/>
<circle cx="1106.9" cy="390.0" r="8.7"/>
<circle cx="1061.0" cy="454.6" r="8.7"/>
<circle cx="1121.9" cy="391.4" r="8.7"/>
<circle cx="1140.2" cy="398.1" r="8.7"/>
<circle cx="1273.2" cy="174.5" r="8.7"/>
<circle cx="1193.9" cy="357.9" r="8.7"/>
<circle cx="1277.6" cy="151.3" r="8.7"/>
<circle cx="1015.6" cy="361.1" r="8.7"/>
<circle cx="1144.1" cy="414.9" r="8.7"/>
<circle cx="973.1" cy="462.5" r="8.7"/>
<circle cx="993.8" cy="423.9" r="8.7"/>
<circle cx="1177.0" cy="448.1" r="8.7"/>
<circle cx="1023.5" cy="456.4" r="8.7"/>
<circle cx="1096.2" cy="453.8" r="8.7"/>
<circle cx="1257.0" cy="211.6" r="8.7"/>
<circle cx="1076.8" cy="442.7" r="8.7"/>
<circle cx="1235.7" cy="334.0" r="8.7"/>
<circle cx="1257.5" cy="317.1" r="8.7"/>
<circle cx="1219.5" cy="361.9" r="8.7"/>
<circle cx="1044.0" cy="455.4" r="8.7"/>
<circle cx="983.5" cy="462.9" r="8.7"/>
<circle cx="1260.4" cy="368.2" r="8.7"/>
<circle cx="1278.9" cy="265.4" r="8.7"/>
<circle cx="1257.3" cy="286.7" r="8.7"/>
<circle cx="1168.8" cy="377.4" r="8.7"/>
<circle cx="1186.5" cy="316.4" r="8.7"/>
<circle cx="1183.6" cy="323.9" r="8.7"/>
<circle cx="1000.5" cy="444.2" r="8.7"/>
<circle cx="1209.0" cy="361.5" r="8.7"/>
<circle cx="1171.1" cy="442.5" r="8.7"/>
<circle cx="1207.9" cy="337.4" r="8.7"/>
<circle cx="1123.5" cy="389.3" r="8.7"/>
<circle cx="914.4" cy="458.4" r="8.7"/>
<circle cx="1041.4" cy="453.6" r="8.7"/>
<circle cx="1270.3" cy="317.8" r="8.7"/>
<circle cx="1257.1" cy="295.0" r="8.7"/>
<circle cx="1278.8" cy="274.0" r="8.7"/>
<circle cx="1168.3" cy="357.7" r="8.7"/>
<circle cx="1026.7" cy="413.1" r="8.7"/>
<circle cx="1137.3" cy="410.5" r="8.7"/>
<circle cx="1244.7" cy="366.4" r="8.7"/>
<circle cx="1049.1" cy="451.0" r="8.7"/>
<circle cx="1255.0" cy="339.3" r="8.7"/>
<circle cx="1279.1" cy="339.9" r="8.7"/>
<circle cx="1251.9" cy="288.9" r="8.7"/>
<circle cx="1257.9" cy="319.0" r="8.7"/>
<circle cx="915.7" cy="455.6" r="8.7"/>
<circle cx="1252.1" cy="355.1" r="8.7"/>
<circle cx="919.6" cy="461.6" r="8.7"/>
<circle cx="1125.9" cy="345.1" r="8.7"/>
<circle cx="1255.4" cy="247.6" r="8.7"/>
<circle cx="1043.5" cy="414.9" r="8.7"/>
<circle cx="1114.8" cy="383.2" r="8.7"/>
<circle cx="1273.0" cy="284.3" r="8.7"/>
<circle cx="1245.1" cy="263.4" r="8.7"/>
<circle cx="1154.2" cy="398.1" r="8.7"/>
<circle cx="1147.1" cy="435.1" r="8.7"/>
<circle cx="932.1" cy="454.3" r="8.7"/>
<circle cx="1237.4" cy="325.2" r="8.7"/>
<circle cx="988.6" cy="416.4" r="8.7"/>
<circle cx="967.4" cy="423.6" r="8.7"/>
<circle cx="915.1" cy="441.6" r="8.7"/>
<circle cx="1259.1" cy="215.5" r="8.7"/>
<circle cx="1264.6" cy="192.5" r="8.7"/>
<circle cx="1278.4" cy="268.0" r="8.7"/>
<circle cx="1256.3" cy="369.2" r="8.7"/>
<circle cx="1262.3" cy="259.8" r="8.7"/>
<circle cx="1274.3" cy="213.8" r="8.7"/>
<circle cx="1135.8" cy="450.0" r="8.7"/>
<circle cx="1265.7" cy="324.7" r="8.7"/>
<circle cx="1207.0" cy="312.2" r="8.7"/>
<circle cx="1275.2" cy="187.6" r="8.7"/>
<circle cx="1260.1" cy="311.1" r="8.7"/>
<circle cx="1166.0" cy="416.8" r="8.7"/>
<circle cx="1167.2" cy="384.8" r="8.7"/>
<circle cx="874.3" cy="414.2" r="8.7"/>
<circle cx="1278.8" cy="138.2" r="8.7"/>
<circle cx="1273.4" cy="161.8" r="8.7"/>
<circle cx="966.1" cy="451.9" r="8.7"/>
<circle cx="1278.7" cy="357.0" r="8.7"/>
<circle cx="1238.7" cy="323.5" r="8.7"/>
<circle cx="1111.5" cy="430.7" r="8.7"/>
<circle cx="1144.1" cy="398.3" r="8.7"/>
<circle cx="1230.4" cy="295.9" r="8.7"/>
<circle cx="1121.3" cy="384.0" r="8.7"/>
<circle cx="1209.2" cy="376.0" r="8.7"/>
<circle cx="1145.7" cy="372.6" r="8.7"/>
<circle cx="1081.9" cy="461.7" r="8.7"/>
<circle cx="1108.3" cy="432.4" r="8.7"/>
<circle cx="1184.5" cy="454.3" r="8.7"/>
<circle cx="1225.1" cy="312.4" r="8.7"/>
<circle cx="1186.2" cy="296.9" r="8.7"/>
<circle cx="1159.1" cy="365.7" r="8.7"/>
<circle cx="1208.1" cy="431.8" r="8.7"/>
<circle cx="1204.7" cy="442.7" r="8.7"/>
<circle cx="884.3" cy="432.5" r="8.7"/>
<circle cx="1136.3" cy="440.9" r="8.7"/>
<circle cx="1279.0" cy="243.9" r="8.7"/>
<circle cx="1228.2" cy="404.2" r="8.7"/>
<circle cx="1251.9" cy="306.4" r="8.7"/>
<circle cx="893.4" cy="344.8" r="8.7"/>
<circle cx="1200.5" cy="305.0" r="8.7"/>
<circle cx="1141.3" cy="383.8" r="8.7"/>
<circle cx="1217.5" cy="430.2" r="8.7"/>
<circle cx="1172.0" cy="441.8" r="8.7"/>
<circle cx="1188.9" cy="330.7" r="8.7"/>
<circle cx="1059.8" cy="439.4" r="8.7"/>
<circle cx="1139.3" cy="459.9" r="8.7"/>
<circle cx="1203.5" cy="287.3" r="8.7"/>
<circle cx="1278.5" cy="179.0" r="8.7"/>
<circle cx="1040.7" cy="411.7" r="8.7"/>
<circle cx="1239.0" cy="293.2" r="8.7"/>
<circle cx="1018.7" cy="414.1" r="8.7"/>
<circle cx="1139.5" cy="459.3" r="8.7"/>
<circle cx="1189.5" cy="428.2" r="8.7"/>
<circle cx="1143.2" cy="398.1" r="8.7"/>
<circle cx="1155.7" cy="400.3" r="8.7"/>
<circle cx="1093.7" cy="426.8" r="8.7"/>
<circle cx="1271.1" cy="292.6" r="8.7"/>
<circle cx="1206.4" cy="399.5" r="8.7"/>
<circle cx="1199.0" cy="445.4" r="8.7"/>
<circle cx="1226.1" cy="385.1" r="8.7"/>
<circle cx="1156.1" cy="422.1" r="8.7"/>
<circle cx="1278.5" cy="227.9" r="8.7"/>
<circle cx="1239.3" cy="303.2" r="8.7"/>
<circle cx="1241.6" cy="373.2" r="8.7"/>
<circle cx="1178.4" cy="397.5" r="8.7"/>
<circle cx="919.6" cy="456.8" r="8.7"/>
<circle cx="1220.3" cy="396.2" r="8.7"/>
<circle cx="1219.3" cy="428.3" r="8.7"/>
<circle cx="1267.5" cy="324.6" r="8.7"/>
<circle cx="1233.0" cy="372.8" r="8.7"/>
<circle cx="1135.9" cy="370.2" r="8.7"/>
<circle cx="982.1" cy="421.4" r="8.7"/>
<circle cx="1272.8" cy="201.2" r="8.7"/>
<circle cx="1220.2" cy="339.4" r="8.7"/>
<circle cx="1255.4" cy="367.0" r="8.7"/>
<circle cx="930.7" cy="447.8" r="8.7"/>
<circle cx="1148.9" cy="407.1" r="8.7"/>
<circle cx="1242.5" cy="297.8" r="8.7"/>
<circle cx="1231.6" cy="380.1" r="8.7"/>
<circle cx="962.9" cy="415.3" r="8.7"/>
<circle cx="1085.4" cy="419.9" r="8.7"/>
<circle cx="1066.5" cy="429.5" r="8.7"/>
<circle cx="1022.1" cy="444.4" r="8.7"/>
<circle cx="1120.4" cy="409.2" r="8.7"/>
<circle cx="1045.9" cy="455.4" r="8.7"/>
<circle cx="1133.3" cy="379.0" r="8.7"/>
<circle cx="1144.9" cy="450.5" r="8.7"/>
<circle cx="1081.6" cy="462.0" r="8.7"/>
<circle cx="883.3" cy="408.7" r="8.7"/>
<circle cx="1270.9" cy="189.2" r="8.7"/>
<circle cx="1250.9" cy="296.8" r="8.7"/>
<circle cx="1278.1" cy="329.3" r="8.7"/>
<circle cx="1197.6" cy="416.2" r="8.7"/>
<circle cx="1046.4" cy="444.4" r="8.7"/>
<circle cx="1275.5" cy="248.5" r="8.7"/>
<circle cx="793.2" cy="459.9" r="8.7"/>
<circle cx="924.9" cy="449.9" r="8.7"/>
<circle cx="1098.0" cy="390.7" r="8.7"/>
<circle cx="1141.7" cy="355.4" r="8.7"/>
<circle cx="1272.3" cy="391.2" r="8.7"/>
<circle cx="1190.0" cy="410.7" r="8.7"/>
<circle cx="1135.0" cy="419.7" r="8.7"/>
<circle cx="970.0" cy="423.9" r="8.7"/>
<circle cx="856.0" cy="445.7" r="8.7"/>
<circle cx="1250.2" cy="320.4" r="8.7"/>
<circle cx="955.5" cy="416.8" r="8.7"/>
<circle cx="1272.6" cy="171.2" r="8.7"/>
<circle cx="1256.8" cy="341.8" r="8.7"/>
<circle cx="1021.3" cy="425.1" r="8.7"/>
<circle cx="1038.9" cy="417.1" r="8.7"/>
<circle cx="1215.6" cy="279.8" r="8.7"/>
<circle cx="836.4" cy="455.3" r="8.7"/>
<circle cx="1096.1" cy="414.4" r="8.7"/>
<circle cx="1039.0" cy="377.7" r="8.7"/>
<circle cx="1228.0" cy="326.6" r="8.7"/>
<circle cx="1278.2" cy="213.8" r="8.7"/>
<circle cx="1235.5" cy="437.6" r="8.7"/>
<circle cx="1082.9" cy="457.2" r="8.7"/>
<circle cx="1181.9" cy="396.8" r="8.7"/>
<circle cx="1098.1" cy="462.1" r="8.7"/>
<circle cx="1240.3" cy="252.1" r="8.7"/>
<circle cx="1258.8" cy="237.8" r="8.7"/>
<circle cx="1097.3" cy="436.8" r="8.7"/>
<circle cx="1211.7" cy="328.1" r="8.7"/>
<circle cx="1272.6" cy="331.9" r="8.7"/>
<circle cx="1122.2" cy="449.9" r="8.7"/>
<circle cx="1232.6" cy="415.4" r="8.7"/>
<circle cx="1009.3" cy="450.9" r="8.7"/>
<circle cx="1138.8" cy="395.6" r="8.7"/>
<circle cx="951.0" cy="442.1" r="8.7"/>
<circle cx="1086.1" cy="443.5" r="8.7"/>
<circle cx="1250.1" cy="324.3" r="8.7"/>
<circle cx="848.4" cy="463.4" r="8.7"/>
<circle cx="999.3" cy="462.1" r="8.7"/>
<circle cx="791.0" cy="454.7" r="8.7"/>
<circle cx="983.1" cy="439.8" r="8.7"/>
<circle cx="796.5" cy="422.3" r="8.7"/>
<circle cx="1156.4" cy="457.2" r="8.7"/>
<circle cx="1208.2" cy="419.0" r="8.7"/>
<circle cx="915.4" cy="436.2" r="8.7"/>
<circle cx="1277.7" cy="173.8" r="8.7"/>
<circle cx="906.1" cy="455.7" r="8.7"/>
<circle cx="1259.8" cy="402.7" r="8.7"/>
<circle cx="1278.8" cy="189.5" r="8.7"/>
<circle cx="1156.6" cy="350.0" r="8.7"/>
<circle cx="843.9" cy="420.4" r="8.7"/>
<circle cx="1146.1" cy="396.8" r="8.7"/>
<circle cx="1149.2" cy="357.2" r="8.7"/>
<circle cx="1273.8" cy="319.6" r="8.7"/>
<circle cx="1202.0" cy="415.5" r="8.7"/>
<circle cx="1165.9" cy="417.2" r="8.7"/>
<circle cx="1273.3" cy="215.6" r="8.7"/>
<circle cx="905.9" cy="462.3" r="8.7"/>
<circle cx="1066.9" cy="383.4" r="8.7"/>
<circle cx="1179.2" cy="319.0" r="8.7"/>
<circle cx="1138.1" cy="406.0" r="8.7"/>
<circle cx="1073.7" cy="454.9" r="8.7"/>
<circle cx="996.2" cy="404.1" r="8.7"/>
<circle cx="1076.5" cy="461.4" r="8.7"/>
<circle cx="1214.3" cy="388.7" r="8.7"/>
<circle cx="1272.0" cy="174.3" r="8.7"/>
<circle cx="1078.6" cy="406.4" r="8.7"/>
<circle cx="1067.7" cy="430.1" r="8.7"/>
<circle cx="1251.5" cy="354.7" r="8.7"/>
<circle cx="1156.2" cy="456.6" r="8.7"/>
<circle cx="1220.0" cy="309.8" r="8.7"/>
<circle cx="1148.1" cy="379.1" r="8.7"/>
<circle cx="880.9" cy="453.3" r="8.7"/>
<circle cx="1104.5" cy="458.1" r="8.7"/>
<circle cx="1250.6" cy="368.7" r="8.7"/>
<circle cx="1138.0" cy="406.1" r="8.7"/>
<circle cx="1234.8" cy="401.8" r="8.7"/>
<circle cx="1031.2" cy="436.4" r="8.7"/>
<circle cx="1128.7" cy="434.3" r="8.7"/>
<circle cx="839.7" cy="461.5" r="8.7"/>
<circle cx="1268.2" cy="381.9" r="8.7"/>
<circle cx="888.8" cy="392.2" r="8.7"/>
<circle cx="986.1" cy="445.8" r="8.7"/>
<circle cx="1155.7" cy="405.2" r="8.7"/>
<circle cx="1272.2" cy="158.3" r="8.7"/>
<circle cx="971.7" cy="460.3" r="8.7"/>
<circle cx="1063.2" cy="411.5" r="8.7"/>
<circle cx="1250.3" cy="358.5" r="8.7"/>
<circle cx="1125.9" cy="461.1" r="8.7"/>
<circle cx="1278.4" cy="231.9" r="8.7"/>
<circle cx="1196.5" cy="303.4" r="8.7"/>
<circle cx="1190.2" cy="306.2" r="8.7"/>
<circle cx="1159.8" cy="424.1" r="8.7"/>
<circle cx="1213.2" cy="364.9" r="8.7"/>
<circle cx="1069.7" cy="423.6" r="8.7"/>
<circle cx="916.0" cy="424.2" r="8.7"/>
<circle cx="1180.1" cy="340.9" r="8.7"/>
<circle cx="1243.9" cy="329.8" r="8.7"/>
<circle cx="1168.1" cy="333.5" r="8.7"/>
<circle cx="902.5" cy="457.3" r="8.7"/>
<circle cx="913.4" cy="429.2" r="8.7"/>
<circle cx="1011.3" cy="343.7" r="8.7"/>
<circle cx="1057.3" cy="370.6" r="8.7"/>
<circle cx="1079.5" cy="428.1" r="8.7"/>
<circle cx="955.9" cy="433.1" r="8.7"/>
<circle cx="1188.9" cy="346.8" r="8.7"/>
<circle cx="1120.6" cy="402.2" r="8.7"/>
<circle cx="899.3" cy="449.1" r="8.7"/>
<circle cx="1187.3" cy="372.8" r="8.7"/>
<circle cx="1151.5" cy="437.5" r="8.7"/>
<circle cx="1134.5" cy="342.0" r="8.7"/>
<circle cx="1109.6" cy="433.4" r="8.7"/>
<circle cx="1242.3" cy="380.1" r="8.7"/>
<circle cx="1214.8" cy="368.9" r="8.7"/>
<circle cx="811.3" cy="463.5" r="8.7"/>
<circle cx="1195.5" cy="356.5" r="8.7"/>
<circle cx="1278.6" cy="311.5" r="8.7"/>
<circle cx="1249.1" cy="268.4" r="8.7"/>
<circle cx="1211.1" cy="374.2" r="8.7"/>
<circle cx="973.8" cy="447.7" r="8.7"/>
<circle cx="1173.5" cy="374.1" r="8.7"/>
<circle cx="1253.5" cy="359.8" r="8.7"/>
<circle cx="1276.6" cy="307.9" r="8.7"/>
<circle cx="850.9" cy="448.8" r="8.7"/>
<circle cx="1041.9" cy="418.8" r="8.7"/>
<circle cx="1235.2" cy="364.3" r="8.7"/>
<circle cx="1129.6" cy="421.2" r="8.7"/>
<circle cx="1232.7" cy="372.5" r="8.7"/>
<circle cx="1167.6" cy="413.1" r="8.7"/>
<circle cx="857.3" cy="461.2" r="8.7"/>
<circle cx="794.5" cy="451.9" r="8.7"/>
<circle cx="887.4" cy="430.4" r="8.7"/>
<circle cx="1133.6" cy="372.8" r="8.7"/>
<circle cx="1138.6" cy="374.0" r="8.7"/>
<circle cx="1119.8" cy="421.1" r="8.7"/>
<circle cx="1049.3" cy="425.9" r="8.7"/>
<circle cx="1061.4" cy="453.2" r="8.7"/>
<circle cx="1252.6" cy="391.3" r="8.7"/>
<circle cx="1073.7" cy="452.3" r="8.7"/>
<circle cx="1260.3" cy="305.1" r="8.7"/>
<circle cx="937.8" cy="461.6" r="8.7"/>
<circle cx="945.5" cy="440.9" r="8.7"/>
<circle cx="1228.6" cy="396.9" r="8.7"/>
<circle cx="1201.3" cy="303.1" r="8.7"/>
<circle cx="1278.6" cy="304.3" r="8.7"/>
<circle cx="1037.4" cy="444.2" r="8.7"/>
<circle cx="1220.8" cy="422.7" r="8.7"/>
<circle cx="1187.8" cy="399.9" r="8.7"/>
<circle cx="1068.6" cy="403.5" r="8.7"/>
<circle cx="1272.4" cy="364.6" r="8.7"/>
<circle cx="1279.3" cy="162.7" r="8.7"/>
<circle cx="941.6" cy="430.0" r="8.7"/>
<circle cx="1272.2" cy="384.9" r="8.7"/>
<circle cx="1190.6" cy="374.3" r="8.7"/>
<circle cx="1087.0" cy="435.0" r="8.7"/>
<circle cx="1278.8" cy="350.2" r="8.7"/>
<circle cx="912.1" cy="439.6" r="8.7"/>
<circle cx="985.2" cy="442.6" r="8.7"/>
<circle cx="1000.6" cy="436.3" r="8.7"/>
<circle cx="1045.9" cy="408.9" r="8.7"/>
<circle cx="1249.7" cy="244.5" r="8.7"/>
<circle cx="1216.0" cy="378.7" r="8.7"/>
<circle cx="1250.0" cy="288.1" r="8.7"/>
<circle cx="1228.3" cy="281.8" r="8.7"/>
<circle cx="1278.7" cy="245.7" r="8.7"/>
<circle cx="1140.3" cy="427.7" r="8.7"/>
<circle cx="1073.6" cy="431.4" r="8.7"/>
<circle cx="1146.6" cy="376.2" r="8.7"/>
<circle cx="1122.6" cy="422.8" r="8.7"/>
<circle cx="1043.5" cy="403.3" r="8.7"/>
<circle cx="1016.6" cy="342.2" r="8.7"/>
<circle cx="1154.3" cy="426.4" r="8.7"/>
<circle cx="1111.8" cy="399.6" r="8.7"/>
<circle cx="902.7" cy="444.3" r="8.7"/>
<circle cx="1127.0" cy="401.6" r="8.7"/>
<circle cx="1132.3" cy="367.7" r="8.7"/>
<circle cx="1167.9" cy="423.6" r="8.7"/>
<circle cx="1192.3" cy="407.8" r="8.7"/>
<circle cx="1240.4" cy="270.8" r="8.7"/>
<circle cx="1049.4" cy="439.6" r="8.7"/>
<circle cx="1026.0" cy="365.0" r="8.7"/>
<circle cx="870.9" cy="379.3" r="8.7"/>
<circle cx="1278.9" cy="284.6" r="8.7"/>
<circle cx="1152.7" cy="393.3" r="8.7"/>
<circle cx="1214.3" cy="345.4" r="8.7"/>
<circle cx="1265.4" cy="346.3" r="8.7"/>
<circle cx="1259.6" cy="353.0" r="8.7"/>
<circle cx="1018.6" cy="417.2" r="8.7"/>
<circle cx="1261.1" cy="238.6" r="8.7"/>
<circle cx="1067.6" cy="456.1" r="8.7"/>
<circle cx="1278.1" cy="198.9" r="8.7"/>
<circle cx="1005.5" cy="446.3" r="8.7"/>
<circle cx="923.2" cy="401.4" r="8.7"/>
<circle cx="1272.8" cy="272.1" r="8.7"/>
<circle cx="1212.6" cy="440.9" r="8.7"/>
<circle cx="1116.8" cy="423.8" r="8.7"/>
<circle cx="1230.3" cy="347.1" r="8.7"/>
<circle cx="1072.9" cy="425.1" r="8.7"/>
<circle cx="1255.6" cy="231.8" r="8.7"/>
<circle cx="1275.6" cy="177.9" r="8.7"/>
<circle cx="1224.6" cy="354.5" r="8.7"/>
<circle cx="1199.0" cy="432.6" r="8.7"/>
<circle cx="1260.3" cy="308.6" r="8.7"/>
<circle cx="831.5" cy="462.8" r="8.7"/>
<circle cx="1273.8" cy="200.5" r="8.7"/>
<circle cx="1250.4" cy="298.1" r="8.7"/>
<circle cx="1270.5" cy="232.2" r="8.7"/>
<circle cx="1198.0" cy="433.7" r="8.7"/>
<circle cx="1261.3" cy="215.7" r="8.7"/>
<circle cx="1164.5" cy="336.8" r="8.7"/>
<circle cx="1190.3" cy="349.7" r="8.7"/>
<circle cx="1179.5" cy="372.1" r="8.7"/>
<circle cx="1181.8" cy="357.1" r="8.7"/>
<circle cx="1244.7" cy="269.0" r="8.7"/>
<circle cx="946.8" cy="413.5" r="8.7"/>
<circle cx="1188.0" cy="366.2" r="8.7"/>
<circle cx="1270.2" cy="380.4" r="8.7"/>
<circle cx="1239.7" cy="389.1" r="8.7"/>
<circle cx="1213.0" cy="398.6" r="8.7"/>
<circle cx="1172.3" cy="353.2" r="8.7"/>
<circle cx="876.8" cy="453.9" r="8.7"/>
<circle cx="1240.0" cy="317.6" r="8.7"/>
<circle cx="969.1" cy="442.8" r="8.7"/>
<circle cx="793.0" cy="457.7" r="8.7"/>
<circle cx="1199.9" cy="310.8" r="8.7"/>
<circle cx="1224.8" cy="400.6" r="8.7"/>
<circle cx="1214.0" cy="429.0" r="8.7"/>
<circle cx="975.1" cy="458.4" r="8.7"/>
<circle cx="813.9" cy="375.5" r="8.7"/>
<circle cx="1201.7" cy="355.8" r="8.7"/>
<circle cx="1162.9" cy="435.6" r="8.7"/>
<circle cx="1038.2" cy="443.3" r="8.7"/>
<circle cx="907.9" cy="412.9" r="8.7"/>
<circle cx="855.4" cy="455.5" r="8.7"/>
<circle cx="1044.2" cy="432.5" r="8.7"/>
<circle cx="1069.6" cy="422.9" r="8.7"/>
<circle cx="1259.1" cy="363.9" r="8.7"/>
<circle cx="959.6" cy="440.9" r="8.7"/>
<circle cx="1272.5" cy="371.2" r="8.7"/>
<circle cx="1032.7" cy="422.8" r="8.7"/>
<circle cx="1207.1" cy="443.9" r="8.7"/>
<circle cx="1265.0" cy="300.7" r="8.7"/>
<circle cx="1051.0" cy="459.1" r="8.7"/>
<circle cx="1278.6" cy="336.4" r="8.7"/>
<circle cx="1140.1" cy="378.0" r="8.7"/>
<circle cx="1246.6" cy="368.8" r="8.7"/>
<circle cx="1266.9" cy="257.4" r="8.7"/>
<circle cx="1278.6" cy="170.7" r="8.7"/>
<circle cx="882.1" cy="368.3" r="8.7"/>
<circle cx="1259.0" cy="316.4" r="8.7"/>
<circle cx="1017.0" cy="451.9" r="8.7"/>
<circle cx="887.0" cy="445.1" r="8.7"/>
<circle cx="994.8" cy="451.1" r="8.7"/>
<circle cx="1117.3" cy="421.0" r="8.7"/>
<circle cx="1244.7" cy="278.5" r="8.7"/>
<circle cx="905.6" cy="365.0" r="8.7"/>
<circle cx="1278.1" cy="334.7" r="8.7"/>
<circle cx="1227.6" cy="321.0" r="8.7"/>
<circle cx="866.7" cy="458.4" r="8.7"/>
<circle cx="1190.4" cy="448.3" r="8.7"/>
<circle cx="1057.7" cy="453.7" r="8.7"/>
<circle cx="1245.0" cy="350.9" r="8.7"/>
<circle cx="1261.2" cy="326.0" r="8.7"/>
<circle cx="1186.4" cy="333.7" r="8.7"/>
<circle cx="1134.1" cy="354.0" r="8.7"/>
<circle cx="829.8" cy="461.6" r="8.7"/>
<circle cx="1071.3" cy="454.4" r="8.7"/>
<circle cx="907.8" cy="453.6" r="8.7"/>
<circle cx="1026.8" cy="377.2" r="8.7"/>
<circle cx="1241.1" cy="418.2" r="8.7"/>
<circle cx="1212.8" cy="324.5" r="8.7"/>
<circle cx="1271.6" cy="271.2" r="8.7"/>
<circle cx="981.3" cy="377.0" r="8.7"/>
<circle cx="1052.2" cy="439.5" r="8.7"/>
<circle cx="1144.9" cy="398.3" r="8.7"/>
<circle cx="1063.0" cy="422.6" r="8.7"/>
<circle cx="1217.6" cy="263.2" r="8.7"/>
<circle cx="1057.9" cy="431.6" r="8.7"/>
<circle cx="970.2" cy="452.1" r="8.7"/>
<circle cx="1199.2" cy="407.8" r="8.7"/>
<circle cx="1082.7" cy="427.7" r="8.7"/>
<circle cx="1257.0" cy="293.5" r="8.7"/>
<circle cx="896.5" cy="446.7" r="8.7"/>
<circle cx="1259.0" cy="260.4" r="8.7"/>
<circle cx="1273.1" cy="369.0" r="8.7"/>
<circle cx="1277.3" cy="306.7" r="8.7"/>
<circle cx="1274.6" cy="191.2" r="8.7"/>
<circle cx="1249.6" cy="328.4" r="8.7"/>
<circle cx="1129.9" cy="392.2" r="8.7"/>
<circle cx="1067.9" cy="417.7" r="8.7"/>
<circle cx="1178.5" cy="454.5" r="8.7"/>
<circle cx="1261.1" cy="299.2" r="8.7"/>
<circle cx="1180.1" cy="356.6" r="8.7"/>
<circle cx="1133.2" cy="382.9" r="8.7"/>
<circle cx="1176.1" cy="396.0" r="8.7"/>
<circle cx="1239.9" cy="379.9" r="8.7"/>
<circle cx="1126.8" cy="459.1" r="8.7"/>
<circle cx="1244.5" cy="401.2" r="8.7"/>
<circle cx="926.2" cy="405.9" r="8.7"/>
<circle cx="812.2" cy="426.2" r="8.7"/>
<circle cx="1095.8" cy="441.8" r="8.7"/>
<circle cx="1217.3" cy="299.2" r="8.7"/>
<circle cx="1079.4" cy="421.8" r="8.7"/>
<circle cx="1077.8" cy="446.8" r="8.7"/>
<circle cx="1007.7" cy="420.1" r="8.7"/>
<circle cx="1277.9" cy="279.8" r="8.7"/>
<circle cx="1154.0" cy="426.2" r="8.7"/>
<circle cx="894.0" cy="440.2" r="8.7"/>
<circle cx="1204.8" cy="320.6" r="8.7"/>
<circle cx="876.5" cy="458.7" r="8.7"/>
<circle cx="1036.6" cy="461.2" r="8.7"/>
<circle cx="1072.6" cy="441.1" r="8.7"/>
<circle cx="1206.4" cy="336.1" r="8.7"/>
<circle cx="849.2" cy="450.2" r="8.7"/>
<circle cx="1197.0" cy="336.2" r="8.7"/>
<circle cx="1278.0" cy="294.8" r="8.7"/>
<circle cx="1275.5" cy="254.2" r="8.7"/>
<circle cx="1143.9" cy="416.1" r="8.7"/>
<circle cx="1140.3" cy="430.8" r="8.7"/>
<circle cx="1021.7" cy="426.7" r="8.7"/>
<circle cx="901.3" cy="440.4" r="8.7"/>
<circle cx="1266.8" cy="174.6" r="8.7"/>
<circle cx="875.4" cy="461.8" r="8.7"/>
<circle cx="1228.6" cy="275.0" r="8.7"/>
<circle cx="1220.1" cy="251.1" r="8.7"/>
<circle cx="1173.3" cy="454.8" r="8.7"/>
<circle cx="1120.6" cy="406.6" r="8.7"/>
<circle cx="1049.5" cy="414.9" r="8.7"/>
<circle cx="1156.1" cy="419.5" r="8.7"/>
<circle cx="965.4" cy="455.9" r="8.7"/>
<circle cx="910.1" cy="461.2" r="8.7"/>
<circle cx="1174.4" cy="435.9" r="8.7"/>
<circle cx="1017.7" cy="407.8" r="8.7"/>
<circle cx="1179.8" cy="425.2" r="8.7"/>
<circle cx="1088.7" cy="450.5" r="8.7"/>
<circle cx="1194.2" cy="310.6" r="8.7"/>
<circle cx="1243.9" cy="387.5" r="8.7"/>
<circle cx="985.7" cy="444.6" r="8.7"/>
<circle cx="796.7" cy="408.9" r="8.7"/>
<circle cx="1182.8" cy="335.3" r="8.7"/>
<circle cx="1237.8" cy="264.9" r="8.7"/>
<circle cx="1113.7" cy="426.3" r="8.7"/>
<circle cx="1250.8" cy="389.2" r="8.7"/>
<circle cx="1278.9" cy="223.7" r="8.7"/>
<circle cx="1223.4" cy="307.2" r="8.7"/>
<circle cx="1216.7" cy="425.0" r="8.7"/>
<circle cx="1143.3" cy="370.7" r="8.7"/>
<circle cx="1269.6" cy="172.4" r="8.7"/>
<circle cx="1255.5" cy="419.9" r="8.7"/>
<circle cx="1258.3" cy="229.0" r="8.7"/>
<circle cx="1206.6" cy="408.1" r="8.7"/>
<circle cx="1214.4" cy="427.1" r="8.7"/>
<circle cx="1246.7" cy="344.3" r="8.7"/>
<circle cx="1237.4" cy="334.4" r="8.7"/>
<circle cx="1126.2" cy="339.3" r="8.7"/>
<circle cx="1067.5" cy="405.1" r="8.7"/>
<circle cx="1240.7" cy="265.0" r="8.7"/>
<circle cx="1153.0" cy="455.2" r="8.7"/>
<circle cx="961.8" cy="380.4" r="8.7"/>
<circle cx="1242.1" cy="399.8" r="8.7"/>
<circle cx="1146.6" cy="377.3" r="8.7"/>
<circle cx="1255.9" cy="361.9" r="8.7"/>
<circle cx="999.9" cy="438.9" r="8.7"/>
<circle cx="1266.2" cy="360.8" r="8.7"/>
<circle cx="989.1" cy="452.1" r="8.7"/>
<circle cx="1057.6" cy="429.3" r="8.7"/>
<circle cx="1092.4" cy="412.5" r="8.7"/>
<circle cx="1257.4" cy="408.2" r="8.7"/>
<circle cx="923.9" cy="440.3" r="8.7"/>
<circle cx="971.5" cy="439.4" r="8.7"/>
<circle cx="968.5" cy="369.3" r="8.7"/>
<circle cx="1112.1" cy="454.7" r="8.7"/>
<circle cx="1056.3" cy="457.8" r="8.7"/>
<circle cx="1040.1" cy="430.3" r="8.7"/>
<circle cx="1087.0" cy="356.4" r="8.7"/>
<circle cx="1250.4" cy="414.6" r="8.7"/>
<circle cx="1159.3" cy="374.8" r="8.7"/>
<circle cx="930.9" cy="463.4" r="8.7"/>
<circle cx="1054.4" cy="418.1" r="8.7"/>
<circle cx="1223.8" cy="282.8" r="8.7"/>
<circle cx="1194.3" cy="401.4" r="8.7"/>
<circle cx="1114.0" cy="384.8" r="8.7"/>
<circle cx="1130.1" cy="393.9" r="8.7"/>
<circle cx="860.8" cy="453.9" r="8.7"/>
<circle cx="1166.6" cy="436.4" r="8.7"/>
<circle cx="1254.4" cy="416.5" r="8.7"/>
<circle cx="975.6" cy="453.0" r="8.7"/>
<circle cx="1096.8" cy="430.2" r="8.7"/>
<circle cx="1278.9" cy="222.0" r="8.7"/>
<circle cx="1127.0" cy="414.9" r="8.7"/>
<circle cx="1101.1" cy="399.2" r="8.7"/>
<circle cx="917.3" cy="443.7" r="8.7"/>
<circle cx="1253.0" cy="399.6" r="8.7"/>
<circle cx="874.4" cy="462.8" r="8.7"/>
<circle cx="940.5" cy="452.7" r="8.7"/>
<circle cx="1208.5" cy="323.6" r="8.7"/>
<circle cx="1225.2" cy="443.4" r="8.7"/>
<circle cx="1203.9" cy="411.2" r="8.7"/>
<circle cx="1268.6" cy="237.0" r="8.7"/>
<circle cx="1240.6" cy="347.9" r="8.7"/>
<circle cx="1278.1" cy="363.1" r="8.7"/>
<circle cx="1210.7" cy="448.9" r="8.7"/>
<circle cx="1231.5" cy="354.0" r="8.7"/>
<circle cx="934.4" cy="450.9" r="8.7"/>
<circle cx="1235.8" cy="272.3" r="8.7"/>
<circle cx="1194.6" cy="404.4" r="8.7"/>
<circle cx="1273.6" cy="288.5" r="8.7"/>
<circle cx="1237.5" cy="426.0" r="8.7"/>
<circle cx="1024.5" cy="416.2" r="8.7"/>
<circle cx="1013.3" cy="441.5" r="8.7"/>
<circle cx="1250.1" cy="265.3" r="8.7"/>
<circle cx="1240.6" cy="287.2" r="8.7"/>
<circle cx="925.9" cy="461.8" r="8.7"/>
<circle cx="1161.2" cy="421.5" r="8.7"/>
<circle cx="1228.8" cy="440.3" r="8.7"/>
<circle cx="964.1" cy="387.9" r="8.7"/>
<circle cx="933.2" cy="462.3" r="8.7"/>
<circle cx="1278.5" cy="256.6" r="8.7"/>
<circle cx="1200.0" cy="263.1" r="8.7"/>
<circle cx="1137.9" cy="400.3" r="8.7"/>
<circle cx="1273.3" cy="214.7" r="8.7"/>
<circle cx="1225.3" cy="272.3" r="8.7"/>
<circle cx="1055.1" cy="441.5" r="8.7"/>
<circle cx="1150.0" cy="457.8" r="8.7"/>
<circle cx="1148.2" cy="395.1" r="8.7"/>
<circle cx="1250.6" cy="234.3" r="8.7"/>
<circle cx="1167.0" cy="363.1" r="8.7"/>
<circle cx="1239.9" cy="318.5" r="8.7"/>
<circle cx="1261.6" cy="399.0" r="8.7"/>
<circle cx="1211.6" cy="299.8" r="8.7"/>
<circle cx="1214.6" cy="430.1" r="8.7"/>
<circle cx="1222.2" cy="322.7" r="8.7"/>
<circle cx="969.6" cy="412.2" r="8.7"/>
<circle cx="1015.1" cy="451.0" r="8.7"/>
<circle cx="1189.2" cy="323.8" r="8.7"/>
<circle cx="1109.8" cy="450.6" r="8.7"/>
<circle cx="1264.1" cy="229.8" r="8.7"/>
<circle cx="1258.4" cy="403.7" r="8.7"/>
<circle cx="988.0" cy="432.0" r="8.7"/>
<circle cx="1178.4" cy="304.2" r="8.7"/>
<circle cx="1222.6" cy="344.5" r="8.7"/>
<circle cx="1189.0" cy="376.6" r="8.7"/>
<circle cx="1278.3" cy="291.8" r="8.7"/>
<circle cx="1261.9" cy="279.6" r="8.7"/>
<circle cx="1274.6" cy="274.7" r="8.7"/>
<circle cx="1257.5" cy="205.8" r="8.7"/>
<circle cx="1223.8" cy="378.9" r="8.7"/>
<circle cx="1151.3" cy="436.0" r="8.7"/>
<circle cx="884.7" cy="385.7" r="8.7"/>
<circle cx="1224.4" cy="435.3" r="8.7"/>
<circle cx="1103.9" cy="370.4" r="8.7"/>
<circle cx="1072.6" cy="403.8" r="8.7"/>
<circle cx="1177.5" cy="409.4" r="8.7"/>
<circle cx="1134.7" cy="400.8" r="8.7"/>
<circle cx="971.0" cy="440.9" r="8.7"/>
<circle cx="1206.1" cy="389.2" r="8.7"/>
<circle cx="1207.8" cy="375.8" r="8.7"/>
<circle cx="837.2" cy="430.7" r="8.7"/>
<circle cx="1086.0" cy="451.7" r="8.7"/>
<circle cx="1221.8" cy="419.2" r="8.7"/>
<circle cx="1009.0" cy="461.8" r="8.7"/>
<circle cx="1258.2" cy="302.2" r="8.7"/>
<circle cx="1245.5" cy="294.1" r="8.7"/>
<circle cx="970.8" cy="436.8" r="8.7"/>
<circle cx="1006.0" cy="442.1" r="8.7"/>
<circle cx="1202.6" cy="293.2" r="8.7"/>
<circle cx="1273.3" cy="300.5" r="8.7"/>
<circle cx="1278.1" cy="205.9" r="8.7"/>
<circle cx="1006.6" cy="433.6" r="8.7"/>
<circle cx="1196.5" cy="299.6" r="8.7"/>
<circle cx="1271.1" cy="348.2" r="8.7"/>
<circle cx="1062.5" cy="428.2" r="8.7"/>
<circle cx="1006.3" cy="439.8" r="8.7"/>
<circle cx="1074.1" cy="421.8" r="8.7"/>
<circle cx="1225.4" cy="412.5" r="8.7"/>
<circle cx="1015.8" cy="437.4" r="8.7"/>
<circle cx="915.3" cy="374.9" r="8.7"/>
<circle cx="1191.6" cy="445.2" r="8.7"/>
<circle cx="866.9" cy="382.7" r="8.7"/>
<circle cx="848.8" cy="458.0" r="8.7"/>
<circle cx="1202.6" cy="358.6" r="8.7"/>
<circle cx="1216.4" cy="370.2" r="8.7"/>
<circle cx="1216.7" cy="281.3" r="8.7"/>
<circle cx="1129.7" cy="338.6" r="8.7"/>
<circle cx="1193.7" cy="371.7" r="8.7"/>
<circle cx="921.2" cy="399.2" r="8.7"/>
<circle cx="1167.4" cy="332.4" r="8.7"/>
<circle cx="1179.8" cy="455.6" r="8.7"/>
<circle cx="1236.3" cy="336.7" r="8.7"/>
<circle cx="1213.4" cy="370.0" r="8.7"/>
<circle cx="1060.8" cy="431.2" r="8.7"/>
<circle cx="1150.5" cy="408.5" r="8.7"/>
<circle cx="1024.1" cy="433.4" r="8.7"/>
<circle cx="1255.5" cy="236.0" r="8.7"/>
<circle cx="1187.6" cy="401.6" r="8.7"/>
<circle cx="1236.2" cy="419.3" r="8.7"/>
<circle cx="1120.4" cy="414.6" r="8.7"/>
<circle cx="1188.7" cy="328.5" r="8.7"/>
<circle cx="1149.5" cy="371.4" r="8.7"/>
<circle cx="1203.8" cy="422.0" r="8.7"/>
<circle cx="1154.2" cy="326.9" r="8.7"/>
<circle cx="1044.3" cy="383.0" r="8.7"/>
<circle cx="1187.8" cy="412.4" r="8.7"/>
<circle cx="943.5" cy="375.8" r="8.7"/>
<circle cx="984.6" cy="446.6" r="8.7"/>
<circle cx="1207.7" cy="308.3" r="8.7"/>
<circle cx="1232.2" cy="304.7" r="8.7"/>
<circle cx="901.0" cy="434.0" r="8.7"/>
<circle cx="1275.6" cy="319.1" r="8.7"/>
<circle cx="920.3" cy="449.0" r="8.7"/>
<circle cx="1227.2" cy="329.0" r="8.7"/>
<circle cx="1160.1" cy="426.9" r="8.7"/>
<circle cx="1243.4" cy="347.0" r="8.7"/>
<circle cx="1155.9" cy="452.0" r="8.7"/>
<circle cx="1236.6" cy="286.9" r="8.7"/>
<circle cx="1272.1" cy="382.0" r="8.7"/>
<circle cx="909.0" cy="446.0" r="8.7"/>
<circle cx="1231.9" cy="288.5" r="8.7"/>
<circle cx="1190.0" cy="352.6" r="8.7"/>
<circle cx="1149.1" cy="387.6" r="8.7"/>
<circle cx="1209.5" cy="394.8" r="8.7"/>
<circle cx="1259.6" cy="400.6" r="8.7"/>
<circle cx="888.4" cy="460.7" r="8.7"/>
<circle cx="1271.1" cy="239.5" r="8.7"/>
<circle cx="1058.6" cy="428.5" r="8.7"/>
<circle cx="1055.1" cy="385.5" r="8.7"/>
<circle cx="1221.5" cy="418.8" r="8.7"/>
<circle cx="1251.1" cy="321.6" r="8.7"/>
<circle cx="1244.0" cy="265.8" r="8.7"/>
<circle cx="1098.7" cy="420.2" r="8.7"/>
<circle cx="904.1" cy="457.5" r="8.7"/>
<circle cx="1210.8" cy="320.4" r="8.7"/>
<circle cx="1216.3" cy="383.1" r="8.7"/>
<circle cx="1243.3" cy="369.5" r="8.7"/>
<circle cx="1086.8" cy="380.6" r="8.7"/>
<circle cx="1196.1" cy="361.1" r="8.7"/>
<circle cx="1142.8" cy="436.9" r="8.7"/>
<circle cx="1278.1" cy="286.9" r="8.7"/>
<circle cx="1272.9" cy="171.4" r="8.7"/>
<circle cx="997.2" cy="424.5" r="8.7"/>
<circle cx="1230.4" cy="277.5" r="8.7"/>
<circle cx="1247.9" cy="330.6" r="8.7"/>
<circle cx="1263.1" cy="299.7" r="8.7"/>
<circle cx="1059.4" cy="454.0" r="8.7"/>
<circle cx="1040.2" cy="462.7" r="8.7"/>
<circle cx="906.2" cy="360.0" r="8.7"/>
<circle cx="1116.8" cy="429.6" r="8.7"/>
<circle cx="1243.2" cy="355.0" r="8.7"/>
<circle cx="1274.0" cy="355.9" r="8.7"/>
<circle cx="1085.6" cy="459.2" r="8.7"/>
<circle cx="1188.4" cy="339.4" r="8.7"/>
<circle cx="1000.5" cy="429.6" r="8.7"/>
<circle cx="1158.9" cy="386.6" r="8.7"/>
<circle cx="1168.0" cy="455.4" r="8.7"/>
<circle cx="873.4" cy="412.3" r="8.7"/>
<circle cx="1258.1" cy="241.5" r="8.7"/>
<circle cx="1203.7" cy="334.6" r="8.7"/>
<circle cx="1106.2" cy="432.2" r="8.7"/>
<circle cx="1155.4" cy="318.1" r="8.7"/>
<circle cx="1131.0" cy="358.4" r="8.7"/>
<circle cx="863.7" cy="447.1" r="8.7"/>
<circle cx="1120.3" cy="411.5" r="8.7"/>
<circle cx="1256.2" cy="292.2" r="8.7"/>
<circle cx="1259.7" cy="353.2" r="8.7"/>
<circle cx="1271.7" cy="289.4" r="8.7"/>
<circle cx="1166.2" cy="355.9" r="8.7"/>
<circle cx="1136.1" cy="412.1" r="8.7"/>
<circle cx="1171.3" cy="334.3" r="8.7"/>
<circle cx="1266.5" cy="333.1" r="8.7"/>
<circle cx="1239.5" cy="393.8" r="8.7"/>
<circle cx="1199.1" cy="297.6" r="8.7"/>
<circle cx="1220.2" cy="282.4" r="8.7"/>
<circle cx="1237.3" cy="412.9" r="8.7"/>
<circle cx="1230.4" cy="389.1" r="8.7"/>
<circle cx="1046.9" cy="419.1" r="8.7"/>
<circle cx="1183.3" cy="433.1" r="8.7"/>
<circle cx="1186.3" cy="380.4" r="8.7"/>
<circle cx="1216.8" cy="370.8" r="8.7"/>
<circle cx="1068.6" cy="447.2" r="8.7"/>
<circle cx="1247.6" cy="269.6" r="8.7"/>
<circle cx="1265.6" cy="302.4" r="8.7"/>
<circle cx="1265.5" cy="248.7" r="8.7"/>
<circle cx="1097.4" cy="463.1" r="8.7"/>
<circle cx="1242.8" cy="344.6" r="8.7"/>
<circle cx="964.8" cy="373.7" r="8.7"/>
<circle cx="1142.0" cy="390.6" r="8.7"/>
<circle cx="950.7" cy="447.5" r="8.7"/>
<circle cx="1151.3" cy="433.4" r="8.7"/>
<circle cx="1237.6" cy="428.7" r="8.7"/>
<circle cx="1174.1" cy="386.8" r="8.7"/>
<circle cx="795.1" cy="433.0" r="8.7"/>
<circle cx="1054.5" cy="429.9" r="8.7"/>
<circle cx="1243.8" cy="315.5" r="8.7"/>
<circle cx="1272.1" cy="392.6" r="8.7"/>
<circle cx="1151.4" cy="449.6" r="8.7"/>
<circle cx="1191.1" cy="295.5" r="8.7"/>
<circle cx="911.8" cy="436.6" r="8.7"/>
<circle cx="1155.1" cy="451.6" r="8.7"/>
<circle cx="1278.1" cy="297.7" r="8.7"/>
<circle cx="1249.8" cy="305.8" r="8.7"/>
<circle cx="1008.4" cy="436.3" r="8.7"/>
<circle cx="963.1" cy="452.3" r="8.7"/>
<circle cx="1215.4" cy="338.0" r="8.7"/>
<circle cx="1026.0" cy="441.7" r="8.7"/>
<circle cx="909.8" cy="360.5" r="8.7"/>
<circle cx="944.9" cy="452.4" r="8.7"/>
<circle cx="1224.9" cy="391.9" r="8.7"/>
<circle cx="1106.9" cy="424.9" r="8.7"/>
<circle cx="895.0" cy="461.9" r="8.7"/>
<circle cx="1244.7" cy="373.6" r="8.7"/>
<circle cx="924.9" cy="462.5" r="8.7"/>
<circle cx="1078.7" cy="447.8" r="8.7"/>
<circle cx="1144.0" cy="385.3" r="8.7"/>
<circle cx="1113.2" cy="420.3" r="8.7"/>
<circle cx="990.0" cy="375.4" r="8.7"/>
<circle cx="1126.0" cy="433.9" r="8.7"/>
<circle cx="1040.4" cy="378.0" r="8.7"/>
<circle cx="1061.9" cy="395.0" r="8.7"/>
<circle cx="907.7" cy="456.8" r="8.7"/>
<circle cx="1019.9" cy="453.4" r="8.7"/>
<circle cx="1192.7" cy="398.4" r="8.7"/>
<circle cx="1126.6" cy="334.2" r="8.7"/>
<circle cx="869.8" cy="462.3" r="8.7"/>
<circle cx="1237.2" cy="324.4" r="8.7"/>
<circle cx="1277.8" cy="346.2" r="8.7"/>
<circle cx="1262.0" cy="283.1" r="8.7"/>
<circle cx="1164.4" cy="376.1" r="8.7"/>
<circle cx="1059.0" cy="425.8" r="8.7"/>
<circle cx="1160.0" cy="403.8" r="8.7"/>
<circle cx="1023.7" cy="441.4" r="8.7"/>
<circle cx="1272.1" cy="237.1" r="8.7"/>
<circle cx="1007.4" cy="438.4" r="8.7"/>
<circle cx="1168.1" cy="395.1" r="8.7"/>
<circle cx="1220.0" cy="363.9" r="8.7"/>
<circle cx="1098.4" cy="407.3" r="8.7"/>
<circle cx="1216.9" cy="289.6" r="8.7"/>
<circle cx="1278.5" cy="213.6" r="8.7"/>
<circle cx="1019.5" cy="403.4" r="8.7"/>
<circle cx="1228.4" cy="300.5" r="8.7"/>
<circle cx="1128.3" cy="396.4" r="8.7"/>
<circle cx="829.9" cy="454.6" r="8.7"/>
<circle cx="1096.3" cy="441.0" r="8.7"/>
<circle cx="1024.8" cy="421.1" r="8.7"/>
<circle cx="1011.8" cy="461.8" r="8.7"/>
<circle cx="909.3" cy="456.7" r="8.7"/>
<circle cx="945.6" cy="341.0" r="8.7"/>
<circle cx="1094.7" cy="357.6" r="8.7"/>
<circle cx="1237.9" cy="362.3" r="8.7"/>
<circle cx="938.6" cy="431.1" r="8.7"/>
<circle cx="1269.4" cy="219.4" r="8.7"/>
<circle cx="1164.5" cy="303.9" r="8.7"/>
<circle cx="1248.1" cy="294.8" r="8.7"/>
<circle cx="1204.1" cy="442.6" r="8.7"/>
<circle cx="1256.7" cy="216.8" r="8.7"/>
<circle cx="1183.0" cy="391.7" r="8.7"/>
<circle cx="1250.1" cy="358.9" r="8.7"/>
<circle cx="1183.5" cy="354.8" r="8.7"/>
<circle cx="1193.9" cy="316.3" r="8.7"/>
<circle cx="1204.7" cy="347.3" r="8.7"/>
<circle cx="1046.9" cy="435.8" r="8.7"/>
<circle cx="1277.0" cy="250.8" r="8.7"/>
<circle cx="1036.4" cy="453.0" r="8.7"/>
<circle cx="1028.9" cy="433.8" r="8.7"/>
<circle cx="1150.2" cy="458.0" r="8.7"/>
<circle cx="1226.7" cy="268.5" r="8.7"/>
<circle cx="1207.3" cy="321.9" r="8.7"/>
<circle cx="1233.2" cy="421.3" r="8.7"/>
<circle cx="1270.9" cy="214.5" r="8.7"/>
<circle cx="1140.2" cy="433.9" r="8.7"/>
<circle cx="1231.5" cy="386.9" r="8.7"/>
<circle cx="1170.2" cy="397.4" r="8.7"/>
<circle cx="1040.5" cy="442.2" r="8.7"/>
<circle cx="1054.6" cy="420.5" r="8.7"/>
<circle cx="1248.3" cy="289.7" r="8.7"/>
<circle cx="1214.3" cy="442.8" r="8.7"/>
<circle cx="1192.5" cy="412.2" r="8.7"/>
<circle cx="1213.8" cy="365.3" r="8.7"/>
<circle cx="1097.5" cy="418.1" r="8.7"/>
<circle cx="798.7" cy="376.1" r="8.7"/>
<circle cx="1246.5" cy="397.3" r="8.7"/>
<circle cx="1131.2" cy="443.3" r="8.7"/>
<circle cx="1135.7" cy="399.4" r="8.7"/>
<circle cx="1047.5" cy="414.3" r="8.7"/>
<circle cx="1034.3" cy="440.1" r="8.7"/>
<circle cx="1171.2" cy="412.6" r="8.7"/>
<circle cx="950.2" cy="454.8" r="8.7"/>
<circle cx="996.5" cy="439.1" r="8.7"/>
<circle cx="1112.5" cy="425.3" r="8.7"/>
<circle cx="1152.0" cy="404.6" r="8.7"/>
<circle cx="1102.2" cy="352.1" r="8.7"/>
<circle cx="1256.1" cy="304.4" r="8.7"/>
<circle cx="855.9" cy="454.0" r="8.7"/>
<circle cx="794.0" cy="412.6" r="8.7"/>
<circle cx="1236.4" cy="330.5" r="8.7"/>
<circle cx="1213.3" cy="265.3" r="8.7"/>
<circle cx="1196.8" cy="409.7" r="8.7"/>
<circle cx="1278.8" cy="331.0" r="8.7"/>
<circle cx="1193.2" cy="383.1" r="8.7"/>
<circle cx="1276.4" cy="246.5" r="8.7"/>
<circle cx="1269.7" cy="273.2" r="8.7"/>
<circle cx="1194.4" cy="299.0" r="8.7"/>
<circle cx="851.3" cy="362.5" r="8.7"/>
<circle cx="1244.5" cy="414.8" r="8.7"/>
<circle cx="992.8" cy="438.4" r="8.7"/>
<circle cx="1278.1" cy="338.7" r="8.7"/>
<circle cx="1239.5" cy="335.2" r="8.7"/>
<circle cx="1087.6" cy="413.1" r="8.7"/>
<circle cx="1166.7" cy="373.9" r="8.7"/>
<circle cx="957.4" cy="417.1" r="8.7"/>
<circle cx="1045.8" cy="461.1" r="8.7"/>
<circle cx="957.6" cy="445.2" r="8.7"/>
<circle cx="1172.9" cy="455.3" r="8.7"/>
<circle cx="1215.7" cy="343.6" r="8.7"/>
<circle cx="1275.3" cy="297.7" r="8.7"/>
<circle cx="1257.8" cy="220.5" r="8.7"/>
<circle cx="1266.8" cy="262.5" r="8.7"/>
<circle cx="1024.7" cy="437.3" r="8.7"/>
<circle cx="1097.1" cy="399.0" r="8.7"/>
<circle cx="1256.7" cy="267.6" r="8.7"/>
<circle cx="1197.3" cy="369.5" r="8.7"/>
<circle cx="1196.5" cy="451.7" r="8.7"/>
<circle cx="1129.9" cy="432.3" r="8.7"/>
<circle cx="1164.8" cy="342.8" r="8.7"/>
<circle cx="1080.2" cy="460.3" r="8.7"/>
<circle cx="1265.4" cy="288.2" r="8.7"/>
<circle cx="1216.7" cy="338.6" r="8.7"/>
<circle cx="998.4" cy="434.3" r="8.7"/>
<circle cx="973.9" cy="426.2" r="8.7"/>
<circle cx="1253.0" cy="275.0" r="8.7"/>
<circle cx="1258.2" cy="252.1" r="8.7"/>
<circle cx="1178.1" cy="321.6" r="8.7"/>
<circle cx="988.1" cy="380.8" r="8.7"/>
<circle cx="1247.0" cy="290.5" r="8.7"/>
<circle cx="947.5" cy="461.6" r="8.7"/>
<circle cx="1217.9" cy="422.6" r="8.7"/>
<circle cx="1197.3" cy="352.4" r="8.7"/>
<circle cx="1028.4" cy="424.1" r="8.7"/>
<circle cx="1273.3" cy="344.3" r="8.7"/>
<circle cx="1049.0" cy="436.5" r="8.7"/>
<circle cx="1223.8" cy="393.1" r="8.7"/>
<circle cx="1081.9" cy="348.3" r="8.7"/>
<circle cx="1216.6" cy="425.0" r="8.7"/>
<circle cx="1268.7" cy="241.0" r="8.7"/>
<circle cx="1083.6" cy="439.1" r="8.7"/>
<circle cx="1247.7" cy="355.4" r="8.7"/>
<circle cx="1225.1" cy="255.6" r="8.7"/>
<circle cx="1022.8" cy="422.0" r="8.7"/>
<circle cx="1218.6" cy="364.7" r="8.7"/>
<circle cx="1236.0" cy="302.9" r="8.7"/>
<circle cx="1184.5" cy="380.3" r="8.7"/>
<circle cx="1211.6" cy="337.4" r="8.7"/>
<circle cx="1003.4" cy="435.8" r="8.7"/>
<circle cx="870.5" cy="462.0" r="8.7"/>
<circle cx="1254.7" cy="224.6" r="8.7"/>
<circle cx="819.5" cy="462.0" r="8.7"/>
<circle cx="1223.2" cy="305.3" r="8.7"/>
<circle cx="867.8" cy="461.8" r="8.7"/>
<circle cx="1180.7" cy="452.7" r="8.7"/>
<circle cx="1139.4" cy="392.8" r="8.7"/>
<circle cx="1157.9" cy="455.5" r="8.7"/>
<circle cx="1246.6" cy="417.7" r="8.7"/>
<circle cx="1246.2" cy="390.7" r="8.7"/>
<circle cx="1217.5" cy="310.7" r="8.7"/>
<circle cx="1235.8" cy="382.4" r="8.7"/>
<circle cx="1114.1" cy="454.1" r="8.7"/>
<circle cx="1208.4" cy="287.7" r="8.7"/>
<circle cx="994.4" cy="438.0" r="8.7"/>
<circle cx="1044.4" cy="397.7" r="8.7"/>
<circle cx="1267.0" cy="360.4" r="8.7"/>
<circle cx="852.6" cy="451.6" r="8.7"/>
<circle cx="1178.1" cy="316.2" r="8.7"/>
<circle cx="815.3" cy="391.4" r="8.7"/>
<circle cx="991.0" cy="458.2" r="8.7"/>
<circle cx="1065.0" cy="455.1" r="8.7"/>
<circle cx="1278.6" cy="328.2" r="8.7"/>
<circle cx="1253.3" cy="226.1" r="8.7"/>
<circle cx="1035.4" cy="408.8" r="8.7"/>
<circle cx="1234.3" cy="297.4" r="8.7"/>
<circle cx="1025.1" cy="418.4" r="8.7"/>
<circle cx="1256.6" cy="255.1" r="8.7"/>
<circle cx="1067.4" cy="379.5" r="8.7"/>
<circle cx="1186.3" cy="320.2" r="8.7"/>
<circle cx="1009.6" cy="448.0" r="8.7"/>
<circle cx="1236.1" cy="398.2" r="8.7"/>
<circle cx="1061.4" cy="402.8" r="8.7"/>
<circle cx="1078.8" cy="412.1" r="8.7"/>
<circle cx="989.3" cy="433.2" r="8.7"/>
<circle cx="1246.6" cy="245.8" r="8.7"/>
<circle cx="1253.4" cy="237.5" r="8.7"/>
<circle cx="1175.1" cy="340.0" r="8.7"/>
<circle cx="1136.6" cy="455.6" r="8.7"/>
<circle cx="1203.5" cy="303.5" r="8.7"/>
<circle cx="1125.6" cy="352.5" r="8.7"/>
<circle cx="1218.2" cy="279.0" r="8.7"/>
<circle cx="1204.9" cy="271.4" r="8.7"/>
<circle cx="1008.2" cy="461.6" r="8.7"/>
<circle cx="1069.9" cy="454.5" r="8.7"/>
<circle cx="1083.1" cy="461.5" r="8.7"/>
<circle cx="915.4" cy="461.5" r="8.7"/>
<circle cx="1275.4" cy="298.8" r="8.7"/>
<circle cx="1239.4" cy="285.6" r="8.7"/>
<circle cx="1251.5" cy="328.5" r="8.7"/>
<circle cx="1165.4" cy="455.8" r="8.7"/>
<circle cx="1221.4" cy="369.3" r="8.7"/>
<circle cx="996.8" cy="443.7" r="8.7"/>
<circle cx="1250.3" cy="257.3" r="8.7"/>
<circle cx="1230.1" cy="314.4" r="8.7"/>
<circle cx="1278.7" cy="242.0" r="8.7"/>
<circle cx="1062.9" cy="390.7" r="8.7"/>
<circle cx="1216.9" cy="446.6" r="8.7"/>
<circle cx="1227.0" cy="289.7" r="8.7"/>
<circle cx="1230.3" cy="415.1" r="8.7"/>
<circle cx="979.7" cy="451.8" r="8.7"/>
<circle cx="1278.5" cy="308.0" r="8.7"/>
<circle cx="1058.0" cy="443.1" r="8.7"/>
<circle cx="1201.6" cy="398.3" r="8.7"/>
<circle cx="1090.9" cy="457.6" r="8.7"/>
<circle cx="1209.7" cy="311.9" r="8.7"/>
<circle cx="976.5" cy="445.8" r="8.7"/>
<circle cx="1218.4" cy="252.5" r="8.7"/>
<circle cx="1031.7" cy="453.0" r="8.7"/>
<circle cx="1044.4" cy="456.1" r="8.7"/>
<circle cx="921.9" cy="448.4" r="8.7"/>
<circle cx="1272.1" cy="357.0" r="8.7"/>
<circle cx="1033.2" cy="420.4" r="8.7"/>
<circle cx="1076.2" cy="455.5" r="8.7"/>
<circle cx="1057.0" cy="459.9" r="8.7"/>
<circle cx="976.5" cy="433.5" r="8.7"/>
<circle cx="1067.8" cy="407.4" r="8.7"/>
<circle cx="1234.5" cy="323.8" r="8.7"/>
<circle cx="1092.9" cy="410.1" r="8.7"/>
<circle cx="881.1" cy="394.2" r="8.7"/>
<circle cx="1213.4" cy="384.3" r="8.7"/>
<circle cx="1073.9" cy="452.1" r="8.7"/>
<circle cx="1141.2" cy="367.9" r="8.7"/>
<circle cx="1194.8" cy="361.2" r="8.7"/>
<circle cx="1172.4" cy="379.7" r="8.7"/>
<circle cx="1121.5" cy="427.0" r="8.7"/>
<circle cx="1002.2" cy="461.2" r="8.7"/>
<circle cx="1230.6" cy="343.7" r="8.7"/>
<circle cx="976.2" cy="456.4" r="8.7"/>
<circle cx="1189.0" cy="449.9" r="8.7"/>
<circle cx="1278.0" cy="160.6" r="8.7"/>
<circle cx="1232.0" cy="319.2" r="8.7"/>
<circle cx="1051.4" cy="376.2" r="8.7"/>
<circle cx="913.7" cy="376.3" r="8.7"/>
<circle cx="1223.5" cy="365.6" r="8.7"/>
<circle cx="1139.8" cy="372.8" r="8.7"/>
<circle cx="1088.2" cy="459.5" r="8.7"/>
<circle cx="981.2" cy="459.0" r="8.7"/>
<circle cx="1000.0" cy="443.6" r="8.7"/>
<circle cx="968.7" cy="423.6" r="8.7"/>
<circle cx="1127.2" cy="460.3" r="8.7"/>
<circle cx="1009.3" cy="363.5" r="8.7"/>
<circle cx="803.5" cy="422.4" r="8.7"/>
<circle cx="1181.5" cy="369.9" r="8.7"/>
<circle cx="1173.0" cy="373.2" r="8.7"/>
<circle cx="1209.0" cy="279.7" r="8.7"/>
<circle cx="1061.0" cy="435.8" r="8.7"/>
<circle cx="1042.7" cy="461.3" r="8.7"/>
<circle cx="1230.4" cy="406.1" r="8.7"/>
<circle cx="896.9" cy="446.5" r="8.7"/>
<circle cx="865.1" cy="461.4" r="8.7"/>
<circle cx="1194.5" cy="318.4" r="8.7"/>
<circle cx="1179.2" cy="433.1" r="8.7"/>
<circle cx="1278.8" cy="297.7" r="8.7"/>
<circle cx="1163.0" cy="416.3" r="8.7"/>
<circle cx="1275.9" cy="287.5" r="8.7"/>
<circle cx="1132.4" cy="421.5" r="8.7"/>
<circle cx="1098.9" cy="386.0" r="8.7"/>
<circle cx="1002.4" cy="405.4" r="8.7"/>
<circle cx="1216.3" cy="318.1" r="8.7"/>
<circle cx="1014.7" cy="420.8" r="8.7"/>
<circle cx="1202.4" cy="345.9" r="8.7"/>
<circle cx="1087.0" cy="462.1" r="8.7"/>
<circle cx="1036.3" cy="424.5" r="8.7"/>
<circle cx="1162.7" cy="341.6" r="8.7"/>
<circle cx="1198.9" cy="436.2" r="8.7"/>
<circle cx="1259.7" cy="259.8" r="8.7"/>
<circle cx="983.5" cy="462.9" r="8.7"/>
<circle cx="1075.4" cy="415.3" r="8.7"/>
<circle cx="1143.6" cy="456.0" r="8.7"/>
<circle cx="974.8" cy="368.7" r="8.7"/>
<circle cx="1272.6" cy="151.0" r="8.7"/>
<circle cx="1180.8" cy="321.1" r="8.7"/>
<circle cx="1261.6" cy="355.3" r="8.7"/>
<circle cx="1195.0" cy="318.1" r="8.7"/>
<circle cx="1169.1" cy="352.0" r="8.7"/>
<circle cx="1250.6" cy="255.6" r="8.7"/>
<circle cx="849.9" cy="458.2" r="8.7"/>
<circle cx="1032.6" cy="462.3" r="8.7"/>
<circle cx="1255.9" cy="230.6" r="8.7"/>
<circle cx="1128.6" cy="403.5" r="8.7"/>
<circle cx="1010.0" cy="451.6" r="8.7"/>
<circle cx="1123.3" cy="400.2" r="8.7"/>
<circle cx="1263.2" cy="398.0" r="8.7"/>
<circle cx="1255.5" cy="397.7" r="8.7"/>
<circle cx="977.0" cy="370.8" r="8.7"/>
<circle cx="1020.1" cy="407.4" r="8.7"/>
<circle cx="1261.7" cy="407.5" r="8.7"/>
<circle cx="1204.7" cy="446.5" r="8.7"/>
<circle cx="1171.2" cy="416.9" r="8.7"/>
<circle cx="1265.9" cy="256.1" r="8.7"/>
<circle cx="1160.4" cy="382.0" r="8.7"/>
<circle cx="1224.8" cy="316.8" r="8.7"/>
<circle cx="1129.4" cy="423.1" r="8.7"/>
<circle cx="835.8" cy="372.0" r="8.7"/>
<circle cx="1240.0" cy="352.0" r="8.7"/>
<circle cx="961.3" cy="440.4" r="8.7"/>
<circle cx="842.9" cy="445.3" r="8.7"/>
<circle cx="1268.2" cy="398.8" r="8.7"/>
<circle cx="944.4" cy="461.4" r="8.7"/>
<circle cx="1058.0" cy="389.2" r="8.7"/>
<circle cx="803.1" cy="461.2" r="8.7"/>
<circle cx="828.2" cy="458.2" r="8.7"/>
<circle cx="1259.1" cy="259.1" r="8.7"/>
<circle cx="958.3" cy="452.4" r="8.7"/>
<circle cx="1214.6" cy="351.7" r="8.7"/>
<circle cx="1091.6" cy="415.9" r="8.7"/>
<circle cx="1252.1" cy="221.4" r="8.7"/>
<circle cx="1088.6" cy="369.2" r="8.7"/>
<circle cx="1167.8" cy="451.7" r="8.7"/>
<circle cx="1102.3" cy="441.3" r="8.7"/>
<circle cx="1273.5" cy="174.1" r="8.7"/>
<circle cx="980.7" cy="390.0" r="8.7"/>
<circle cx="961.7" cy="405.6" r="8.7"/>
<circle cx="1159.8" cy="449.8" r="8.7"/>
<circle cx="1227.7" cy="393.6" r="8.7"/>
<circle cx="1110.1" cy="444.0" r="8.7"/>
<circle cx="1012.1" cy="444.7" r="8.7"/>
<circle cx="840.0" cy="382.2" r="8.7"/>
<circle cx="1217.4" cy="414.2" r="8.7"/>
<circle cx="906.2" cy="446.3" r="8.7"/>
<circle cx="1006.9" cy="430.8" r="8.7"/>
<circle cx="1077.7" cy="443.5" r="8.7"/>
<circle cx="1207.0" cy="307.2" r="8.7"/>
<circle cx="969.2" cy="400.7" r="8.7"/>
<circle cx="1087.9" cy="365.3" r="8.7"/>
<circle cx="1141.2" cy="423.0" r="8.7"/>
<circle cx="1074.4" cy="417.5" r="8.7"/>
<circle cx="1161.1" cy="316.0" r="8.7"/>
<circle cx="1035.6" cy="414.2" r="8.7"/>
<circle cx="1154.1" cy="424.0" r="8.7"/>
<circle cx="1270.2" cy="277.6" r="8.7"/>
<circle cx="1228.8" cy="328.7" r="8.7"/>
<circle cx="925.9" cy="456.1" r="8.7"/>
<circle cx="982.5" cy="443.5" r="8.7"/>
<circle cx="1149.8" cy="385.0" r="8.7"/>
<circle cx="1120.0" cy="383.8" r="8.7"/>
<circle cx="1274.7" cy="217.4" r="8.7"/>
<circle cx="877.5" cy="456.9" r="8.7"/>
<circle cx="1269.9" cy="270.6" r="8.7"/>
<circle cx="1117.1" cy="462.2" r="8.7"/>
<circle cx="1254.7" cy="294.3" r="8.7"/>
<circle cx="1278.9" cy="144.5" r="8.7"/>
<circle cx="1023.5" cy="416.2" r="8.7"/>
<circle cx="1077.2" cy="404.4" r="8.7"/>
<circle cx="1174.8" cy="435.1" r="8.7"/>
<circle cx="1166.6" cy="333.5" r="8.7"/>
<circle cx="1259.7" cy="311.8" r="8.7"/>
<circle cx="1149.0" cy="363.0" r="8.7"/>
<circle cx="802.1" cy="430.3" r="8.7"/>
<circle cx="1245.4" cy="322.7" r="8.7"/>
<circle cx="973.8" cy="446.3" r="8.7"/>
<circle cx="1256.3" cy="397.0" r="8.7"/>
<circle cx="1228.7" cy="425.7" r="8.7"/>
<circle cx="1179.6" cy="425.9" r="8.7"/>
<circle cx="1278.4" cy="267.4" r="8.7"/>
<circle cx="1066.6" cy="409.0" r="8.7"/>
<circle cx="1238.0" cy="350.0" r="8.7"/>
<circle cx="1194.3" cy="328.9" r="8.7"/>
<circle cx="932.2" cy="436.8" r="8.7"/>
<circle cx="1237.6" cy="414.1" r="8.7"/>
<circle cx="1267.8" cy="268.3" r="8.7"/>
<circle cx="1166.1" cy="372.9" r="8.7"/>
<circle cx="1230.7" cy="334.9" r="8.7"/>
<circle cx="1235.6" cy="340.3" r="8.7"/>
<circle cx="1223.8" cy="362.9" r="8.7"/>
<circle cx="1236.3" cy="281.6" r="8.7"/>
<circle cx="883.3" cy="451.6" r="8.7"/>
<circle cx="1228.6" cy="400.4" r="8.7"/>
<circle cx="1271.2" cy="373.8" r="8.7"/>
<circle cx="1248.0" cy="417.0" r="8.7"/>
<circle cx="1177.2" cy="383.7" r="8.7"/>
<circle cx="1276.3" cy="311.6" r="8.7"/>
<circle cx="1085.1" cy="378.1" r="8.7"/>
<circle cx="960.0" cy="461.3" r="8.7"/>
<circle cx="1245.2" cy="292.0" r="8.7"/>
<circle cx="1210.2" cy="327.5" r="8.7"/>
<circle cx="991.5" cy="406.0" r="8.7"/>
<circle cx="1176.7" cy="338.5" r="8.7"/>
<circle cx="1245.6" cy="247.0" r="8.7"/>
<circle cx="1196.7" cy="384.3" r="8.7"/>
<circle cx="1252.8" cy="407.8" r="8.7"/>
<circle cx="1141.9" cy="386.4" r="8.7"/>
<circle cx="1191.5" cy="310.0" r="8.7"/>
<circle cx="1151.0" cy="396.5" r="8.7"/>
<circle cx="866.3" cy="457.6" r="8.7"/>
<circle cx="1177.9" cy="403.0" r="8.7"/>
<circle cx="1190.1" cy="434.7" r="8.7"/>
<circle cx="1044.5" cy="460.6" r="8.7"/>
<circle cx="930.0" cy="451.6" r="8.7"/>
<circle cx="875.1" cy="449.2" r="8.7"/>
<circle cx="1231.7" cy="387.4" r="8.7"/>
<circle cx="1181.1" cy="346.9" r="8.7"/>
<circle cx="943.3" cy="456.0" r="8.7"/>
<circle cx="1211.7" cy="318.0" r="8.7"/>
<circle cx="1199.2" cy="292.0" r="8.7"/>
<circle cx="940.2" cy="447.6" r="8.7"/>
<circle cx="1276.0" cy="205.5" r="8.7"/>
<circle cx="1124.5" cy="419.1" r="8.7"/>
<circle cx="985.7" cy="457.9" r="8.7"/>
<circle cx="1218.0" cy="347.2" r="8.7"/>
<circle cx="978.8" cy="462.3" r="8.7"/>
<circle cx="1013.1" cy="421.6" r="8.7"/>
<circle cx="1264.4" cy="381.2" r="8.7"/>
<circle cx="1278.1" cy="259.4" r="8.7"/>
<circle cx="1262.5" cy="252.7" r="8.7"/>
<circle cx="1249.1" cy="365.3" r="8.7"/>
<circle cx="1237.7" cy="403.2" r="8.7"/>
<circle cx="1061.1" cy="394.2" r="8.7"/>
<circle cx="1167.9" cy="431.0" r="8.7"/>
<circle cx="1268.5" cy="239.2" r="8.7"/>
<circle cx="1070.4" cy="443.3" r="8.7"/>
<circle cx="1190.3" cy="280.2" r="8.7"/>
<circle cx="1119.7" cy="398.7" r="8.7"/>
<circle cx="1080.2" cy="420.9" r="8.7"/>
<circle cx="1152.5" cy="422.7" r="8.7"/>
<circle cx="1228.9" cy="319.4" r="8.7"/>
<circle cx="1116.1" cy="406.6" r="8.7"/>
<circle cx="1220.9" cy="426.7" r="8.7"/>
<circle cx="1020.9" cy="416.1" r="8.7"/>
<circle cx="801.4" cy="463.1" r="8.7"/>
<circle cx="1175.7" cy="353.4" r="8.7"/>
<circle cx="1277.7" cy="350.1" r="8.7"/>
<circle cx="1108.3" cy="455.0" r="8.7"/>
<circle cx="1066.0" cy="403.8" r="8.7"/>
<circle cx="1241.9" cy="405.6" r="8.7"/>
<circle cx="890.6" cy="456.2" r="8.7"/>
<circle cx="1197.7" cy="407.7" r="8.7"/>
<circle cx="1160.9" cy="453.0" r="8.7"/>
<circle cx="1127.0" cy="454.6" r="8.7"/>
<circle cx="905.8" cy="366.5" r="8.7"/>
<circle cx="1276.8" cy="316.1" r="8.7"/>
<circle cx="1248.2" cy="285.7" r="8.7"/>
<circle cx="1023.6" cy="447.3" r="8.7"/>
<circle cx="1169.7" cy="392.6" r="8.7"/>
<circle cx="1178.1" cy="392.0" r="8.7"/>
<circle cx="1192.4" cy="447.0" r="8.7"/>
<circle cx="1015.7" cy="422.8" r="8.7"/>
<circle cx="1179.3" cy="406.8" r="8.7"/>
<circle cx="1279.1" cy="151.0" r="8.7"/>
<circle cx="1175.2" cy="392.2" r="8.7"/>
<circle cx="1226.1" cy="417.5" r="8.7"/>
<circle cx="1161.4" cy="356.5" r="8.7"/>
<circle cx="1170.7" cy="359.3" r="8.7"/>
<circle cx="964.5" cy="455.7" r="8.7"/>
<circle cx="973.6" cy="396.1" r="8.7"/>
<circle cx="1143.6" cy="350.3" r="8.7"/>
<circle cx="1052.9" cy="384.1" r="8.7"/>
<circle cx="1020.5" cy="448.1" r="8.7"/>
<circle cx="1249.6" cy="275.1" r="8.7"/>
<circle cx="1135.2" cy="369.5" r="8.7"/>
<circle cx="924.2" cy="391.8" r="8.7"/>
<circle cx="1256.3" cy="255.6" r="8.7"/>
<circle cx="1264.1" cy="337.3" r="8.7"/>
<circle cx="804.9" cy="452.1" r="8.7"/>
<circle cx="1265.1" cy="180.5" r="8.7"/>
<circle cx="1193.9" cy="398.3" r="8.7"/>
<circle cx="981.1" cy="425.9" r="8.7"/>
<circle cx="1148.3" cy="449.5" r="8.7"/>
<circle cx="1192.1" cy="436.4" r="8.7"/>
<circle cx="1101.8" cy="441.6" r="8.7"/>
<circle cx="891.2" cy="365.3" r="8.7"/>
<circle cx="1232.6" cy="338.4" r="8.7"/>
<circle cx="1231.8" cy="262.8" r="8.7"/>
<circle cx="1249.9" cy="373.0" r="8.7"/>
<circle cx="1210.2" cy="427.7" r="8.7"/>
<circle cx="1041.4" cy="354.1" r="8.7"/>
<circle cx="1089.9" cy="415.9" r="8.7"/>
<circle cx="937.1" cy="420.6" r="8.7"/>
<circle cx="1199.8" cy="399.0" r="8.7"/>
<circle cx="1234.6" cy="365.9" r="8.7"/>
<circle cx="808.8" cy="449.0" r="8.7"/>
<circle cx="1183.7" cy="308.6" r="8.7"/>
<circle cx="1258.8" cy="243.6" r="8.7"/>
<circle cx="848.7" cy="438.9" r="8.7"/>
<circle cx="920.9" cy="459.3" r="8.7"/>
<circle cx="1173.0" cy="344.6" r="8.7"/>
<circle cx="1064.0" cy="454.6" r="8.7"/>
<circle cx="1171.6" cy="339.2" r="8.7"/>
<circle cx="1239.1" cy="337.5" r="8.7"/>
<circle cx="1278.4" cy="274.8" r="8.7"/>
<circle cx="1069.1" cy="454.3" r="8.7"/>
<circle cx="1265.7" cy="407.2" r="8.7"/>
<circle cx="1113.0" cy="448.0" r="8.7"/>
<circle cx="1080.6" cy="446.1" r="8.7"/>
<circle cx="1231.3" cy="343.2" r="8.7"/>
<circle cx="1165.9" cy="430.3" r="8.7"/>
<circle cx="873.9" cy="459.6" r="8.7"/>
<circle cx="1126.5" cy="391.2" r="8.7"/>
<circle cx="1180.0" cy="341.5" r="8.7"/>
<circle cx="1278.4" cy="256.6" r="8.7"/>
<circle cx="1066.4" cy="412.4" r="8.7"/>
<circle cx="1143.9" cy="442.9" r="8.7"/>
<circle cx="947.7" cy="447.5" r="8.7"/>
<circle cx="1192.9" cy="297.9" r="8.7"/>
<circle cx="1158.5" cy="398.4" r="8.7"/>
<circle cx="1161.6" cy="359.1" r="8.7"/>
<circle cx="1233.9" cy="338.5" r="8.7"/>
<circle cx="857.5" cy="406.8" r="8.7"/>
<circle cx="1168.7" cy="349.4" r="8.7"/>
<circle cx="1058.4" cy="353.4" r="8.7"/>
<circle cx="1220.6" cy="302.1" r="8.7"/>
<circle cx="1181.8" cy="367.1" r="8.7"/>
<circle cx="1227.6" cy="408.5" r="8.7"/>
<circle cx="1199.2" cy="452.0" r="8.7"/>
<circle cx="1135.7" cy="423.3" r="8.7"/>
<circle cx="1278.3" cy="275.4" r="8.7"/>
<circle cx="1219.1" cy="427.1" r="8.7"/>
<circle cx="1134.2" cy="443.3" r="8.7"/>
<circle cx="1279.0" cy="255.1" r="8.7"/>
<circle cx="1276.0" cy="223.3" r="8.7"/>
<circle cx="1210.4" cy="380.1" r="8.7"/>
<circle cx="1272.0" cy="322.6" r="8.7"/>
<circle cx="1235.9" cy="314.7" r="8.7"/>
<circle cx="1215.7" cy="389.6" r="8.7"/>
<circle cx="1246.6" cy="372.7" r="8.7"/>
<circle cx="1278.5" cy="202.1" r="8.7"/>
<circle cx="1176.0" cy="422.4" r="8.7"/>
<circle cx="863.0" cy="395.6" r="8.7"/>
<circle cx="1137.6" cy="394.4" r="8.7"/>
<circle cx="1241.8" cy="384.2" r="8.7"/>
<circle cx="867.5" cy="443.3" r="8.7"/>
<circle cx="1221.9" cy="385.4" r="8.7"/>
<circle cx="1251.0" cy="248.2" r="8.7"/>
<circle cx="982.1" cy="407.2" r="8.7"/>
<circle cx="1243.4" cy="368.4" r="8.7"/>
<circle cx="1164.8" cy="416.7" r="8.7"/>
<circle cx="989.1" cy="423.3" r="8.7"/>
<circle cx="1225.8" cy="302.6" r="8.7"/>
<circle cx="1225.1" cy="308.8" r="8.7"/>
<circle cx="1242.5" cy="346.6" r="8.7"/>
<circle cx="1115.2" cy="407.7" r="8.7"/>
<circle cx="1271.4" cy="273.0" r="8.7"/>
<circle cx="1275.1" cy="148.5" r="8.7"/>
<circle cx="1115.6" cy="399.0" r="8.7"/>
<circle cx="811.9" cy="451.7" r="8.7"/>
<circle cx="1219.6" cy="407.9" r="8.7"/>
<circle cx="925.4" cy="440.0" r="8.7"/>
<circle cx="870.0" cy="431.4" r="8.7"/>
<circle cx="1278.8" cy="195.6" r="8.7"/>
<circle cx="891.2" cy="450.6" r="8.7"/>
<circle cx="1162.0" cy="452.2" r="8.7"/>
<circle cx="1248.8" cy="393.8" r="8.7"/>
<circle cx="936.7" cy="456.8" r="8.7"/>
<circle cx="916.3" cy="456.6" r="8.7"/>
<circle cx="1184.2" cy="395.9" r="8.7"/>
<circle cx="920.6" cy="406.2" r="8.7"/>
<circle cx="891.6" cy="460.5" r="8.7"/>
<circle cx="1142.9" cy="388.7" r="8.7"/>
<circle cx="911.5" cy="436.3" r="8.7"/>
<circle cx="1214.8" cy="252.7" r="8.7"/>
<circle cx="997.8" cy="429.6" r="8.7"/>
<circle cx="1091.1" cy="421.9" r="8.7"/>
<circle cx="1235.0" cy="391.3" r="8.7"/>
<circle cx="1127.0" cy="459.2" r="8.7"/>
<circle cx="1159.4" cy="382.3" r="8.7"/>
<circle cx="1168.9" cy="358.7" r="8.7"/>
<circle cx="1208.8" cy="306.2" r="8.7"/>
<circle cx="1115.2" cy="387.1" r="8.7"/>
<circle cx="1274.3" cy="216.1" r="8.7"/>
<circle cx="1188.5" cy="410.5" r="8.7"/>
<circle cx="1271.7" cy="335.8" r="8.7"/>
<circle cx="1183.1" cy="377.4" r="8.7"/>
<circle cx="1106.3" cy="349.8" r="8.7"/>
<circle cx="1166.6" cy="448.9" r="8.7"/>
<circle cx="1003.8" cy="459.6" r="8.7"/>
<circle cx="1215.9" cy="434.2" r="8.7"/>
<circle cx="1175.2" cy="443.7" r="8.7"/>
<circle cx="1146.8" cy="409.1" r="8.7"/>
<circle cx="1274.5" cy="198.3" r="8.7"/>
<circle cx="1047.6" cy="346.9" r="8.7"/>
<circle cx="1207.2" cy="340.7" r="8.7"/>
<circle cx="1277.6" cy="303.9" r="8.7"/>
<circle cx="1182.7" cy="335.0" r="8.7"/>
<circle cx="1154.4" cy="334.2" r="8.7"/>
<circle cx="1265.1" cy="396.2" r="8.7"/>
<circle cx="1279.0" cy="142.2" r="8.7"/>
<circle cx="1216.1" cy="412.4" r="8.7"/>
<circle cx="1141.4" cy="379.6" r="8.7"/>
<circle cx="1222.0" cy="443.9" r="8.7"/>
<circle cx="1278.7" cy="134.1" r="8.7"/>
<circle cx="828.3" cy="426.3" r="8.7"/>
<circle cx="1235.9" cy="371.2" r="8.7"/>
<circle cx="1201.9" cy="262.0" r="8.7"/>
<circle cx="1268.9" cy="235.2" r="8.7"/>
<circle cx="1255.2" cy="277.2" r="8.7"/>
<circle cx="1227.0" cy="340.9" r="8.7"/>
<circle cx="1212.9" cy="352.0" r="8.7"/>
<circle cx="1193.1" cy="303.8" r="8.7"/>
<circle cx="951.2" cy="462.9" r="8.7"/>
<circle cx="1197.9" cy="397.3" r="8.7"/>
<circle cx="1240.9" cy="383.8" r="8.7"/>
<circle cx="1246.9" cy="346.7" r="8.7"/>
<circle cx="931.5" cy="451.4" r="8.7"/>
<circle cx="1252.1" cy="234.7" r="8.7"/>
<circle cx="1114.1" cy="407.1" r="8.7"/>
<circle cx="1247.6" cy="369.8" r="8.7"/>
<circle cx="1120.1" cy="384.1" r="8.7"/>
<circle cx="1015.0" cy="438.8" r="8.7"/>
<circle cx="1253.0" cy="378.9" r="8.7"/>
<circle cx="1133.8" cy="362.6" r="8.7"/>
<circle cx="1202.2" cy="304.9" r="8.7"/>
<circle cx="1184.0" cy="416.4" r="8.7"/>
<circle cx="1068.1" cy="397.1" r="8.7"/>
<circle cx="1079.2" cy="433.9" r="8.7"/>
<circle cx="1254.3" cy="283.9" r="8.7"/>
<circle cx="1221.0" cy="278.0" r="8.7"/>
<circle cx="894.1" cy="449.7" r="8.7"/>
<circle cx="1278.5" cy="239.4" r="8.7"/>
<circle cx="1107.3" cy="427.2" r="8.7"/>
<circle cx="854.5" cy="439.2" r="8.7"/>
<circle cx="1241.2" cy="435.8" r="8.7"/>
<circle cx="983.3" cy="420.7" r="8.7"/>
<circle cx="1193.3" cy="443.5" r="8.7"/>
<circle cx="1100.8" cy="382.9" r="8.7"/>
<circle cx="1255.6" cy="313.6" r="8.7"/>
<circle cx="916.6" cy="421.1" r="8.7"/>
<circle cx="1080.2" cy="459.8" r="8.7"/>
<circle cx="1199.2" cy="426.1" r="8.7"/>
<circle cx="1123.0" cy="460.1" r="8.7"/>
<circle cx="987.7" cy="387.6" r="8.7"/>
<circle cx="1079.4" cy="449.5" r="8.7"/>
<circle cx="1119.4" cy="459.0" r="8.7"/>
<circle cx="1037.0" cy="412.9" r="8.7"/>
<circle cx="1065.5" cy="448.0" r="8.7"/>
<circle cx="1204.0" cy="281.6" r="8.7"/>
<circle cx="1169.1" cy="409.8" r="8.7"/>
<circle cx="906.2" cy="430.2" r="8.7"/>
<circle cx="849.4" cy="341.0" r="8.7"/>
<circle cx="1113.4" cy="448.7" r="8.7"/>
<circle cx="1130.2" cy="379.3" r="8.7"/>
<circle cx="1120.3" cy="396.2" r="8.7"/>
<circle cx="1246.6" cy="412.2" r="8.7"/>
<circle cx="932.1" cy="436.7" r="8.7"/>
<circle cx="1278.5" cy="190.8" r="8.7"/>
<circle cx="979.6" cy="425.7" r="8.7"/>
<circle cx="1147.0" cy="352.3" r="8.7"/>
<circle cx="1003.6" cy="447.4" r="8.7"/>
<circle cx="1106.3" cy="406.9" r="8.7"/>
<circle cx="1147.6" cy="385.3" r="8.7"/>
<circle cx="1239.3" cy="371.7" r="8.7"/>
<circle cx="1242.5" cy="246.5" r="8.7"/>
<circle cx="1278.1" cy="133.7" r="8.7"/>
<circle cx="850.7" cy="410.4" r="8.7"/>
<circle cx="1055.3" cy="461.1" r="8.7"/>
<circle cx="1092.0" cy="453.1" r="8.7"/>
<circle cx="1083.6" cy="441.8" r="8.7"/>
<circle cx="824.6" cy="454.3" r="8.7"/>
<circle cx="1024.1" cy="459.9" r="8.7"/>
<circle cx="1240.5" cy="315.7" r="8.7"/>
<circle cx="1250.0" cy="313.9" r="8.7"/>
<circle cx="1035.3" cy="417.6" r="8.7"/>
<circle cx="943.0" cy="463.3" r="8.7"/>
<circle cx="983.7" cy="446.1" r="8.7"/>
<circle cx="1278.8" cy="237.5" r="8.7"/>
<circle cx="1211.5" cy="430.3" r="8.7"/>
<circle cx="1239.9" cy="297.4" r="8.7"/>
<circle cx="1232.9" cy="439.5" r="8.7"/>
<circle cx="1146.5" cy="442.0" r="8.7"/>
<circle cx="965.1" cy="457.6" r="8.7"/>
<circle cx="997.9" cy="453.0" r="8.7"/>
<circle cx="1211.0" cy="447.6" r="8.7"/>
<circle cx="1264.6" cy="340.4" r="8.7"/>
<circle cx="829.4" cy="455.1" r="8.7"/>
<circle cx="1278.0" cy="146.5" r="8.7"/>
<circle cx="988.4" cy="460.2" r="8.7"/>
<circle cx="1042.3" cy="429.6" r="8.7"/>
<circle cx="1178.4" cy="385.1" r="8.7"/>
<circle cx="1241.5" cy="341.5" r="8.7"/>
<circle cx="1206.9" cy="384.3" r="8.7"/>
<circle cx="1221.2" cy="276.2" r="8.7"/>
<circle cx="1140.9" cy="383.7" r="8.7"/>
<circle cx="1226.9" cy="359.2" r="8.7"/>
<circle cx="800.9" cy="359.6" r="8.7"/>
<circle cx="1040.6" cy="411.8" r="8.7"/>
<circle cx="1130.0" cy="386.5" r="8.7"/>
<circle cx="1225.6" cy="319.0" r="8.7"/>
<circle cx="1166.2" cy="408.4" r="8.7"/>
<circle cx="1278.9" cy="360.7" r="8.7"/>
<circle cx="1242.7" cy="378.4" r="8.7"/>
<circle cx="1194.9" cy="379.2" r="8.7"/>
<circle cx="1171.7" cy="328.3" r="8.7"/>
<circle cx="1259.0" cy="301.0" r="8.7"/>
<circle cx="823.8" cy="409.7" r="8.7"/>
<circle cx="1165.1" cy="447.0" r="8.7"/>
<circle cx="804.3" cy="399.9" r="8.7"/>
<circle cx="790.9" cy="463.0" r="8.7"/>
<circle cx="886.1" cy="462.0" r="8.7"/>
<circle cx="1253.9" cy="415.7" r="8.7"/>
<circle cx="940.0" cy="440.7" r="8.7"/>
<circle cx="1078.0" cy="457.4" r="8.7"/>
<circle cx="1085.9" cy="413.5" r="8.7"/>
<circle cx="1206.2" cy="442.4" r="8.7"/>
<circle cx="1221.9" cy="256.9" r="8.7"/>
<circle cx="1271.8" cy="343.3" r="8.7"/>
<circle cx="1119.2" cy="402.2" r="8.7"/>
<circle cx="897.2" cy="462.0" r="8.7"/>
<circle cx="906.2" cy="461.8" r="8.7"/>
<circle cx="1227.8" cy="384.0" r="8.7"/>
<circle cx="1167.8" cy="382.5" r="8.7"/>
<circle cx="1278.4" cy="155.8" r="8.7"/>
<circle cx="888.9" cy="444.0" r="8.7"/>
<circle cx="1188.4" cy="448.2" r="8.7"/>
<circle cx="954.5" cy="426.3" r="8.7"/>
<circle cx="1074.1" cy="463.4" r="8.7"/>
<circle cx="1158.3" cy="420.3" r="8.7"/>
<circle cx="1168.5" cy="425.8" r="8.7"/>
<circle cx="1233.6" cy="263.2" r="8.7"/>
<circle cx="830.3" cy="423.5" r="8.7"/>
<circle cx="1253.2" cy="278.4" r="8.7"/>
<circle cx="1241.0" cy="291.3" r="8.7"/>
<circle cx="1244.6" cy="273.7" r="8.7"/>
<circle cx="1046.8" cy="463.4" r="8.7"/>
<circle cx="1275.8" cy="331.1" r="8.7"/>
<circle cx="1206.7" cy="424.0" r="8.7"/>
<circle cx="1277.5" cy="260.6" r="8.7"/>
<circle cx="836.1" cy="461.2" r="8.7"/>
<circle cx="1258.0" cy="404.4" r="8.7"/>
<circle cx="835.9" cy="463.0" r="8.7"/>
<circle cx="1167.5" cy="335.0" r="8.7"/>
<circle cx="1059.9" cy="441.0" r="8.7"/>
<circle cx="1266.0" cy="408.1" r="8.7"/>
<circle cx="1203.0" cy="263.5" r="8.7"/>
<circle cx="925.5" cy="416.9" r="8.7"/>
<circle cx="896.1" cy="430.7" r="8.7"/>
<circle cx="1212.0" cy="418.5" r="8.7"/>
<circle cx="1278.9" cy="185.6" r="8.7"/>
<circle cx="990.5" cy="411.7" r="8.7"/>
<circle cx="1236.5" cy="274.7" r="8.7"/>
<circle cx="1219.5" cy="429.5" r="8.7"/>
<circle cx="1113.6" cy="412.1" r="8.7"/>
<circle cx="1279.3" cy="182.9" r="8.7"/>
<circle cx="1259.8" cy="234.5" r="8.7"/>
<circle cx="1130.9" cy="391.3" r="8.7"/>
<circle cx="1263.5" cy="389.8" r="8.7"/>
<circle cx="1260.3" cy="376.7" r="8.7"/>
<circle cx="1278.7" cy="322.8" r="8.7"/>
<circle cx="816.1" cy="444.9" r="8.7"/>
<circle cx="1168.0" cy="418.0" r="8.7"/>
<circle cx="1256.7" cy="389.6" r="8.7"/>
<circle cx="1277.3" cy="288.5" r="8.7"/>
<circle cx="861.2" cy="455.6" r="8.7"/>
<circle cx="1269.7" cy="349.4" r="8.7"/>
<circle cx="1204.0" cy="442.2" r="8.7"/>
<circle cx="1278.5" cy="128.5" r="8.7"/>
<circle cx="1035.7" cy="452.7" r="8.7"/>
<circle cx="1278.8" cy="236.4" r="8.7"/>
<circle cx="1246.7" cy="265.4" r="8.7"/>
<circle cx="1258.7" cy="221.3" r="8.7"/>
<circle cx="1251.3" cy="277.7" r="8.7"/>
<circle cx="875.9" cy="461.6" r="8.7"/>
<circle cx="1082.2" cy="432.1" r="8.7"/>
<circle cx="1210.4" cy="369.8" r="8.7"/>
<circle cx="1172.8" cy="393.9" r="8.7"/>
<circle cx="1049.8" cy="433.8" r="8.7"/>
<circle cx="952.7" cy="447.3" r="8.7"/>
<circle cx="1214.0" cy="380.6" r="8.7"/>
<circle cx="802.5" cy="433.0" r="8.7"/>
<circle cx="1218.7" cy="319.0" r="8.7"/>
<circle cx="960.2" cy="432.1" r="8.7"/>
<circle cx="1117.5" cy="453.2" r="8.7"/>
<circle cx="980.4" cy="461.6" r="8.7"/>
<circle cx="961.9" cy="379.6" r="8.7"/>
<circle cx="1068.0" cy="421.1" r="8.7"/>
<circle cx="1156.7" cy="349.6" r="8.7"/>
<circle cx="1101.5" cy="408.8" r="8.7"/>
<circle cx="1095.1" cy="424.5" r="8.7"/>
<circle cx="1142.3" cy="424.1" r="8.7"/>
<circle cx="1259.2" cy="375.8" r="8.7"/>
<circle cx="1090.8" cy="438.0" r="8.7"/>
<circle cx="1192.6" cy="392.5" r="8.7"/>
<circle cx="956.8" cy="446.2" r="8.7"/>
<circle cx="989.1" cy="463.3" r="8.7"/>
<circle cx="930.6" cy="432.3" r="8.7"/>
<circle cx="920.4" cy="398.3" r="8.7"/>
<circle cx="1276.4" cy="362.3" r="8.7"/>
<circle cx="1244.2" cy="432.8" r="8.7"/>
<circle cx="1042.4" cy="425.8" r="8.7"/>
<circle cx="1178.1" cy="444.6" r="8.7"/>
<circle cx="1278.8" cy="323.2" r="8.7"/>
<circle cx="1110.0" cy="449.5" r="8.7"/>
<circle cx="1278.1" cy="229.2" r="8.7"/>
<circle cx="1003.2" cy="453.3" r="8.7"/>
<circle cx="1242.0" cy="390.4" r="8.7"/>
<circle cx="1029.8" cy="455.6" r="8.7"/>
<circle cx="820.2" cy="455.1" r="8.7"/>
<circle cx="1209.1" cy="332.4" r="8.7"/>
<circle cx="1070.3" cy="401.2" r="8.7"/>
<circle cx="904.9" cy="462.5" r="8.7"/>
<circle cx="1125.5" cy="378.7" r="8.7"/>
<circle cx="1207.6" cy="447.3" r="8.7"/>
<circle cx="998.5" cy="401.8" r="8.7"/>
<circle cx="955.1" cy="428.9" r="8.7"/>
<circle cx="1261.5" cy="207.8" r="8.7"/>
<circle cx="1260.2" cy="246.3" r="8.7"/>
<circle cx="913.0" cy="406.7" r="8.7"/>
<circle cx="995.5" cy="383.7" r="8.7"/>
<circle cx="1242.3" cy="292.5" r="8.7"/>
<circle cx="1179.0" cy="404.0" r="8.7"/>
<circle cx="879.5" cy="440.0" r="8.7"/>
<circle cx="1269.1" cy="285.4" r="8.7"/>
<circle cx="1106.9" cy="425.9" r="8.7"/>
<circle cx="1078.0" cy="434.3" r="8.7"/>
<circle cx="1274.2" cy="198.5" r="8.7"/>
<circle cx="1160.3" cy="350.3" r="8.7"/>
<circle cx="1204.9" cy="299.1" r="8.7"/>
<circle cx="1078.6" cy="404.3" r="8.7"/>
<circle cx="1197.4" cy="447.3" r="8.7"/>
<circle cx="800.8" cy="405.8" r="8.7"/>
<circle cx="1211.1" cy="391.3" r="8.7"/>
<circle cx="1126.6" cy="445.5" r="8.7"/>
<circle cx="1270.9" cy="191.2" r="8.7"/>
<circle cx="1207.1" cy="367.9" r="8.7"/>
<circle cx="1272.0" cy="353.3" r="8.7"/>
<circle cx="1216.0" cy="405.3" r="8.7"/>
<circle cx="843.2" cy="459.3" r="8.7"/>
<circle cx="1275.6" cy="217.7" r="8.7"/>
<circle cx="1214.2" cy="408.9" r="8.7"/>
<circle cx="1207.7" cy="321.1" r="8.7"/>
<circle cx="1203.4" cy="318.5" r="8.7"/>
<circle cx="1271.7" cy="188.1" r="8.7"/>
<circle cx="1075.6" cy="462.1" r="8.7"/>
<circle cx="1210.6" cy="413.9" r="8.7"/>
<circle cx="1233.3" cy="356.2" r="8.7"/>
<circle cx="1240.5" cy="381.1" r="8.7"/>
<circle cx="1277.9" cy="346.1" r="8.7"/>
<circle cx="1010.2" cy="418.4" r="8.7"/>
<circle cx="1242.7" cy="304.6" r="8.7"/>
<circle cx="1273.6" cy="215.3" r="8.7"/>
<circle cx="1127.5" cy="362.4" r="8.7"/>
<circle cx="809.3" cy="459.6" r="8.7"/>
<circle cx="821.2" cy="422.6" r="8.7"/>
<circle cx="1278.7" cy="182.4" r="8.7"/>
<circle cx="1000.0" cy="429.4" r="8.7"/>
<circle cx="1103.6" cy="454.1" r="8.7"/>
<circle cx="1278.7" cy="340.9" r="8.7"/>
<circle cx="1001.9" cy="406.2" r="8.7"/>
<circle cx="1027.9" cy="405.2" r="8.7"/>
<circle cx="1256.7" cy="247.4" r="8.7"/>
<circle cx="1167.1" cy="453.5" r="8.7"/>
<circle cx="1278.8" cy="205.1" r="8.7"/>
<circle cx="1214.7" cy="304.9" r="8.7"/>
<circle cx="915.6" cy="446.6" r="8.7"/>
<circle cx="1277.8" cy="358.8" r="8.7"/>
<circle cx="1121.2" cy="458.7" r="8.7"/>
<circle cx="1230.9" cy="440.0" r="8.7"/>
<circle cx="1207.1" cy="437.8" r="8.7"/>
<circle cx="1224.9" cy="436.8" r="8.7"/>
<circle cx="1120.2" cy="448.0" r="8.7"/>
<circle cx="1114.3" cy="460.7" r="8.7"/>
<circle cx="1267.5" cy="345.7" r="8.7"/>
<circle cx="1157.9" cy="408.3" r="8.7"/>
<circle cx="1116.8" cy="451.8" r="8.7"/>
<circle cx="1274.3" cy="227.5" r="8.7"/>
<circle cx="1196.4" cy="361.4" r="8.7"/>
<circle cx="1071.9" cy="387.2" r="8.7"/>
<circle cx="943.8" cy="406.2" r="8.7"/>
<circle cx="1202.6" cy="450.7" r="8.7"/>
<circle cx="1153.5" cy="390.0" r="8.7"/>
<circle cx="1064.2" cy="395.0" r="8.7"/>
<circle cx="1277.3" cy="374.5" r="8.7"/>
<circle cx="1209.9" cy="296.0" r="8.7"/>
<circle cx="1278.4" cy="331.8" r="8.7"/>
<circle cx="1156.2" cy="379.8" r="8.7"/>
<circle cx="901.0" cy="438.3" r="8.7"/>
<circle cx="1246.2" cy="241.0" r="8.7"/>
<circle cx="925.2" cy="453.1" r="8.7"/>
<circle cx="1090.1" cy="426.4" r="8.7"/>
<circle cx="1278.5" cy="207.9" r="8.7"/>
<circle cx="1079.8" cy="402.7" r="8.7"/>
<circle cx="1261.5" cy="207.2" r="8.7"/>
<circle cx="1175.3" cy="321.1" r="8.7"/>
<circle cx="1245.2" cy="337.5" r="8.7"/>
<circle cx="1155.3" cy="443.3" r="8.7"/>
<circle cx="1071.0" cy="409.5" r="8.7"/>
<circle cx="1008.1" cy="437.1" r="8.7"/>
<circle cx="1054.3" cy="461.7" r="8.7"/>
<circle cx="1203.1" cy="262.6" r="8.7"/>
<circle cx="1272.4" cy="178.6" r="8.7"/>
<circle cx="1214.4" cy="441.3" r="8.7"/>
<circle cx="1130.6" cy="458.6" r="8.7"/>
<circle cx="1273.8" cy="243.0" r="8.7"/>
<circle cx="886.2" cy="354.9" r="8.7"/>
<circle cx="1263.8" cy="265.4" r="8.7"/>
<circle cx="1067.8" cy="460.1" r="8.7"/>
<circle cx="1194.6" cy="387.7" r="8.7"/>
<circle cx="928.6" cy="399.5" r="8.7"/>
<circle cx="1237.1" cy="256.6" r="8.7"/>
<circle cx="1109.2" cy="407.9" r="8.7"/>
<circle cx="1273.8" cy="277.5" r="8.7"/>
<circle cx="1113.6" cy="415.6" r="8.7"/>
<circle cx="1272.7" cy="201.8" r="8.7"/>
<circle cx="1017.7" cy="441.0" r="8.7"/>
<circle cx="1076.5" cy="425.7" r="8.7"/>
<circle cx="1164.1" cy="393.2" r="8.7"/>
<circle cx="1135.2" cy="434.1" r="8.7"/>
<circle cx="1163.6" cy="395.2" r="8.7"/>
<circle cx="1259.8" cy="216.5" r="8.7"/>
<circle cx="1209.7" cy="280.5" r="8.7"/>
<circle cx="1029.1" cy="410.0" r="8.7"/>
<circle cx="1072.0" cy="456.1" r="8.7"/>
<circle cx="832.4" cy="455.3" r="8.7"/>
<circle cx="1158.4" cy="456.4" r="8.7"/>
<circle cx="1213.2" cy="282.3" r="8.7"/>
<circle cx="1220.6" cy="292.6" r="8.7"/>
<circle cx="1259.6" cy="377.3" r="8.7"/>
<circle cx="1204.6" cy="367.4" r="8.7"/>
<circle cx="1206.5" cy="446.9" r="8.7"/>
<circle cx="1096.2" cy="415.7" r="8.7"/>
<circle cx="1277.5" cy="190.9" r="8.7"/>
<circle cx="1271.2" cy="374.7" r="8.7"/>
<circle cx="1199.2" cy="362.0" r="8.7"/>
<circle cx="923.3" cy="446.5" r="8.7"/>
<circle cx="1237.5" cy="264.7" r="8.7"/>
<circle cx="956.7" cy="388.5" r="8.7"/>
<circle cx="1157.7" cy="360.7" r="8.7"/>
<circle cx="1116.8" cy="449.6" r="8.7"/>
<circle cx="950.8" cy="428.1" r="8.7"/>
<circle cx="1092.6" cy="407.1" r="8.7"/>
<circle cx="1278.7" cy="166.2" r="8.7"/>
<circle cx="1067.0" cy="462.9" r="8.7"/>
<circle cx="1212.5" cy="449.2" r="8.7"/>
<circle cx="1233.8" cy="302.3" r="8.7"/>
<circle cx="959.2" cy="419.8" r="8.7"/>
<circle cx="1079.3" cy="381.7" r="8.7"/>
<circle cx="810.9" cy="428.0" r="8.7"/>
<circle cx="1006.8" cy="380.0" r="8.7"/>
<circle cx="1240.7" cy="264.2" r="8.7"/>
<circle cx="840.6" cy="450.1" r="8.7"/>
<circle cx="1259.9" cy="401.1" r="8.7"/>
<circle cx="1271.8" cy="161.9" r="8.7"/>
<circle cx="1201.1" cy="388.6" r="8.7"/>
<circle cx="938.7" cy="433.7" r="8.7"/>
<circle cx="1025.6" cy="432.4" r="8.7"/>
<circle cx="1155.4" cy="366.7" r="8.7"/>
<circle cx="1278.1" cy="250.8" r="8.7"/>
<circle cx="1032.9" cy="417.6" r="8.7"/>
<circle cx="1259.6" cy="376.9" r="8.7"/>
<circle cx="1232.8" cy="427.1" r="8.7"/>
<circle cx="1186.3" cy="411.7" r="8.7"/>
<circle cx="1234.8" cy="317.7" r="8.7"/>
<circle cx="1266.7" cy="334.6" r="8.7"/>
<circle cx="1273.7" cy="261.8" r="8.7"/>
<circle cx="1179.4" cy="443.8" r="8.7"/>
<circle cx="1271.3" cy="162.3" r="8.7"/>
<circle cx="1132.8" cy="370.8" r="8.7"/>
<circle cx="1215.6" cy="300.9" r="8.7"/>
<circle cx="1161.0" cy="441.0" r="8.7"/>
<circle cx="1277.3" cy="255.7" r="8.7"/>
<circle cx="923.1" cy="421.6" r="8.7"/>
<circle cx="912.0" cy="414.2" r="8.7"/>
<circle cx="1161.6" cy="400.9" r="8.7"/>
<circle cx="1208.3" cy="440.8" r="8.7"/>
<circle cx="1275.5" cy="231.8" r="8.7"/>
<circle cx="1052.3" cy="462.0" r="8.7"/>
<circle cx="935.5" cy="448.4" r="8.7"/>
<circle cx="1115.9" cy="414.7" r="8.7"/>
<circle cx="1219.9" cy="394.6" r="8.7"/>
<circle cx="1254.9" cy="417.3" r="8.7"/>
<circle cx="1123.8" cy="447.1" r="8.7"/>
<circle cx="1227.8" cy="290.5" r="8.7"/>
<circle cx="1078.3" cy="387.5" r="8.7"/>
<circle cx="1120.6" cy="397.8" r="8.7"/>
<circle cx="1184.0" cy="304.9" r="8.7"/>
<circle cx="907.0" cy="426.0" r="8.7"/>
<circle cx="1214.6" cy="319.4" r="8.7"/>
<circle cx="1271.7" cy="360.0" r="8.7"/>
<circle cx="955.2" cy="424.6" r="8.7"/>
<circle cx="974.9" cy="378.0" r="8.7"/>
<circle cx="1020.0" cy="357.6" r="8.7"/>
<circle cx="1177.9" cy="398.7" r="8.7"/>
<circle cx="1245.5" cy="303.7" r="8.7"/>
<circle cx="1267.0" cy="386.0" r="8.7"/>
<circle cx="1154.2" cy="428.7" r="8.7"/>
<circle cx="1162.7" cy="350.1" r="8.7"/>
<circle cx="1064.8" cy="400.7" r="8.7"/>
<circle cx="1197.9" cy="291.5" r="8.7"/>
<circle cx="1227.4" cy="341.9" r="8.7"/>
<circle cx="1258.5" cy="271.7" r="8.7"/>
<circle cx="1240.4" cy="247.8" r="8.7"/>
<circle cx="1202.3" cy="295.2" r="8.7"/>
<circle cx="991.1" cy="428.1" r="8.7"/>
<circle cx="946.1" cy="381.0" r="8.7"/>
<circle cx="1209.3" cy="376.9" r="8.7"/>
<circle cx="1187.4" cy="432.9" r="8.7"/>
<circle cx="1243.8" cy="248.8" r="8.7"/>
<circle cx="1178.7" cy="394.8" r="8.7"/>
<circle cx="989.8" cy="424.6" r="8.7"/>
<circle cx="1278.5" cy="293.0" r="8.7"/>
<circle cx="1276.2" cy="372.4" r="8.7"/>
<circle cx="1194.5" cy="449.7" r="8.7"/>
<circle cx="1114.9" cy="386.1" r="8.7"/>
<circle cx="856.2" cy="461.9" r="8.7"/>
<circle cx="1278.5" cy="355.5" r="8.7"/>
<circle cx="908.5" cy="437.5" r="8.7"/>
<circle cx="1194.5" cy="371.4" r="8.7"/>
<circle cx="1096.2" cy="460.3" r="8.7"/>
<circle cx="1168.7" cy="338.8" r="8.7"/>
<circle cx="1211.3" cy="303.3" r="8.7"/>
<circle cx="1276.3" cy="202.7" r="8.7"/>
<circle cx="1090.7" cy="443.4" r="8.7"/>
<circle cx="1278.5" cy="149.9" r="8.7"/>
<circle cx="1189.8" cy="370.6" r="8.7"/>
<circle cx="1119.4" cy="457.9" r="8.7"/>
<circle cx="1263.0" cy="228.4" r="8.7"/>
<circle cx="1209.8" cy="448.7" r="8.7"/>
<circle cx="1278.8" cy="217.6" r="8.7"/>
<circle cx="919.5" cy="444.3" r="8.7"/>
<circle cx="1198.8" cy="423.4" r="8.7"/>
<circle cx="1107.8" cy="386.6" r="8.7"/>
<circle cx="1205.8" cy="367.1" r="8.7"/>
<circle cx="1178.4" cy="452.4" r="8.7"/>
<circle cx="1107.0" cy="455.4" r="8.7"/>
<circle cx="813.5" cy="459.5" r="8.7"/>
<circle cx="852.8" cy="450.9" r="8.7"/>
<circle cx="935.5" cy="399.7" r="8.7"/>
<circle cx="1278.4" cy="342.1" r="8.7"/>
<circle cx="1184.9" cy="421.7" r="8.7"/>
<circle cx="1217.5" cy="401.2" r="8.7"/>
<circle cx="1098.6" cy="443.2" r="8.7"/>
<circle cx="945.0" cy="368.5" r="8.7"/>
<circle cx="1263.8" cy="413.2" r="8.7"/>
<circle cx="1153.8" cy="429.4" r="8.7"/>
<circle cx="1018.2" cy="424.4" r="8.7"/>
<circle cx="1203.5" cy="450.3" r="8.7"/>
<circle cx="1242.9" cy="262.9" r="8.7"/>
<circle cx="953.6" cy="345.7" r="8.7"/>
<circle cx="1218.0" cy="272.9" r="8.7"/>
<circle cx="1184.6" cy="411.7" r="8.7"/>
<circle cx="1260.6" cy="271.7" r="8.7"/>
<circle cx="942.9" cy="461.1" r="8.7"/>
<circle cx="1239.9" cy="272.1" r="8.7"/>
<circle cx="1222.7" cy="285.6" r="8.7"/>
<circle cx="879.7" cy="377.4" r="8.7"/>
<circle cx="1168.6" cy="412.3" r="8.7"/>
<circle cx="1248.0" cy="425.6" r="8.7"/>
<circle cx="935.0" cy="431.4" r="8.7"/>
<circle cx="1278.1" cy="224.2" r="8.7"/>
<circle cx="1225.0" cy="438.9" r="8.7"/>
<circle cx="1185.8" cy="413.8" r="8.7"/>
<circle cx="1231.9" cy="342.4" r="8.7"/>
<circle cx="1268.0" cy="394.0" r="8.7"/>
<circle cx="964.6" cy="459.3" r="8.7"/>
<circle cx="1085.5" cy="449.6" r="8.7"/>
<circle cx="1264.2" cy="211.7" r="8.7"/>
<circle cx="1124.1" cy="350.9" r="8.7"/>
<circle cx="1164.0" cy="348.0" r="8.7"/>
<circle cx="1118.6" cy="450.4" r="8.7"/>
<circle cx="1277.1" cy="318.3" r="8.7"/>
<circle cx="842.2" cy="414.0" r="8.7"/>
<circle cx="1278.9" cy="301.0" r="8.7"/>
<circle cx="927.8" cy="432.7" r="8.7"/>
<circle cx="1044.4" cy="460.2" r="8.7"/>
<circle cx="1109.5" cy="412.7" r="8.7"/>
<circle cx="1055.8" cy="461.6" r="8.7"/>
<circle cx="1255.3" cy="373.2" r="8.7"/>
<circle cx="1167.7" cy="382.9" r="8.7"/>
<circle cx="1229.4" cy="311.9" r="8.7"/>
<circle cx="1135.7" cy="449.7" r="8.7"/>
<circle cx="1263.5" cy="341.5" r="8.7"/>
<circle cx="1153.6" cy="458.2" r="8.7"/>
<circle cx="1208.2" cy="450.5" r="8.7"/>
<circle cx="1263.4" cy="381.8" r="8.7"/>
<circle cx="1029.4" cy="443.3" r="8.7"/>
<circle cx="1277.7" cy="175.3" r="8.7"/>
<circle cx="986.9" cy="458.3" r="8.7"/>
<circle cx="1112.5" cy="439.4" r="8.7"/>
<circle cx="1258.9" cy="415.4" r="8.7"/>
<circle cx="1172.2" cy="452.4" r="8.7"/>
<circle cx="1107.6" cy="392.2" r="8.7"/>
<circle cx="1269.2" cy="394.7" r="8.7"/>
<circle cx="906.8" cy="402.0" r="8.7"/>
<circle cx="794.0" cy="418.2" r="8.7"/>
<circle cx="897.3" cy="431.3" r="8.7"/>
<circle cx="1278.9" cy="215.3" r="8.7"/>
<circle cx="1278.2" cy="261.4" r="8.7"/>
<circle cx="1205.9" cy="366.5" r="8.7"/>
<circle cx="1244.7" cy="260.8" r="8.7"/>
<circle cx="1025.3" cy="417.5" r="8.7"/>
<circle cx="1100.0" cy="407.5" r="8.7"/>
<circle cx="1166.2" cy="413.6" r="8.7"/>
<circle cx="1256.2" cy="313.7" r="8.7"/>
<circle cx="1177.1" cy="324.1" r="8.7"/>
<circle cx="1227.0" cy="360.3" r="8.7"/>
<circle cx="1249.6" cy="422.6" r="8.7"/>
<circle cx="1005.4" cy="429.3" r="8.7"/>
<circle cx="1040.5" cy="457.3" r="8.7"/>
<circle cx="978.6" cy="365.7" r="8.7"/>
<circle cx="1221.7" cy="301.3" r="8.7"/>
<circle cx="1258.2" cy="387.0" r="8.7"/>
<circle cx="1207.6" cy="292.2" r="8.7"/>
<circle cx="1245.8" cy="339.1" r="8.7"/>
<circle cx="1100.5" cy="457.2" r="8.7"/>
<circle cx="1083.7" cy="462.3" r="8.7"/>
<circle cx="973.7" cy="427.3" r="8.7"/>
<circle cx="854.1" cy="461.0" r="8.7"/>
<circle cx="1264.1" cy="210.9" r="8.7"/>
<circle cx="1262.1" cy="412.0" r="8.7"/>
<circle cx="860.3" cy="432.5" r="8.7"/>
<circle cx="1279.0" cy="344.1" r="8.7"/>
<circle cx="1240.6" cy="289.9" r="8.7"/>
<circle cx="1231.9" cy="302.9" r="8.7"/>
<circle cx="1100.0" cy="363.4" r="8.7"/>
<circle cx="807.1" cy="463.0" r="8.7"/>
<circle cx="1230.7" cy="274.8" r="8.7"/>
<circle cx="1267.8" cy="392.4" r="8.7"/>
<circle cx="1250.0" cy="351.0" r="8.7"/>
<circle cx="1223.8" cy="333.6" r="8.7"/>
<circle cx="1042.8" cy="399.4" r="8.7"/>
<circle cx="1278.8" cy="154.4" r="8.7"/>
<circle cx="1276.2" cy="153.9" r="8.7"/>
<circle cx="858.4" cy="456.8" r="8.7"/>
<circle cx="955.8" cy="438.1" r="8.7"/>
<circle cx="1230.5" cy="345.0" r="8.7"/>
<circle cx="1277.3" cy="358.6" r="8.7"/>
<circle cx="1154.5" cy="454.6" r="8.7"/>
<circle cx="1088.1" cy="398.0" r="8.7"/>
<circle cx="1103.7" cy="396.7" r="8.7"/>
<circle cx="1149.1" cy="359.8" r="8.7"/>
<circle cx="1107.0" cy="456.7" r="8.7"/>
<circle cx="892.4" cy="428.2" r="8.7"/>
<circle cx="812.1" cy="396.4" r="8.7"/>
<circle cx="847.0" cy="456.7" r="8.7"/>
<circle cx="1194.9" cy="450.2" r="8.7"/>
<circle cx="1246.2" cy="427.0" r="8.7"/>
<circle cx="1279.2" cy="256.4" r="8.7"/>
<circle cx="1247.2" cy="307.7" r="8.7"/>
<circle cx="1188.3" cy="374.5" r="8.7"/>
<circle cx="1100.5" cy="415.1" r="8.7"/>
<circle cx="812.2" cy="462.1" r="8.7"/>
<circle cx="996.0" cy="393.5" r="8.7"/>
<circle cx="1278.7" cy="198.6" r="8.7"/>
<circle cx="1174.7" cy="423.9" r="8.7"/>
<circle cx="1273.1" cy="182.0" r="8.7"/>
<circle cx="1224.9" cy="434.1" r="8.7"/>
<circle cx="1226.3" cy="336.5" r="8.7"/>
<circle cx="998.1" cy="423.1" r="8.7"/>
<circle cx="951.9" cy="419.4" r="8.7"/>
<circle cx="1213.5" cy="275.7" r="8.7"/>
<circle cx="1277.4" cy="244.4" r="8.7"/>
<circle cx="1029.6" cy="452.8" r="8.7"/>
<circle cx="1216.0" cy="299.4" r="8.7"/>
<circle cx="1055.6" cy="373.3" r="8.7"/>
<circle cx="883.7" cy="446.5" r="8.7"/>
<circle cx="1278.0" cy="180.8" r="8.7"/>
<circle cx="1228.3" cy="303.9" r="8.7"/>
<circle cx="1214.3" cy="278.1" r="8.7"/>
<circle cx="1260.8" cy="349.9" r="8.7"/>
<circle cx="1278.4" cy="131.9" r="8.7"/>
<circle cx="1138.4" cy="382.2" r="8.7"/>
<circle cx="1012.0" cy="421.2" r="8.7"/>
<circle cx="1108.9" cy="383.3" r="8.7"/>
<circle cx="841.8" cy="460.2" r="8.7"/>
<circle cx="1071.0" cy="459.6" r="8.7"/>
<circle cx="1188.0" cy="428.8" r="8.7"/>
<circle cx="1005.9" cy="422.1" r="8.7"/>
<circle cx="1044.5" cy="389.3" r="8.7"/>
<circle cx="1032.5" cy="412.9" r="8.7"/>
<circle cx="1122.1" cy="343.3" r="8.7"/>
<circle cx="1221.6" cy="324.5" r="8.7"/>
<circle cx="1116.3" cy="393.5" r="8.7"/>
<circle cx="1212.3" cy="278.2" r="8.7"/>
<circle cx="1220.3" cy="351.1" r="8.7"/>
<circle cx="1278.9" cy="295.0" r="8.7"/>
<circle cx="1278.9" cy="204.1" r="8.7"/>
<circle cx="914.7" cy="457.0" r="8.7"/>
<circle cx="1278.7" cy="286.4" r="8.7"/>
<circle cx="867.6" cy="447.1" r="8.7"/>
<circle cx="1200.3" cy="366.3" r="8.7"/>
<circle cx="1264.7" cy="197.4" r="8.7"/>
<circle cx="1149.1" cy="358.8" r="8.7"/>
<circle cx="1097.7" cy="460.9" r="8.7"/>
<circle cx="1105.8" cy="383.1" r="8.7"/>
<circle cx="983.3" cy="459.1" r="8.7"/>
<circle cx="1151.1" cy="357.8" r="8.7"/>
<circle cx="838.4" cy="462.7" r="8.7"/>
<circle cx="956.8" cy="461.7" r="8.7"/>
<circle cx="1146.5" cy="457.4" r="8.7"/>
<circle cx="1097.4" cy="391.6" r="8.7"/>
<circle cx="876.9" cy="450.2" r="8.7"/>
<circle cx="1187.2" cy="415.1" r="8.7"/>
<circle cx="1278.9" cy="149.2" r="8.7"/>
<circle cx="891.0" cy="429.9" r="8.7"/>
<circle cx="1046.9" cy="344.3" r="8.7"/>
<circle cx="910.8" cy="435.4" r="8.7"/>
<circle cx="902.8" cy="438.4" r="8.7"/>
<circle cx="1245.3" cy="419.6" r="8.7"/>
<circle cx="918.2" cy="350.8" r="8.7"/>
<circle cx="1211.8" cy="326.2" r="8.7"/>
<circle cx="1238.9" cy="312.0" r="8.7"/>
<circle cx="961.9" cy="395.3" r="8.7"/>
<circle cx="843.0" cy="457.2" r="8.7"/>
<circle cx="856.9" cy="462.2" r="8.7"/>
<circle cx="1277.6" cy="299.4" r="8.7"/>
<circle cx="909.2" cy="390.4" r="8.7"/>
<circle cx="1184.3" cy="305.3" r="8.7"/>
<circle cx="1098.0" cy="418.9" r="8.7"/>
<circle cx="1216.4" cy="284.5" r="8.7"/>
<circle cx="912.7" cy="418.0" r="8.7"/>
<circle cx="1098.4" cy="460.4" r="8.7"/>
<circle cx="1277.0" cy="279.5" r="8.7"/>
<circle cx="996.8" cy="380.3" r="8.7"/>
<circle cx="1189.7" cy="433.5" r="8.7"/>
<circle cx="1255.3" cy="393.9" r="8.7"/>
<circle cx="951.1" cy="458.4" r="8.7"/>
<circle cx="932.5" cy="448.2" r="8.7"/>
<circle cx="924.6" cy="454.0" r="8.7"/>
<circle cx="1244.8" cy="341.3" r="8.7"/>
<circle cx="928.3" cy="457.1" r="8.7"/>
<circle cx="1184.0" cy="424.9" r="8.7"/>
<circle cx="848.6" cy="415.4" r="8.7"/>
<circle cx="1036.8" cy="372.7" r="8.7"/>
<circle cx="1020.0" cy="432.7" r="8.7"/>
<circle cx="1279.0" cy="222.6" r="8.7"/>
<circle cx="899.4" cy="461.5" r="8.7"/>
<circle cx="1246.8" cy="283.6" r="8.7"/>
<circle cx="1208.9" cy="442.5" r="8.7"/>
<circle cx="1277.4" cy="150.0" r="8.7"/>
<circle cx="832.1" cy="456.1" r="8.7"/>
<circle cx="1107.5" cy="452.7" r="8.7"/>
<circle cx="1246.9" cy="390.7" r="8.7"/>
<circle cx="829.7" cy="436.8" r="8.7"/>
<circle cx="1007.0" cy="421.8" r="8.7"/>
<circle cx="1091.5" cy="402.4" r="8.7"/>
<circle cx="905.8" cy="416.3" r="8.7"/>
<circle cx="1260.4" cy="203.4" r="8.7"/>
<circle cx="1036.0" cy="402.5" r="8.7"/>
<circle cx="1236.6" cy="276.6" r="8.7"/>
<circle cx="929.0" cy="416.0" r="8.7"/>
<circle cx="1279.2" cy="174.1" r="8.7"/>
<circle cx="1073.9" cy="354.3" r="8.7"/>
<circle cx="1212.7" cy="293.7" r="8.7"/>
<circle cx="1244.8" cy="380.1" r="8.7"/>
<circle cx="1206.1" cy="287.6" r="8.7"/>
<circle cx="1278.3" cy="323.6" r="8.7"/>
<circle cx="881.7" cy="449.1" r="8.7"/>
<circle cx="1250.3" cy="376.8" r="8.7"/>
<circle cx="1278.6" cy="264.1" r="8.7"/>
<circle cx="1262.6" cy="407.1" r="8.7"/>
<circle cx="1257.2" cy="375.9" r="8.7"/>
<circle cx="927.6" cy="455.5" r="8.7"/>
<circle cx="1215.3" cy="287.6" r="8.7"/>
<circle cx="928.0" cy="440.4" r="8.7"/>
<circle cx="1047.0" cy="460.8" r="8.7"/>
<circle cx="1246.7" cy="387.1" r="8.7"/>
<circle cx="1228.0" cy="433.0" r="8.7"/>
<circle cx="885.6" cy="419.5" r="8.7"/>
<circle cx="1131.4" cy="385.5" r="8.7"/>
<circle cx="1124.0" cy="461.4" r="8.7"/>
<circle cx="1229.7" cy="439.4" r="8.7"/>
<circle cx="1278.8" cy="281.9" r="8.7"/>
<circle cx="1064.6" cy="411.3" r="8.7"/>
<circle cx="1225.1" cy="277.3" r="8.7"/>
<circle cx="1001.7" cy="385.9" r="8.7"/>
<circle cx="1253.0" cy="349.6" r="8.7"/>
<circle cx="1204.3" cy="392.2" r="8.7"/>
<circle cx="1278.4" cy="174.6" r="8.7"/>
<circle cx="949.1" cy="441.5" r="8.7"/>
<circle cx="1255.8" cy="225.0" r="8.7"/>
<circle cx="1128.9" cy="358.7" r="8.7"/>
<circle cx="962.8" cy="349.9" r="8.7"/>
<circle cx="1086.0" cy="409.0" r="8.7"/>
<circle cx="1221.8" cy="284.3" r="8.7"/>
<circle cx="1210.6" cy="382.5" r="8.7"/>
<circle cx="1191.0" cy="417.5" r="8.7"/>
<circle cx="1022.7" cy="453.2" r="8.7"/>
<circle cx="1135.0" cy="460.1" r="8.7"/>
<circle cx="804.8" cy="461.4" r="8.7"/>
<circle cx="1218.8" cy="446.1" r="8.7"/>
<circle cx="894.0" cy="458.9" r="8.7"/>
<circle cx="945.8" cy="434.7" r="8.7"/>
<circle cx="1096.4" cy="394.7" r="8.7"/>
<circle cx="921.3" cy="432.8" r="8.7"/>
<circle cx="1024.4" cy="452.0" r="8.7"/>
<circle cx="1060.3" cy="460.1" r="8.7"/>
<circle cx="1097.3" cy="407.1" r="8.7"/>
<circle cx="992.2" cy="383.0" r="8.7"/>
<circle cx="858.4" cy="447.1" r="8.7"/>
<circle cx="975.8" cy="458.4" r="8.7"/>
<circle cx="893.0" cy="459.2" r="8.7"/>
<circle cx="1278.2" cy="171.2" r="8.7"/>
<circle cx="1004.7" cy="417.4" r="8.7"/>
<circle cx="1278.2" cy="148.9" r="8.7"/>
<circle cx="955.2" cy="426.6" r="8.7"/>
<circle cx="1211.2" cy="280.9" r="8.7"/>
<circle cx="1258.5" cy="238.0" r="8.7"/>
<circle cx="1053.1" cy="402.6" r="8.7"/>
<circle cx="818.5" cy="457.0" r="8.7"/>
<circle cx="1073.3" cy="407.2" r="8.7"/>
<circle cx="1043.0" cy="405.9" r="8.7"/>
<circle cx="931.4" cy="383.1" r="8.7"/>
<circle cx="1237.1" cy="432.5" r="8.7"/>
<circle cx="1256.3" cy="311.3" r="8.7"/>
<circle cx="917.8" cy="434.5" r="8.7"/>
<circle cx="1277.8" cy="296.2" r="8.7"/>
<circle cx="1278.4" cy="258.5" r="8.7"/>
<circle cx="1263.7" cy="201.7" r="8.7"/>
<circle cx="1259.4" cy="404.0" r="8.7"/>
<circle cx="1278.8" cy="347.5" r="8.7"/>
<circle cx="1181.3" cy="321.0" r="8.7"/>
<circle cx="1097.0" cy="459.8" r="8.7"/>
<circle cx="1050.3" cy="374.0" r="8.7"/>
<circle cx="935.1" cy="391.1" r="8.7"/>
<circle cx="828.0" cy="461.3" r="8.7"/>
<circle cx="1248.2" cy="428.4" r="8.7"/>
<circle cx="1027.6" cy="417.1" r="8.7"/>
<circle cx="1186.1" cy="317.3" r="8.7"/>
<circle cx="1256.5" cy="309.1" r="8.7"/>
<circle cx="1189.3" cy="300.0" r="8.7"/>
<circle cx="1278.6" cy="253.6" r="8.7"/>
<circle cx="1255.9" cy="302.7" r="8.7"/>
<circle cx="1125.7" cy="386.7" r="8.7"/>
<circle cx="844.9" cy="404.7" r="8.7"/>
<circle cx="1218.4" cy="292.9" r="8.7"/>
<circle cx="1262.6" cy="208.8" r="8.7"/>
<circle cx="1278.5" cy="130.7" r="8.7"/>
<circle cx="1278.7" cy="351.2" r="8.7"/>
<circle cx="1132.7" cy="379.9" r="8.7"/>
<circle cx="1234.0" cy="308.3" r="8.7"/>
<circle cx="987.8" cy="462.0" r="8.7"/>
<circle cx="1249.5" cy="305.5" r="8.7"/>
<circle cx="916.4" cy="435.0" r="8.7"/>
<circle cx="1155.6" cy="356.0" r="8.7"/>
<circle cx="1278.5" cy="210.2" r="8.7"/>
<circle cx="1250.7" cy="412.3" r="8.7"/>
<circle cx="864.6" cy="450.9" r="8.7"/>
<circle cx="1278.9" cy="138.4" r="8.7"/>
<circle cx="1256.5" cy="416.3" r="8.7"/>
<circle cx="1107.4" cy="462.6" r="8.7"/>
<circle cx="920.3" cy="423.7" r="8.7"/>
<circle cx="1279.0" cy="339.8" r="8.7"/>
<circle cx="1098.4" cy="392.6" r="8.7"/>
<circle cx="1195.7" cy="378.4" r="8.7"/>
<circle cx="947.2" cy="428.2" r="8.7"/>
<circle cx="1127.3" cy="440.9" r="8.7"/>
<circle cx="1208.7" cy="283.3" r="8.7"/>
<circle cx="1278.9" cy="312.6" r="8.7"/>
<circle cx="899.7" cy="412.5" r="8.7"/>
<circle cx="1272.3" cy="384.8" r="8.7"/>
<circle cx="1267.3" cy="200.4" r="8.7"/>
<circle cx="1261.2" cy="195.9" r="8.7"/>
<circle cx="1009.1" cy="383.0" r="8.7"/>
<circle cx="944.3" cy="403.3" r="8.7"/>
<circle cx="1042.1" cy="461.9" r="8.7"/>
<circle cx="1279.6" cy="366.7" r="8.7"/>
<circle cx="991.8" cy="463.5" r="8.7"/>
<circle cx="1251.0" cy="334.9" r="8.7"/>
<circle cx="879.0" cy="424.1" r="8.7"/>
<circle cx="818.7" cy="461.9" r="8.7"/>
<circle cx="1274.7" cy="158.9" r="8.7"/>
<circle cx="1025.0" cy="458.1" r="8.7"/>
<circle cx="825.8" cy="459.9" r="8.7"/>
<circle cx="1087.6" cy="408.5" r="8.7"/>
<circle cx="988.1" cy="421.6" r="8.7"/>
<circle cx="1277.7" cy="225.8" r="8.7"/>
<circle cx="800.5" cy="405.5" r="8.7"/>
<circle cx="1017.7" cy="462.1" r="8.7"/>
<circle cx="824.5" cy="455.1" r="8.7"/>
<circle cx="927.4" cy="461.8" r="8.7"/>
<circle cx="1074.9" cy="387.4" r="8.7"/>
<circle cx="1171.9" cy="299.7" r="8.7"/>
<circle cx="1096.2" cy="392.6" r="8.7"/>
<circle cx="1153.4" cy="326.6" r="8.7"/>
<circle cx="1040.7" cy="463.0" r="8.7"/>
<circle cx="1118.2" cy="431.6" r="8.7"/>
<circle cx="1185.2" cy="389.2" r="8.7"/>
<circle cx="861.7" cy="460.9" r="8.7"/>
<circle cx="907.8" cy="419.5" r="8.7"/>
<circle cx="1278.2" cy="145.3" r="8.7"/>
<circle cx="814.5" cy="454.9" r="8.7"/>
<circle cx="1104.7" cy="383.9" r="8.7"/>
<circle cx="1278.2" cy="309.3" r="8.7"/>
<circle cx="1131.1" cy="382.2" r="8.7"/>
<circle cx="1063.3" cy="463.3" r="8.7"/>
<circle cx="847.9" cy="402.7" r="8.7"/>
<circle cx="890.9" cy="450.2" r="8.7"/>
<circle cx="876.3" cy="433.9" r="8.7"/>
<circle cx="1278.8" cy="269.9" r="8.7"/>
<circle cx="838.9" cy="452.5" r="8.7"/>
<circle cx="907.9" cy="458.7" r="8.7"/>
<circle cx="906.5" cy="397.7" r="8.7"/>
<circle cx="999.8" cy="353.8" r="8.7"/>
<circle cx="1234.0" cy="266.6" r="8.7"/>
<circle cx="835.4" cy="445.2" r="8.7"/>
<circle cx="909.0" cy="461.8" r="8.7"/>
<circle cx="1140.9" cy="332.0" r="8.7"/>
<circle cx="898.3" cy="461.9" r="8.7"/>
<circle cx="1278.9" cy="313.0" r="8.7"/>
<circle cx="991.4" cy="460.2" r="8.7"/>
<circle cx="974.7" cy="463.2" r="8.7"/>
<circle cx="855.2" cy="459.1" r="8.7"/>
<circle cx="904.9" cy="458.2" r="8.7"/>
<circle cx="1167.5" cy="342.8" r="8.7"/>
<circle cx="1120.2" cy="362.8" r="8.7"/>
<circle cx="1101.2" cy="389.4" r="8.7"/>
<circle cx="1094.7" cy="396.2" r="8.7"/>
<circle cx="1278.8" cy="239.0" r="8.7"/>
<circle cx="1199.2" cy="292.8" r="8.7"/>
<circle cx="1141.2" cy="359.8" r="8.7"/>
<circle cx="1146.4" cy="458.7" r="8.7"/>
<circle cx="1069.8" cy="414.9" r="8.7"/>
<circle cx="1278.2" cy="192.5" r="8.7"/>
<circle cx="1195.0" cy="296.1" r="8.7"/>
<circle cx="806.5" cy="462.0" r="8.7"/>
<circle cx="1063.7" cy="397.1" r="8.7"/>
<circle cx="1278.5" cy="135.0" r="8.7"/>
<circle cx="952.7" cy="416.8" r="8.7"/>
<circle cx="948.5" cy="408.0" r="8.7"/>
<circle cx="1278.5" cy="185.8" r="8.7"/>
<circle cx="1026.0" cy="462.0" r="8.7"/>
<circle cx="983.1" cy="424.9" r="8.7"/>
<circle cx="1060.3" cy="375.1" r="8.7"/>
<circle cx="1199.8" cy="362.6" r="8.7"/>
<circle cx="1276.0" cy="219.0" r="8.7"/>
<circle cx="1054.7" cy="460.8" r="8.7"/>
<circle cx="895.1" cy="446.3" r="8.7"/>
<circle cx="1130.0" cy="383.0" r="8.7"/>
<circle cx="1183.6" cy="310.0" r="8.7"/>
<circle cx="1233.3" cy="266.8" r="8.7"/>
<circle cx="954.9" cy="460.5" r="8.7"/>
<circle cx="997.6" cy="422.6" r="8.7"/>
<circle cx="996.6" cy="380.9" r="8.7"/>
<circle cx="1121.9" cy="456.9" r="8.7"/>
<circle cx="1110.8" cy="461.6" r="8.7"/>
<circle cx="1034.9" cy="463.0" r="8.7"/>
<circle cx="1235.0" cy="253.6" r="8.7"/>
<circle cx="1279.0" cy="215.7" r="8.7"/>
<circle cx="1048.7" cy="383.0" r="8.7"/>
<circle cx="910.8" cy="420.3" r="8.7"/>
<circle cx="889.2" cy="371.4" r="8.7"/>
<circle cx="1191.9" cy="383.4" r="8.7"/>
<circle cx="883.5" cy="458.8" r="8.7"/>
<circle cx="880.8" cy="449.2" r="8.7"/>
<circle cx="834.6" cy="424.6" r="8.7"/>
<circle cx="1238.0" cy="241.1" r="8.7"/>
<circle cx="1240.4" cy="429.0" r="8.7"/>
<circle cx="1045.5" cy="364.1" r="8.7"/>
<circle cx="1085.2" cy="390.5" r="8.7"/>
<circle cx="1273.8" cy="381.5" r="8.7"/>
<circle cx="1069.2" cy="457.1" r="8.7"/>
<circle cx="1275.9" cy="203.1" r="8.7"/>
<circle cx="1115.1" cy="460.8" r="8.7"/>
<circle cx="1192.8" cy="416.3" r="8.7"/>
<circle cx="833.7" cy="348.5" r="8.7"/>
<circle cx="1038.3" cy="413.3" r="8.7"/>
<circle cx="1261.5" cy="335.7" r="8.7"/>
<circle cx="1173.4" cy="299.8" r="8.7"/>
<circle cx="932.7" cy="433.1" r="8.7"/>
<circle cx="1022.2" cy="395.3" r="8.7"/>
<circle cx="1279.0" cy="227.7" r="8.7"/>
<circle cx="1278.6" cy="279.5" r="8.7"/>
<circle cx="906.5" cy="350.0" r="8.7"/>
<circle cx="1124.4" cy="380.4" r="8.7"/>
<circle cx="1125.3" cy="361.7" r="8.7"/>
<circle cx="1271.9" cy="374.7" r="8.7"/>
<circle cx="1015.1" cy="389.5" r="8.7"/>
<circle cx="1217.8" cy="277.3" r="8.7"/>
<circle cx="1251.2" cy="230.4" r="8.7"/>
<circle cx="1200.8" cy="374.9" r="8.7"/>
<circle cx="969.6" cy="461.1" r="8.7"/>
<circle cx="1025.2" cy="411.5" r="8.7"/>
<circle cx="1195.3" cy="422.4" r="8.7"/>
<circle cx="1032.3" cy="404.8" r="8.7"/>
<circle cx="839.9" cy="461.6" r="8.7"/>
<circle cx="805.5" cy="411.7" r="8.7"/>
<circle cx="916.5" cy="427.5" r="8.7"/>
<circle cx="1204.4" cy="388.3" r="8.7"/>
<circle cx="835.3" cy="430.7" r="8.7"/>
<circle cx="1278.3" cy="164.4" r="8.7"/>
<circle cx="1090.7" cy="461.9" r="8.7"/>
<circle cx="1089.4" cy="459.6" r="8.7"/>
<circle cx="1011.5" cy="461.8" r="8.7"/>
<circle cx="919.3" cy="443.1" r="8.7"/>
<circle cx="1238.8" cy="301.8" r="8.7"/>
<circle cx="1093.3" cy="462.5" r="8.7"/>
<circle cx="965.0" cy="392.5" r="8.7"/>
<circle cx="1185.5" cy="422.3" r="8.7"/>
<circle cx="1229.9" cy="264.6" r="8.7"/>
<circle cx="963.3" cy="419.3" r="8.7"/>
<circle cx="1185.1" cy="416.7" r="8.7"/>
<circle cx="1085.2" cy="405.5" r="8.7"/>
<circle cx="956.1" cy="428.3" r="8.7"/>
<circle cx="1129.2" cy="382.5" r="8.7"/>
<circle cx="914.0" cy="404.9" r="8.7"/>
<circle cx="1016.2" cy="418.0" r="8.7"/>
<circle cx="1175.2" cy="301.9" r="8.7"/>
<circle cx="1278.3" cy="342.9" r="8.7"/>
<circle cx="1200.3" cy="276.0" r="8.7"/>
<circle cx="1065.6" cy="408.1" r="8.7"/>
<circle cx="1124.2" cy="362.3" r="8.7"/>
<circle cx="1254.5" cy="349.2" r="8.7"/>
<circle cx="1055.2" cy="462.2" r="8.7"/>
<circle cx="1198.6" cy="292.2" r="8.7"/>
<circle cx="1205.1" cy="371.5" r="8.7"/>
<circle cx="1254.9" cy="223.4" r="8.7"/>
<circle cx="920.0" cy="393.3" r="8.7"/>
<circle cx="925.2" cy="421.8" r="8.7"/>
<circle cx="971.0" cy="418.4" r="8.7"/>
<circle cx="1270.2" cy="394.9" r="8.7"/>
<circle cx="1278.9" cy="329.8" r="8.7"/>
<circle cx="1275.4" cy="148.0" r="8.7"/>
<circle cx="1230.1" cy="261.1" r="8.7"/>
<circle cx="1060.1" cy="371.8" r="8.7"/>
<circle cx="1004.4" cy="423.0" r="8.7"/>
<circle cx="1234.5" cy="254.7" r="8.7"/>
<circle cx="1246.2" cy="429.3" r="8.7"/>
<circle cx="1064.7" cy="459.2" r="8.7"/>
<circle cx="947.9" cy="459.9" r="8.7"/>
<circle cx="931.6" cy="433.9" r="8.7"/>
<circle cx="1016.0" cy="386.8" r="8.7"/>
<circle cx="1110.8" cy="368.8" r="8.7"/>
<circle cx="957.8" cy="384.6" r="8.7"/>
<circle cx="1139.3" cy="359.2" r="8.7"/>
<circle cx="909.3" cy="416.7" r="8.7"/>
<circle cx="1223.2" cy="439.0" r="8.7"/>
<circle cx="1161.4" cy="385.1" r="8.7"/>
<circle cx="1169.9" cy="320.1" r="8.7"/>
<circle cx="1254.4" cy="237.5" r="8.7"/>
<circle cx="828.3" cy="390.8" r="8.7"/>
<circle cx="1253.0" cy="239.8" r="8.7"/>
<circle cx="952.7" cy="427.5" r="8.7"/>
<circle cx="1018.2" cy="462.0" r="8.7"/>
<circle cx="1085.0" cy="460.0" r="8.7"/>
<circle cx="1278.8" cy="321.3" r="8.7"/>
<circle cx="1229.0" cy="264.3" r="8.7"/>
<circle cx="1000.0" cy="417.1" r="8.7"/>
<circle cx="1001.7" cy="359.6" r="8.7"/>
<circle cx="1051.3" cy="409.7" r="8.7"/>
<circle cx="1025.8" cy="365.5" r="8.7"/>
<circle cx="864.4" cy="446.1" r="8.7"/>
<circle cx="1278.3" cy="261.5" r="8.7"/>
<circle cx="1278.9" cy="246.9" r="8.7"/>
<circle cx="997.9" cy="459.5" r="8.7"/>
<circle cx="1172.6" cy="453.5" r="8.7"/>
<circle cx="1099.4" cy="392.0" r="8.7"/>
<circle cx="1206.0" cy="284.7" r="8.7"/>
<circle cx="1233.6" cy="433.2" r="8.7"/>
<circle cx="1239.9" cy="308.9" r="8.7"/>
<circle cx="848.2" cy="449.0" r="8.7"/>
<circle cx="938.7" cy="374.6" r="8.7"/>
<circle cx="796.5" cy="460.6" r="8.7"/>
<circle cx="791.8" cy="419.0" r="8.7"/>
<circle cx="1207.0" cy="288.3" r="8.7"/>
<circle cx="1277.7" cy="267.9" r="8.7"/>
<circle cx="1066.5" cy="400.6" r="8.7"/>
<circle cx="841.6" cy="460.2" r="8.7"/>
<circle cx="1164.2" cy="336.2" r="8.7"/>
<circle cx="899.6" cy="461.2" r="8.7"/>
<circle cx="1113.5" cy="461.7" r="8.7"/>
<circle cx="1126.1" cy="384.4" r="8.7"/>
<circle cx="1077.1" cy="395.9" r="8.7"/>
<circle cx="962.1" cy="425.5" r="8.7"/>
<circle cx="926.6" cy="459.9" r="8.7"/>
<circle cx="981.7" cy="425.4" r="8.7"/>
<circle cx="1078.1" cy="461.3" r="8.7"/>
<circle cx="1091.3" cy="402.6" r="8.7"/>
<circle cx="1239.1" cy="245.6" r="8.7"/>
<circle cx="1278.8" cy="180.1" r="8.7"/>
<circle cx="890.4" cy="460.6" r="8.7"/>
<circle cx="1195.6" cy="368.8" r="8.7"/>
<circle cx="1129.6" cy="457.0" r="8.7"/>
<circle cx="1197.8" cy="377.1" r="8.7"/>
<circle cx="797.7" cy="463.1" r="8.7"/>
<circle cx="790.2" cy="458.8" r="8.7"/>
<circle cx="1277.7" cy="160.8" r="8.7"/>
<circle cx="1278.9" cy="208.5" r="8.7"/>
<circle cx="1278.7" cy="356.0" r="8.7"/>
<circle cx="1208.0" cy="380.3" r="8.7"/>
<circle cx="1250.1" cy="231.3" r="8.7"/>
<circle cx="1260.8" cy="335.2" r="8.7"/>
<circle cx="1169.0" cy="332.8" r="8.7"/>
<circle cx="1266.0" cy="198.6" r="8.7"/>
<circle cx="1106.4" cy="369.6" r="8.7"/>
<circle cx="850.4" cy="450.3" r="8.7"/>
<circle cx="1002.1" cy="423.3" r="8.7"/>
<circle cx="1204.0" cy="383.4" r="8.7"/>
<circle cx="1278.3" cy="240.7" r="8.7"/>
<circle cx="1261.2" cy="196.1" r="8.7"/>
<circle cx="1224.9" cy="271.8" r="8.7"/>
<circle cx="1278.7" cy="239.2" r="8.7"/>
<circle cx="1277.4" cy="144.7" r="8.7"/>
<circle cx="1033.4" cy="386.6" r="8.7"/>
<circle cx="920.1" cy="404.6" r="8.7"/>
<circle cx="1084.3" cy="404.7" r="8.7"/>
<circle cx="1059.5" cy="463.3" r="8.7"/>
<circle cx="1199.6" cy="289.2" r="8.7"/>
<circle cx="1278.8" cy="327.6" r="8.7"/>
<circle cx="878.5" cy="463.5" r="8.7"/>
<circle cx="1191.3" cy="453.8" r="8.7"/>
<circle cx="1061.4" cy="405.9" r="8.7"/>
<circle cx="940.3" cy="458.5" r="8.7"/>
<circle cx="1061.4" cy="410.2" r="8.7"/>
<circle cx="1080.1" cy="380.9" r="8.7"/>
<circle cx="1278.9" cy="214.7" r="8.7"/>
<circle cx="1253.1" cy="423.4" r="8.7"/>
<circle cx="1210.5" cy="280.3" r="8.7"/>
<circle cx="1260.9" cy="215.2" r="8.7"/>
<circle cx="1140.5" cy="460.2" r="8.7"/>
<circle cx="1093.5" cy="461.4" r="8.7"/>
<circle cx="1278.7" cy="161.8" r="8.7"/>
<circle cx="1033.4" cy="411.6" r="8.7"/>
<circle cx="1278.4" cy="194.8" r="8.7"/>
<circle cx="1267.2" cy="395.8" r="8.7"/>
<circle cx="1278.8" cy="163.1" r="8.7"/>
<circle cx="878.0" cy="350.8" r="8.7"/>
<circle cx="1188.0" cy="301.3" r="8.7"/>
<circle cx="1213.5" cy="280.6" r="8.7"/>
<circle cx="1160.5" cy="315.6" r="8.7"/>
<circle cx="924.4" cy="423.3" r="8.7"/>
<circle cx="955.9" cy="424.9" r="8.7"/>
<circle cx="1278.8" cy="359.5" r="8.7"/>
<circle cx="1096.8" cy="460.1" r="8.7"/>
<circle cx="1100.9" cy="390.1" r="8.7"/>
<circle cx="1278.9" cy="150.5" r="8.7"/>
<circle cx="1222.7" cy="268.0" r="8.7"/>
<circle cx="820.9" cy="460.7" r="8.7"/>
<circle cx="1171.6" cy="454.7" r="8.7"/>
<circle cx="875.4" cy="460.9" r="8.7"/>
<circle cx="1121.5" cy="376.5" r="8.7"/>
<circle cx="878.4" cy="447.1" r="8.7"/>
<circle cx="1278.4" cy="362.1" r="8.7"/>
<circle cx="994.1" cy="394.3" r="8.7"/>
<circle cx="1277.7" cy="304.5" r="8.7"/>
<circle cx="1194.8" cy="452.0" r="8.7"/>
<circle cx="824.6" cy="456.4" r="8.7"/>
<circle cx="1136.8" cy="458.2" r="8.7"/>
<circle cx="1014.7" cy="414.2" r="8.7"/>
<circle cx="1201.1" cy="450.2" r="8.7"/>
<circle cx="816.5" cy="462.9" r="8.7"/>
<circle cx="1005.6" cy="416.3" r="8.7"/>
<circle cx="1090.9" cy="381.1" r="8.7"/>
<circle cx="938.5" cy="416.5" r="8.7"/>
<circle cx="1205.4" cy="285.0" r="8.7"/>
<circle cx="1209.8" cy="449.6" r="8.7"/>
<circle cx="1072.1" cy="341.1" r="8.7"/>
<circle cx="1267.0" cy="398.0" r="8.7"/>
<circle cx="1015.1" cy="461.7" r="8.7"/>
<circle cx="890.5" cy="436.2" r="8.7"/>
<circle cx="1140.5" cy="366.0" r="8.7"/>
<circle cx="942.3" cy="392.0" r="8.7"/>
<circle cx="1278.6" cy="343.8" r="8.7"/>
<circle cx="1103.4" cy="348.9" r="8.7"/>
<circle cx="1181.7" cy="312.3" r="8.7"/>
<circle cx="1265.0" cy="409.0" r="8.7"/>
<circle cx="1178.4" cy="325.7" r="8.7"/>
<circle cx="1258.1" cy="206.6" r="8.7"/>
<circle cx="1278.9" cy="271.6" r="8.7"/>
<circle cx="1246.4" cy="237.2" r="8.7"/>
<circle cx="1248.9" cy="422.1" r="8.7"/>
<circle cx="1099.6" cy="363.5" r="8.7"/>
<circle cx="857.0" cy="449.3" r="8.7"/>
<circle cx="1262.1" cy="409.0" r="8.7"/>
<circle cx="1051.5" cy="410.2" r="8.7"/>
<circle cx="1278.2" cy="255.8" r="8.7"/>
<circle cx="1278.6" cy="230.1" r="8.7"/>
<circle cx="955.7" cy="460.2" r="8.7"/>
<circle cx="876.7" cy="447.3" r="8.7"/>
<circle cx="841.4" cy="453.8" r="8.7"/>
<circle cx="795.8" cy="461.8" r="8.7"/>
<circle cx="817.0" cy="437.3" r="8.7"/>
<circle cx="1278.7" cy="335.6" r="8.7"/>
<circle cx="1150.6" cy="330.6" r="8.7"/>
<circle cx="1278.3" cy="325.1" r="8.7"/>
<circle cx="1278.0" cy="290.2" r="8.7"/>
<circle cx="930.0" cy="431.3" r="8.7"/>
<circle cx="1254.7" cy="341.8" r="8.7"/>
<circle cx="881.6" cy="437.5" r="8.7"/>
<circle cx="1127.9" cy="460.6" r="8.7"/>
<circle cx="1209.3" cy="446.6" r="8.7"/>
<circle cx="882.8" cy="463.0" r="8.7"/>
<circle cx="1279.0" cy="219.4" r="8.7"/>
<circle cx="1266.9" cy="401.9" r="8.7"/>
<circle cx="961.6" cy="462.5" r="8.7"/>
<circle cx="1223.6" cy="268.7" r="8.7"/>
<circle cx="1272.7" cy="157.9" r="8.7"/>
<circle cx="1278.5" cy="270.9" r="8.7"/>
<circle cx="1103.0" cy="461.8" r="8.7"/>
<circle cx="994.6" cy="419.4" r="8.7"/>
<circle cx="1270.5" cy="381.3" r="8.7"/>
<circle cx="1276.5" cy="244.2" r="8.7"/>
<circle cx="855.2" cy="432.2" r="8.7"/>
<circle cx="900.2" cy="462.1" r="8.7"/>
<circle cx="1266.9" cy="181.0" r="8.7"/>
<circle cx="1018.0" cy="415.2" r="8.7"/>
<circle cx="1178.2" cy="315.9" r="8.7"/>
<circle cx="1278.2" cy="222.2" r="8.7"/>
<circle cx="856.2" cy="458.2" r="8.7"/>
<circle cx="1278.1" cy="160.3" r="8.7"/>
<circle cx="898.1" cy="461.1" r="8.7"/>
<circle cx="968.1" cy="394.4" r="8.7"/>
<circle cx="1115.8" cy="383.8" r="8.7"/>
<circle cx="1125.2" cy="457.6" r="8.7"/>
<circle cx="853.6" cy="389.2" r="8.7"/>
<circle cx="1033.0" cy="388.7" r="8.7"/>
<circle cx="941.8" cy="432.1" r="8.7"/>
<circle cx="1048.6" cy="393.9" r="8.7"/>
<circle cx="1158.3" cy="349.3" r="8.7"/>
<circle cx="1252.6" cy="216.9" r="8.7"/>
<circle cx="1236.0" cy="436.2" r="8.7"/>
<circle cx="1278.6" cy="135.3" r="8.7"/>
<circle cx="1274.4" cy="165.8" r="8.7"/>
<circle cx="1200.1" cy="450.6" r="8.7"/>
<circle cx="1193.1" cy="448.9" r="8.7"/>
<circle cx="791.3" cy="411.1" r="8.7"/>
<circle cx="894.5" cy="444.4" r="8.7"/>
<circle cx="1127.7" cy="350.0" r="8.7"/>
<circle cx="1056.2" cy="378.7" r="8.7"/>
<circle cx="1278.6" cy="148.0" r="8.7"/>
<circle cx="1246.3" cy="428.9" r="8.7"/>
<circle cx="1065.7" cy="391.5" r="8.7"/>
<circle cx="1151.9" cy="341.5" r="8.7"/>
<circle cx="1278.8" cy="315.9" r="8.7"/>
<circle cx="858.8" cy="459.0" r="8.7"/>
<circle cx="897.7" cy="424.6" r="8.7"/>
<circle cx="1269.3" cy="179.6" r="8.7"/>
<circle cx="1241.0" cy="433.8" r="8.7"/>
<circle cx="1144.1" cy="457.9" r="8.7"/>
<circle cx="1097.6" cy="362.2" r="8.7"/>
<circle cx="985.7" cy="398.1" r="8.7"/>
<circle cx="1162.1" cy="455.9" r="8.7"/>
<circle cx="1278.6" cy="177.3" r="8.7"/>
<circle cx="999.6" cy="396.8" r="8.7"/>
<circle cx="1278.9" cy="336.9" r="8.7"/>
<circle cx="1142.0" cy="325.5" r="8.7"/>
<circle cx="1199.3" cy="450.6" r="8.7"/>
<circle cx="1139.0" cy="367.1" r="8.7"/>
<circle cx="1205.9" cy="448.1" r="8.7"/>
<circle cx="1278.5" cy="231.3" r="8.7"/>
<circle cx="900.5" cy="460.5" r="8.7"/>
<circle cx="813.3" cy="460.4" r="8.7"/>
<circle cx="881.1" cy="447.1" r="8.7"/>
<circle cx="1035.2" cy="460.5" r="8.7"/>
<circle cx="1218.2" cy="262.3" r="8.7"/>
<circle cx="890.8" cy="347.2" r="8.7"/>
<circle cx="1073.7" cy="459.2" r="8.7"/>
<circle cx="994.6" cy="414.3" r="8.7"/>
<circle cx="1171.4" cy="330.3" r="8.7"/>
<circle cx="889.4" cy="461.9" r="8.7"/>
<circle cx="929.2" cy="431.1" r="8.7"/>
<circle cx="1278.5" cy="251.5" r="8.7"/>
<circle cx="878.5" cy="414.7" r="8.7"/>
<circle cx="1221.3" cy="440.2" r="8.7"/>
<circle cx="1026.4" cy="457.2" r="8.7"/>
<circle cx="1184.7" cy="312.3" r="8.7"/>
<circle cx="1203.5" cy="266.3" r="8.7"/>
<circle cx="945.0" cy="427.2" r="8.7"/>
<circle cx="956.9" cy="381.4" r="8.7"/>
<circle cx="1127.6" cy="376.9" r="8.7"/>
<circle cx="1254.6" cy="226.2" r="8.7"/>
<circle cx="1079.4" cy="461.6" r="8.7"/>
<circle cx="947.2" cy="460.9" r="8.7"/>
<circle cx="1256.5" cy="214.0" r="8.7"/>
<circle cx="797.6" cy="458.5" r="8.7"/>
<circle cx="1255.8" cy="221.4" r="8.7"/>
<circle cx="1166.0" cy="323.1" r="8.7"/>
<circle cx="1278.7" cy="248.9" r="8.7"/>
<circle cx="1196.1" cy="293.9" r="8.7"/>
<circle cx="1278.6" cy="353.8" r="8.7"/>
<circle cx="964.4" cy="415.0" r="8.7"/>
<circle cx="988.8" cy="422.7" r="8.7"/>
<circle cx="826.4" cy="446.8" r="8.7"/>
<circle cx="1276.1" cy="150.1" r="8.7"/>
<circle cx="1162.4" cy="325.5" r="8.7"/>
<circle cx="1278.6" cy="351.8" r="8.7"/>
<circle cx="1128.6" cy="375.8" r="8.7"/>
<circle cx="1200.9" cy="375.5" r="8.7"/>
<circle cx="1261.1" cy="406.1" r="8.7"/>
<circle cx="1175.7" cy="453.5" r="8.7"/>
<circle cx="864.1" cy="444.4" r="8.7"/>
<circle cx="1264.9" cy="198.9" r="8.7"/>
<circle cx="1080.2" cy="402.0" r="8.7"/>
<circle cx="1058.9" cy="370.5" r="8.7"/>
<circle cx="894.4" cy="352.1" r="8.7"/>
<circle cx="862.1" cy="440.9" r="8.7"/>
<circle cx="1243.6" cy="246.6" r="8.7"/>
<circle cx="985.5" cy="424.1" r="8.7"/>
<circle cx="1105.4" cy="461.8" r="8.7"/>
<circle cx="1220.6" cy="444.7" r="8.7"/>
<circle cx="1070.5" cy="461.8" r="8.7"/>
<circle cx="1278.4" cy="366.0" r="8.7"/>
<circle cx="1027.5" cy="457.4" r="8.7"/>
<circle cx="1257.3" cy="209.5" r="8.7"/>
<circle cx="1278.0" cy="166.0" r="8.7"/>
<circle cx="1278.5" cy="201.5" r="8.7"/>
<circle cx="1102.3" cy="360.9" r="8.7"/>
<circle cx="1264.1" cy="407.6" r="8.7"/>
<circle cx="1022.6" cy="462.5" r="8.7"/>
<circle cx="1166.0" cy="455.7" r="8.7"/>
<circle cx="1217.2" cy="278.5" r="8.7"/>
<circle cx="1278.5" cy="278.6" r="8.7"/>
<circle cx="1204.9" cy="284.9" r="8.7"/>
<circle cx="1089.7" cy="400.5" r="8.7"/>
<circle cx="1274.1" cy="369.0" r="8.7"/>
<circle cx="1200.7" cy="262.0" r="8.7"/>
<circle cx="1278.8" cy="234.3" r="8.7"/>
<circle cx="824.6" cy="462.1" r="8.7"/>
<circle cx="1230.9" cy="439.9" r="8.7"/>
<circle cx="1131.4" cy="461.5" r="8.7"/>
<circle cx="1245.4" cy="424.6" r="8.7"/>
<circle cx="1076.1" cy="400.2" r="8.7"/>
<circle cx="804.1" cy="400.5" r="8.7"/>
<circle cx="1084.4" cy="398.4" r="8.7"/>
<circle cx="1061.5" cy="356.8" r="8.7"/>
<circle cx="1092.5" cy="401.1" r="8.7"/>
<circle cx="882.8" cy="358.8" r="8.7"/>
<circle cx="1264.9" cy="398.6" r="8.7"/>
<circle cx="819.9" cy="372.1" r="8.7"/>
<circle cx="1157.9" cy="332.5" r="8.7"/>
<circle cx="1059.8" cy="402.4" r="8.7"/>
<circle cx="1279.1" cy="135.2" r="8.7"/>
<circle cx="838.6" cy="460.0" r="8.7"/>
<circle cx="847.2" cy="445.8" r="8.7"/>
<circle cx="1139.6" cy="459.0" r="8.7"/>
<circle cx="1007.5" cy="461.8" r="8.7"/>
<circle cx="966.5" cy="341.7" r="8.7"/>
<circle cx="963.6" cy="461.3" r="8.7"/>
<circle cx="1279.2" cy="156.4" r="8.7"/>
<circle cx="845.3" cy="462.8" r="8.7"/>
<circle cx="1255.9" cy="410.6" r="8.7"/>
<circle cx="1021.6" cy="462.4" r="8.7"/>
<circle cx="902.4" cy="461.9" r="8.7"/>
<circle cx="1019.3" cy="415.5" r="8.7"/>
<circle cx="1278.7" cy="345.9" r="8.7"/>
<circle cx="1278.8" cy="219.8" r="8.7"/>
<circle cx="1278.5" cy="316.0" r="8.7"/>
<circle cx="1101.8" cy="388.9" r="8.7"/>
<circle cx="815.7" cy="459.3" r="8.7"/>
<circle cx="939.4" cy="462.5" r="8.7"/>
<circle cx="1005.1" cy="460.9" r="8.7"/>
<circle cx="856.1" cy="408.5" r="8.7"/>
<circle cx="863.4" cy="462.5" r="8.7"/>
<circle cx="871.1" cy="372.4" r="8.7"/>
<circle cx="1278.2" cy="193.5" r="8.7"/>
<circle cx="1051.1" cy="354.4" r="8.7"/>
<circle cx="1258.9" cy="416.2" r="8.7"/>
<circle cx="914.3" cy="461.8" r="8.7"/>
<circle cx="1261.8" cy="414.7" r="8.7"/>
<circle cx="1208.2" cy="279.1" r="8.7"/>
<circle cx="1211.0" cy="277.6" r="8.7"/>
<circle cx="825.7" cy="452.5" r="8.7"/>
<circle cx="816.0" cy="461.7" r="8.7"/>
<circle cx="1278.8" cy="211.4" r="8.7"/>
<circle cx="907.9" cy="418.2" r="8.7"/>
<circle cx="1277.7" cy="241.2" r="8.7"/>
<circle cx="1026.3" cy="393.1" r="8.7"/>
<circle cx="848.9" cy="156.8" r="8.7"/>
<circle cx="855.2" cy="214.6" r="8.7"/>
<circle cx="857.7" cy="252.1" r="8.7"/>
<circle cx="806.6" cy="230.0" r="8.7"/>
<circle cx="807.4" cy="241.4" r="8.7"/>
<circle cx="956.3" cy="250.6" r="8.7"/>
<circle cx="931.7" cy="266.8" r="8.7"/>
<circle cx="919.3" cy="279.6" r="8.7"/>
<circle cx="917.9" cy="279.0" r="8.7"/>
<circle cx="905.9" cy="278.2" r="8.7"/>
<circle cx="899.3" cy="290.0" r="8.7"/>
<circle cx="890.1" cy="302.1" r="8.7"/>
<circle cx="842.3" cy="286.3" r="8.7"/>
<circle cx="864.4" cy="294.8" r="8.7"/>
<circle cx="855.2" cy="302.1" r="8.7"/>
<circle cx="843.4" cy="315.0" r="8.7"/>
<circle cx="941.6" cy="323.1" r="8.7"/>
<circle cx="928.7" cy="334.1" r="8.7"/>
<circle cx="923.2" cy="337.8" r="8.7"/>
<circle cx="898.6" cy="340.0" r="8.7"/>
<circle cx="958.1" cy="328.6" r="8.7"/>
<circle cx="960.0" cy="302.9" r="8.7"/>
<circle cx="1076.8" cy="175.2" r="8.7"/>
<circle cx="973.8" cy="210.5" r="8.7"/>
<circle cx="1055.1" cy="223.0" r="8.7"/>
<circle cx="1071.3" cy="230.0" r="8.7"/>
<circle cx="1103.9" cy="217.5" r="8.7"/>
<circle cx="984.1" cy="240.3" r="8.7"/>
<circle cx="1022.7" cy="258.7" r="8.7"/>
<circle cx="1022.9" cy="259.5" r="8.7"/>
<circle cx="1039.3" cy="266.8" r="8.7"/>
<circle cx="1091.5" cy="250.6" r="8.7"/>
<circle cx="1059.5" cy="272.7" r="8.7"/>
<circle cx="1077.9" cy="269.8" r="8.7"/>
<circle cx="1090.8" cy="266.8" r="8.7"/>
<circle cx="998.8" cy="277.1" r="8.7"/>
<circle cx="991.5" cy="284.5" r="8.7"/>
<circle cx="1004.4" cy="285.2" r="8.7"/>
<circle cx="1022.7" cy="284.5" r="8.7"/>
<circle cx="1042.2" cy="286.3" r="8.7"/>
<circle cx="1037.5" cy="298.4" r="8.7"/>
<circle cx="1011.7" cy="302.1" r="8.7"/>
<circle cx="1015.4" cy="313.9" r="8.7"/>
<circle cx="967.6" cy="297.3" r="8.7"/>
<circle cx="967.6" cy="306.5" r="8.7"/>
<circle cx="987.8" cy="309.1" r="8.7"/>
<circle cx="1087.1" cy="280.8" r="8.7"/>
<circle cx="1094.5" cy="275.3" r="8.7"/>
<circle cx="1081.6" cy="290.0" r="8.7"/>
<circle cx="1096.3" cy="291.8" r="8.7"/>
<circle cx="1083.4" cy="302.9" r="8.7"/>
<circle cx="1094.5" cy="297.3" r="8.7"/>
<circle cx="1072.4" cy="313.9" r="8.7"/>
<circle cx="1039.3" cy="323.1" r="8.7"/>
<circle cx="1057.7" cy="332.3" r="8.7"/>
<circle cx="984.1" cy="330.4" r="8.7"/>
<circle cx="1000.7" cy="330.4" r="8.7"/>
<circle cx="1022.7" cy="332.3" r="8.7"/>
<circle cx="1087.1" cy="330.4" r="8.7"/>
<circle cx="1092.6" cy="321.2" r="8.7"/>
<circle cx="963.9" cy="336.0" r="8.7"/>
<circle cx="1227.8" cy="196.2" r="8.7"/>
<circle cx="1238.1" cy="203.6" r="8.7"/>
<circle cx="1210.6" cy="231.1" r="8.7"/>
<circle cx="1150.6" cy="235.9" r="8.7"/>
<circle cx="1138.8" cy="245.9" r="8.7"/>
<circle cx="1146.2" cy="248.4" r="8.7"/>
<circle cx="1155.4" cy="256.9" r="8.7"/>
<circle cx="1118.6" cy="258.0" r="8.7"/>
<circle cx="1168.3" cy="264.2" r="8.7"/>
<circle cx="1133.3" cy="269.0" r="8.7"/>
<circle cx="1127.8" cy="275.3" r="8.7"/>
<circle cx="1140.7" cy="280.8" r="8.7"/>
<circle cx="1164.6" cy="280.8" r="8.7"/>
<circle cx="1109.4" cy="297.3" r="8.7"/>
<circle cx="1126.0" cy="301.0" r="8.7"/>
<circle cx="1151.7" cy="302.9" r="8.7"/>
<circle cx="1135.2" cy="304.7" r="8.7"/>
<circle cx="1116.8" cy="328.6" r="8.7"/>
<circle cx="1127.8" cy="321.2" r="8.7"/>
<circle cx="1194.0" cy="260.6" r="8.7"/>
<circle cx="1201.4" cy="255.0" r="8.7"/>
<circle cx="1179.3" cy="266.0" r="8.7"/>
<circle cx="1232.6" cy="234.8" r="8.7"/>
<circle cx="1223.4" cy="240.3" r="8.7"/>
<circle cx="1239.0" cy="230.4" r="8.7"/>
</g>
<g fill="none" stroke="#006400" stroke-width="5">
<path d="M797.2,450.6 L803.9,450.4 L810.5,450.2 L817.1,450.1 L823.7,449.9 L830.4,449.7 L837.0,449.5 L843.6,449.4 L850.2,449.2 L856.8,449.0 L863.5,448.8 L870.1,448.6 L876.7,448.3 L883.3,448.1 L889.9,447.9 L896.6,447.6 L903.2,447.4 L909.8,447.1 L916.4,446.9 L923.0,446.6 L929.7,446.3 L936.3,446.0 L942.9,445.7 L949.5,445.4 L956.1,445.1 L962.8,444.7 L969.4,444.4 L976.0,444.0 L982.6,443.6 L989.2,443.2 L995.9,442.8 L1002.5,442.4 L1009.1,441.9 L1015.7,441.4 L1022.3,440.9 L1029.0,440.4 L1035.6,439.9 L1042.2,439.3 L1048.8,438.6 L1055.4,437.9 L1062.1,437.2 L1068.7,436.4 L1075.3,435.6 L1081.9,434.7 L1088.6,433.8 L1095.2,432.8 L1101.8,431.7 L1108.4,430.6 L1115.0,429.3 L1121.7,428.0 L1128.3,426.5 L1134.9,424.9 L1141.5,423.2 L1148.1,421.3 L1154.8,419.2 L1161.4,416.9 L1168.0,414.3 L1174.6,411.4 L1181.2,408.2 L1187.9,404.9 L1188.5,404.6 L1189.2,404.3 L1189.8,404.0 L1190.5,403.7 L1191.1,403.4 L1191.8,403.0 L1192.4,402.7 L1193.1,402.4 L1193.7,402.1 L1194.4,401.7 L1195.0,401.4 L1195.7,401.1 L1196.4,400.7 L1197.0,400.4 L1197.7,400.0 L1198.3,399.7 L1199.0,399.3 L1199.6,399.0 L1200.3,398.6 L1200.9,398.2 L1201.6,397.9 L1202.2,397.5 L1202.9,397.1 L1203.5,396.7 L1204.2,396.3 L1204.9,395.9 L1205.5,395.5 L1206.2,395.1 L1206.8,394.7 L1207.5,394.3 L1208.1,393.9 L1208.8,393.5 L1209.4,393.0 L1210.1,392.6 L1210.7,392.2 L1211.4,391.7 L1212.0,391.3 L1212.7,390.8 L1213.3,390.3 L1214.0,389.9 L1214.7,389.4 L1215.3,388.9 L1216.0,388.4 L1216.6,387.9 L1217.3,387.4 L1217.9,386.9 L1218.6,386.4 L1219.2,385.9 L1219.9,385.3 L1220.5,384.8 L1221.2,384.3 L1221.8,383.7 L1222.5,383.1 L1223.2,382.6 L1223.8,382.0 L1224.5,381.4 L1225.1,380.8 L1225.8,380.2 L1226.4,379.6 L1227.1,379.0 L1227.7,378.3 L1228.4,377.7 L1229.0,377.1 L1229.7,376.4 L1230.3,375.7 L1231.0,375.0 L1231.6,374.4 L1232.3,373.6 L1233.0,372.9 L1233.6,372.2 L1234.3,371.5 L1234.9,370.7 L1235.6,370.0 L1236.2,369.2 L1236.9,368.4 L1237.5,367.6 L1238.2,366.8 L1238.8,366.0 L1239.5,365.1 L1240.1,364.3 L1240.8,363.4 L1241.4,362.5 L1242.1,361.6 L1242.8,360.7 L1243.4,359.7 L1244.1,358.8 L1244.7,357.8 L1245.4,356.8 L1246.0,355.8 L1246.7,354.8 L1247.3,353.7 L1248.0,352.6 L1248.6,351.5 L1249.3,350.4 L1249.9,349.3 L1250.6,348.1 L1251.3,346.9 L1251.9,345.7 L1252.6,344.5 L1253.2,343.2 L1253.9,342.0 L1254.5,340.6 L1255.2,339.3 L1255.8,337.9 L1256.5,336.5 L1257.1,335.1 L1257.8,333.6 L1258.4,332.1 L1259.1,330.5 L1259.7,329.0 L1260.4,327.3 L1261.1,325.7 L1261.7,324.0 L1262.4,322.2 L1263.0,320.5 L1263.7,318.6 L1264.3,316.8 L1265.0,314.8 L1265.6,312.8 L1266.3,310.8 L1266.9,308.7 L1267.6,306.6 L1268.2,304.4 L1268.9,302.1 L1269.6,299.7 L1270.2,297.3 L1270.9,294.9 L1271.5,292.3 L1272.2,289.7 L1272.8,286.9 L1273.5,284.1 L1274.1,281.2 L1274.8,278.3 L1275.4,275.2 L1276.1,272.0 L1276.7,268.7 L1277.4,265.2 L1278.0,261.7 L1278.7,258.0"/>
<path d="M797.2,450.9 L803.9,450.8 L810.5,450.6 L817.1,450.5 L823.7,450.3 L830.4,450.1 L837.0,450.0 L843.6,449.8 L850.2,449.6 L856.8,449.4 L863.5,449.2 L870.1,449.0 L876.7,448.8 L883.3,448.6 L889.9,448.4 L896.6,448.2 L903.2,448.0 L909.8,447.7 L916.4,447.5 L923.0,447.2 L929.7,447.0 L936.3,446.7 L942.9,446.4 L949.5,446.1 L956.1,445.9 L962.8,445.5 L969.4,445.2 L976.0,444.9 L982.6,444.5 L989.2,444.2 L995.9,443.8 L1002.5,443.4 L1009.1,443.0 L1015.7,442.6 L1022.3,442.1 L1029.0,441.7 L1035.6,441.2 L1042.2,440.7 L1048.8,440.1 L1055.4,439.4 L1062.1,438.8 L1068.7,438.0 L1075.3,437.3 L1081.9,436.5 L1088.6,435.6 L1095.2,434.7 L1101.8,433.7 L1108.4,432.6 L1115.0,431.5 L1121.7,430.3 L1128.3,428.9 L1134.9,427.5 L1141.5,425.9 L1148.1,424.2 L1154.8,422.3 L1161.4,420.2 L1168.0,417.9 L1174.6,415.3 L1181.2,412.4 L1187.9,409.3 L1188.5,409.1 L1189.2,408.8 L1189.8,408.5 L1190.5,408.2 L1191.1,407.9 L1191.8,407.5 L1192.4,407.2 L1193.1,406.9 L1193.7,406.6 L1194.4,406.3 L1195.0,406.0 L1195.7,405.6 L1196.4,405.3 L1197.0,405.0 L1197.7,404.6 L1198.3,404.3 L1199.0,403.9 L1199.6,403.6 L1200.3,403.2 L1200.9,402.9 L1201.6,402.5 L1202.2,402.1 L1202.9,401.7 L1203.5,401.4 L1204.2,401.0 L1204.9,400.6 L1205.5,400.2 L1206.2,399.8 L1206.8,399.4 L1207.5,399.0 L1208.1,398.6 L1208.8,398.1 L1209.4,397.7 L1210.1,397.3 L1210.7,396.9 L1211.4,396.4 L1212.0,396.0 L1212.7,395.5 L1213.3,395.0 L1214.0,394.6 L1214.7,394.1 L1215.3,393.6 L1216.0,393.1 L1216.6,392.6 L1217.3,392.1 L1217.9,391.6 L1218.6,391.1 L1219.2,390.6 L1219.9,390.0 L1220.5,389.5 L1221.2,389.0 L1221.8,388.4 L1222.5,387.8 L1223.2,387.3 L1223.8,386.7 L1224.5,386.1 L1225.1,385.5 L1225.8,384.9 L1226.4,384.3 L1227.1,383.6 L1227.7,383.0 L1228.4,382.3 L1229.0,381.7 L1229.7,381.0 L1230.3,380.3 L1231.0,379.6 L1231.6,378.9 L1232.3,378.2 L1233.0,377.5 L1233.6,376.7 L1234.3,376.0 L1234.9,375.2 L1235.6,374.4 L1236.2,373.6 L1236.9,372.8 L1237.5,372.0 L1238.2,371.1 L1238.8,370.2 L1239.5,369.4 L1240.1,368.5 L1240.8,367.6 L1241.4,366.6 L1242.1,365.7 L1242.8,364.7 L1243.4,363.7 L1244.1,362.7 L1244.7,361.7 L1245.4,360.7 L1246.0,359.6 L1246.7,358.5 L1247.3,357.4 L1248.0,356.2 L1248.6,355.1 L1249.3,353.9 L1249.9,352.7 L1250.6,351.4 L1251.3,350.1 L1251.9,348.8 L1252.6,347.5 L1253.2,346.1 L1253.9,344.7 L1254.5,343.3 L1255.2,341.8 L1255.8,340.3 L1256.5,338.8 L1257.1,337.2 L1257.8,335.6 L1258.4,333.9 L1259.1,332.2 L1259.7,330.4 L1260.4,328.6 L1261.1,326.8 L1261.7,324.9 L1262.4,322.9 L1263.0,320.9 L1263.7,318.8 L1264.3,316.7 L1265.0,314.5 L1265.6,312.2 L1266.3,309.9 L1266.9,307.5 L1267.6,305.0 L1268.2,302.4 L1268.9,299.7 L1269.6,297.0 L1270.2,294.1 L1270.9,291.2 L1271.5,288.2 L1272.2,285.0 L1272.8,281.7 L1273.5,278.3 L1274.1,274.8 L1274.8,271.1 L1275.4,267.3 L1276.1,263.4 L1276.7,259.2 L1277.4,254.9 L1278.0,250.4 L1278.7,245.7"/>
<path d="M797.2,451.3 L803.9,451.1 L810.5,451.0 L817.1,450.8 L823.7,450.7 L830.4,450.5 L837.0,450.4 L843.6,450.2 L850.2,450.0 L856.8,449.9 L863.5,449.7 L870.1,449.5 L876.7,449.3 L883.3,449.1 L889.9,448.9 L896.6,448.7 L903.2,448.5 L909.8,448.3 L916.4,448.1 L923.0,447.8 L929.7,447.6 L936.3,447.4 L942.9,447.1 L949.5,446.8 L956.1,446.6 L962.8,446.3 L969.4,446.0 L976.0,445.7 L982.6,445.4 L989.2,445.1 L995.9,444.7 L1002.5,444.4 L1009.1,444.0 L1015.7,443.6 L1022.3,443.2 L1029.0,442.8 L1035.6,442.4 L1042.2,441.9 L1048.8,441.4 L1055.4,440.8 L1062.1,440.1 L1068.7,439.5 L1075.3,438.8 L1081.9,438.0 L1088.6,437.2 L1095.2,436.4 L1101.8,435.5 L1108.4,434.5 L1115.0,433.4 L1121.7,432.3 L1128.3,431.1 L1134.9,429.8 L1141.5,428.3 L1148.1,426.7 L1154.8,425.0 L1161.4,423.1 L1168.0,421.0 L1174.6,418.7 L1181.2,416.0 L1187.9,413.2 L1188.5,412.9 L1189.2,412.7 L1189.8,412.4 L1190.5,412.1 L1191.1,411.8 L1191.8,411.5 L1192.4,411.2 L1193.1,410.9 L1193.7,410.6 L1194.4,410.3 L1195.0,410.0 L1195.7,409.6 L1196.4,409.3 L1197.0,409.0 L1197.7,408.7 L1198.3,408.3 L1199.0,408.0 L1199.6,407.6 L1200.3,407.3 L1200.9,406.9 L1201.6,406.6 L1202.2,406.2 L1202.9,405.9 L1203.5,405.5 L1204.2,405.1 L1204.9,404.7 L1205.5,404.4 L1206.2,404.0 L1206.8,403.6 L1207.5,403.2 L1208.1,402.8 L1208.8,402.3 L1209.4,401.9 L1210.1,401.5 L1210.7,401.1 L1211.4,400.6 L1212.0,400.2 L1212.7,399.7 L1213.3,399.3 L1214.0,398.8 L1214.7,398.4 L1215.3,397.9 L1216.0,397.4 L1216.6,396.9 L1217.3,396.4 L1217.9,395.9 L1218.6,395.4 L1219.2,394.9 L1219.9,394.4 L1220.5,393.8 L1221.2,393.3 L1221.8,392.7 L1222.5,392.2 L1223.2,391.6 L1223.8,391.0 L1224.5,390.4 L1225.1,389.8 L1225.8,389.2 L1226.4,388.6 L1227.1,387.9 L1227.7,387.3 L1228.4,386.7 L1229.0,386.0 L1229.7,385.3 L1230.3,384.6 L1231.0,383.9 L1231.6,383.2 L1232.3,382.5 L1233.0,381.7 L1233.6,381.0 L1234.3,380.2 L1234.9,379.4 L1235.6,378.6 L1236.2,377.8 L1236.9,377.0 L1237.5,376.1 L1238.2,375.3 L1238.8,374.4 L1239.5,373.5 L1240.1,372.6 L1240.8,371.7 L1241.4,370.7 L1242.1,369.7 L1242.8,368.7 L1243.4,367.7 L1244.1,366.7 L1244.7,365.6 L1245.4,364.5 L1246.0,363.4 L1246.7,362.3 L1247.3,361.1 L1248.0,359.9 L1248.6,358.7 L1249.3,357.4 L1249.9,356.2 L1250.6,354.8 L1251.3,353.5 L1251.9,352.1 L1252.6,350.7 L1253.2,349.3 L1253.9,347.8 L1254.5,346.2 L1255.2,344.7 L1255.8,343.1 L1256.5,341.4 L1257.1,339.7 L1257.8,338.0 L1258.4,336.2 L1259.1,334.3 L1259.7,332.4 L1260.4,330.4 L1261.1,328.4 L1261.7,326.3 L1262.4,324.1 L1263.0,321.9 L1263.7,319.6 L1264.3,317.2 L1265.0,314.8 L1265.6,312.2 L1266.3,309.6 L1266.9,306.9 L1267.6,304.1 L1268.2,301.1 L1268.9,298.1 L1269.6,295.0 L1270.2,291.7 L1270.9,288.3 L1271.5,284.7 L1272.2,281.0 L1272.8,277.2 L1273.5,273.2 L1274.1,269.0 L1274.8,264.6 L1275.4,260.0 L1276.1,255.2 L1276.7,250.2 L1277.4,244.9 L1278.0,239.3 L1278.7,233.5"/>
<path d="M797.2,451.7 L803.9,451.5 L810.5,451.4 L817.1,451.3 L823.7,451.1 L830.4,451.0 L837.0,450.8 L843.6,450.7 L850.2,450.5 L856.8,450.4 L863.5,450.2 L870.1,450.1 L876.7,449.9 L883.3,449.7 L889.9,449.5 L896.6,449.3 L903.2,449.2 L909.8,449.0 L916.4,448.8 L923.0,448.6 L929.7,448.3 L936.3,448.1 L942.9,447.9 L949.5,447.7 L956.1,447.4 L962.8,447.2 L969.4,446.9 L976.0,446.6 L982.6,446.4 L989.2,446.1 L995.9,445.8 L1002.5,445.5 L1009.1,445.2 L1015.7,444.8 L1022.3,444.5 L1029.0,444.1 L1035.6,443.8 L1042.2,443.3 L1048.8,442.8 L1055.4,442.3 L1062.1,441.7 L1068.7,441.1 L1075.3,440.5 L1081.9,439.8 L1088.6,439.1 L1095.2,438.3 L1101.8,437.5 L1108.4,436.6 L1115.0,435.7 L1121.7,434.7 L1128.3,433.6 L1134.9,432.5 L1141.5,431.2 L1148.1,429.8 L1154.8,428.3 L1161.4,426.7 L1168.0,424.9 L1174.6,422.8 L1181.2,420.6 L1187.9,418.2 L1188.5,417.9 L1189.2,417.7 L1189.8,417.4 L1190.5,417.1 L1191.1,416.9 L1191.8,416.6 L1192.4,416.3 L1193.1,416.1 L1193.7,415.8 L1194.4,415.5 L1195.0,415.2 L1195.7,414.9 L1196.4,414.7 L1197.0,414.4 L1197.7,414.1 L1198.3,413.8 L1199.0,413.5 L1199.6,413.1 L1200.3,412.8 L1200.9,412.5 L1201.6,412.2 L1202.2,411.9 L1202.9,411.5 L1203.5,411.2 L1204.2,410.9 L1204.9,410.5 L1205.5,410.2 L1206.2,409.8 L1206.8,409.5 L1207.5,409.1 L1208.1,408.8 L1208.8,408.4 L1209.4,408.0 L1210.1,407.6 L1210.7,407.3 L1211.4,406.9 L1212.0,406.5 L1212.7,406.1 L1213.3,405.7 L1214.0,405.2 L1214.7,404.8 L1215.3,404.4 L1216.0,404.0 L1216.6,403.5 L1217.3,403.1 L1217.9,402.6 L1218.6,402.2 L1219.2,401.7 L1219.9,401.2 L1220.5,400.7 L1221.2,400.3 L1221.8,399.8 L1222.5,399.3 L1223.2,398.7 L1223.8,398.2 L1224.5,397.7 L1225.1,397.2 L1225.8,396.6 L1226.4,396.0 L1227.1,395.5 L1227.7,394.9 L1228.4,394.3 L1229.0,393.7 L1229.7,393.1 L1230.3,392.5 L1231.0,391.9 L1231.6,391.2 L1232.3,390.6 L1233.0,389.9 L1233.6,389.2 L1234.3,388.6 L1234.9,387.9 L1235.6,387.1 L1236.2,386.4 L1236.9,385.7 L1237.5,384.9 L1238.2,384.1 L1238.8,383.3 L1239.5,382.5 L1240.1,381.7 L1240.8,380.9 L1241.4,380.0 L1242.1,379.2 L1242.8,378.3 L1243.4,377.4 L1244.1,376.4 L1244.7,375.5 L1245.4,374.5 L1246.0,373.5 L1246.7,372.5 L1247.3,371.4 L1248.0,370.4 L1248.6,369.3 L1249.3,368.2 L1249.9,367.0 L1250.6,365.9 L1251.3,364.7 L1251.9,363.4 L1252.6,362.2 L1253.2,360.9 L1253.9,359.5 L1254.5,358.2 L1255.2,356.8 L1255.8,355.3 L1256.5,353.9 L1257.1,352.3 L1257.8,350.8 L1258.4,349.2 L1259.1,347.5 L1259.7,345.8 L1260.4,344.1 L1261.1,342.3 L1261.7,340.4 L1262.4,338.5 L1263.0,336.5 L1263.7,334.4 L1264.3,332.3 L1265.0,330.1 L1265.6,327.9 L1266.3,325.5 L1266.9,323.1 L1267.6,320.6 L1268.2,318.0 L1268.9,315.3 L1269.6,312.5 L1270.2,309.6 L1270.9,306.6 L1271.5,303.4 L1272.2,300.1 L1272.8,296.7 L1273.5,293.1 L1274.1,289.4 L1274.8,285.5 L1275.4,281.5 L1276.1,277.2 L1276.7,272.8 L1277.4,268.1 L1278.0,263.2 L1278.7,258.0"/>
<path d="M797.2,452.0 L803.9,451.8 L810.5,451.7 L817.1,451.6 L823.7,451.5 L830.4,451.3 L837.0,451.2 L843.6,451.0 L850.2,450.9 L856.8,450.8 L863.5,450.6 L870.1,450.4 L876.7,450.3 L883.3,450.1 L889.9,450.0 L896.6,449.8 L903.2,449.6 L909.8,449.4 L916.4,449.2 L923.0,449.1 L929.7,448.9 L936.3,448.7 L942.9,448.4 L949.5,448.2 L956.1,448.0 L962.8,447.8 L969.4,447.5 L976.0,447.3 L982.6,447.0 L989.2,446.8 L995.9,446.5 L1002.5,446.2 L1009.1,445.9 L1015.7,445.6 L1022.3,445.3 L1029.0,445.0 L1035.6,444.7 L1042.2,444.3 L1048.8,443.8 L1055.4,443.3 L1062.1,442.8 L1068.7,442.2 L1075.3,441.6 L1081.9,441.0 L1088.6,440.3 L1095.2,439.6 L1101.8,438.8 L1108.4,438.0 L1115.0,437.2 L1121.7,436.2 L1128.3,435.2 L1134.9,434.1 L1141.5,432.9 L1148.1,431.7 L1154.8,430.3 L1161.4,428.7 L1168.0,427.1 L1174.6,425.2 L1181.2,423.2 L1187.9,420.8 L1188.5,420.6 L1189.2,420.4 L1189.8,420.1 L1190.5,419.9 L1191.1,419.6 L1191.8,419.3 L1192.4,419.1 L1193.1,418.8 L1193.7,418.5 L1194.4,418.3 L1195.0,418.0 L1195.7,417.7 L1196.4,417.4 L1197.0,417.2 L1197.7,416.9 L1198.3,416.6 L1199.0,416.3 L1199.6,416.0 L1200.3,415.7 L1200.9,415.4 L1201.6,415.0 L1202.2,414.7 L1202.9,414.4 L1203.5,414.1 L1204.2,413.8 L1204.9,413.4 L1205.5,413.1 L1206.2,412.7 L1206.8,412.4 L1207.5,412.0 L1208.1,411.7 L1208.8,411.3 L1209.4,410.9 L1210.1,410.6 L1210.7,410.2 L1211.4,409.8 L1212.0,409.4 L1212.7,409.0 L1213.3,408.6 L1214.0,408.2 L1214.7,407.8 L1215.3,407.4 L1216.0,406.9 L1216.6,406.5 L1217.3,406.1 L1217.9,405.6 L1218.6,405.2 L1219.2,404.7 L1219.9,404.2 L1220.5,403.8 L1221.2,403.3 L1221.8,402.8 L1222.5,402.3 L1223.2,401.8 L1223.8,401.2 L1224.5,400.7 L1225.1,400.2 L1225.8,399.6 L1226.4,399.1 L1227.1,398.5 L1227.7,397.9 L1228.4,397.3 L1229.0,396.7 L1229.7,396.1 L1230.3,395.5 L1231.0,394.9 L1231.6,394.2 L1232.3,393.6 L1233.0,392.9 L1233.6,392.2 L1234.3,391.5 L1234.9,390.8 L1235.6,390.1 L1236.2,389.4 L1236.9,388.6 L1237.5,387.8 L1238.2,387.1 L1238.8,386.3 L1239.5,385.4 L1240.1,384.6 L1240.8,383.7 L1241.4,382.9 L1242.1,382.0 L1242.8,381.1 L1243.4,380.1 L1244.1,379.2 L1244.7,378.2 L1245.4,377.2 L1246.0,376.2 L1246.7,375.1 L1247.3,374.0 L1248.0,372.9 L1248.6,371.8 L1249.3,370.6 L1249.9,369.4 L1250.6,368.2 L1251.3,367.0 L1251.9,365.7 L1252.6,364.3 L1253.2,363.0 L1253.9,361.6 L1254.5,360.1 L1255.2,358.7 L1255.8,357.1 L1256.5,355.6 L1257.1,353.9 L1257.8,352.3 L1258.4,350.6 L1259.1,348.8 L1259.7,346.9 L1260.4,345.1 L1261.1,343.1 L1261.7,341.1 L1262.4,339.0 L1263.0,336.8 L1263.7,334.6 L1264.3,332.3 L1265.0,329.9 L1265.6,327.4 L1266.3,324.8 L1266.9,322.1 L1267.6,319.3 L1268.2,316.4 L1268.9,313.3 L1269.6,310.1 L1270.2,306.8 L1270.9,303.4 L1271.5,299.8 L1272.2,296.0 L1272.8,292.1 L1273.5,287.9 L1274.1,283.6 L1274.8,279.0 L1275.4,274.2 L1276.1,269.1 L1276.7,263.7 L1277.4,258.1 L1278.0,252.1 L1278.7,245.7"/>
<path d="M797.2,452.1 L803.9,452.0 L810.5,451.9 L817.1,451.8 L823.7,451.6 L830.4,451.5 L837.0,451.4 L843.6,451.2 L850.2,451.1 L856.8,451.0 L863.5,450.8 L870.1,450.7 L876.7,450.5 L883.3,450.4 L889.9,450.2 L896.6,450.0 L903.2,449.9 L909.8,449.7 L916.4,449.5 L923.0,449.3 L929.7,449.2 L936.3,449.0 L942.9,448.8 L949.5,448.6 L956.1,448.3 L962.8,448.1 L969.4,447.9 L976.0,447.7 L982.6,447.4 L989.2,447.2 L995.9,446.9 L1002.5,446.7 L1009.1,446.4 L1015.7,446.1 L1022.3,445.8 L1029.0,445.5 L1035.6,445.2 L1042.2,444.9 L1048.8,444.4 L1055.4,443.9 L1062.1,443.4 L1068.7,442.8 L1075.3,442.2 L1081.9,441.6 L1088.6,441.0 L1095.2,440.3 L1101.8,439.5 L1108.4,438.7 L1115.0,437.8 L1121.7,436.9 L1128.3,435.9 L1134.9,434.9 L1141.5,433.7 L1148.1,432.4 L1154.8,431.0 L1161.4,429.5 L1168.0,427.9 L1174.6,426.0 L1181.2,424.0 L1187.9,421.6 L1188.5,421.3 L1189.2,421.1 L1189.8,420.8 L1190.5,420.6 L1191.1,420.3 L1191.8,420.0 L1192.4,419.7 L1193.1,419.5 L1193.7,419.2 L1194.4,418.9 L1195.0,418.6 L1195.7,418.3 L1196.4,418.0 L1197.0,417.7 L1197.7,417.4 L1198.3,417.1 L1199.0,416.8 L1199.6,416.4 L1200.3,416.1 L1200.9,415.8 L1201.6,415.5 L1202.2,415.1 L1202.9,414.8 L1203.5,414.4 L1204.2,414.1 L1204.9,413.7 L1205.5,413.3 L1206.2,413.0 L1206.8,412.6 L1207.5,412.2 L1208.1,411.8 L1208.8,411.4 L1209.4,411.0 L1210.1,410.6 L1210.7,410.2 L1211.4,409.8 L1212.0,409.4 L1212.7,408.9 L1213.3,408.5 L1214.0,408.0 L1214.7,407.6 L1215.3,407.1 L1216.0,406.7 L1216.6,406.2 L1217.3,405.7 L1217.9,405.2 L1218.6,404.7 L1219.2,404.2 L1219.9,403.7 L1220.5,403.1 L1221.2,402.6 L1221.8,402.0 L1222.5,401.5 L1223.2,400.9 L1223.8,400.3 L1224.5,399.7 L1225.1,399.1 L1225.8,398.5 L1226.4,397.9 L1227.1,397.2 L1227.7,396.6 L1228.4,395.9 L1229.0,395.2 L1229.7,394.5 L1230.3,393.8 L1231.0,393.1 L1231.6,392.4 L1232.3,391.6 L1233.0,390.8 L1233.6,390.1 L1234.3,389.3 L1234.9,388.4 L1235.6,387.6 L1236.2,386.7 L1236.9,385.8 L1237.5,384.9 L1238.2,384.0 L1238.8,383.1 L1239.5,382.1 L1240.1,381.1 L1240.8,380.1 L1241.4,379.0 L1242.1,378.0 L1242.8,376.9 L1243.4,375.7 L1244.1,374.6 L1244.7,373.4 L1245.4,372.2 L1246.0,370.9 L1246.7,369.6 L1247.3,368.3 L1248.0,366.9 L1248.6,365.5 L1249.3,364.1 L1249.9,362.6 L1250.6,361.0 L1251.3,359.4 L1251.9,357.8 L1252.6,356.1 L1253.2,354.4 L1253.9,352.6 L1254.5,350.7 L1255.2,348.8 L1255.8,346.8 L1256.5,344.7 L1257.1,342.5 L1257.8,340.3 L1258.4,338.0 L1259.1,335.6 L1259.7,333.1 L1260.4,330.5 L1261.1,327.8 L1261.7,325.0 L1262.4,322.1 L1263.0,319.0 L1263.7,315.8 L1264.3,312.5 L1265.0,309.0 L1265.6,305.4 L1266.3,301.5 L1266.9,297.5 L1267.6,293.2 L1268.2,288.8 L1268.9,284.1 L1269.6,279.1 L1270.2,273.9 L1270.9,268.3 L1271.5,262.4 L1272.2,256.2 L1272.8,249.5 L1273.5,242.4 L1274.1,234.8 L1274.8,226.6 L1275.4,217.9 L1276.1,208.4 L1276.7,198.3 L1277.4,187.2 L1278.0,175.2 L1278.7,162.2"/>
<path d="M797.2,446.2 L803.9,446.0 L810.5,445.8 L817.1,445.6 L823.7,445.4 L830.4,445.1 L837.0,444.9 L843.6,444.6 L850.2,444.4 L856.8,444.1 L863.5,443.9 L870.1,443.6 L876.7,443.3 L883.3,443.0 L889.9,442.7 L896.6,442.4 L903.2,442.1 L909.8,441.7 L916.4,441.4 L923.0,441.1 L929.7,440.7 L936.3,440.3 L942.9,439.9 L949.5,439.5 L956.1,439.1 L962.8,438.7 L969.4,438.2 L976.0,437.7 L982.6,437.3 L989.2,436.7 L995.9,436.2 L1002.5,435.7 L1009.1,435.1 L1015.7,434.5 L1022.3,433.9 L1029.0,433.2 L1035.6,432.5 L1042.2,431.8 L1048.8,431.1 L1055.4,430.3 L1062.1,429.5 L1068.7,428.6 L1075.3,427.7 L1081.9,426.7 L1088.6,425.7 L1095.2,424.6 L1101.8,423.4 L1108.4,422.2 L1115.0,420.9 L1121.7,419.5 L1128.3,418.1 L1134.9,416.5 L1141.5,414.8 L1148.1,412.9 L1154.8,410.9 L1161.4,408.8 L1168.0,406.5 L1174.6,403.9 L1181.2,401.1 L1187.9,398.1 L1188.5,397.7 L1189.2,397.4 L1189.8,397.1 L1190.5,396.8 L1191.1,396.4 L1191.8,396.1 L1192.4,395.8 L1193.1,395.4 L1193.7,395.1 L1194.4,394.7 L1195.0,394.4 L1195.7,394.0 L1196.4,393.6 L1197.0,393.3 L1197.7,392.9 L1198.3,392.5 L1199.0,392.2 L1199.6,391.8 L1200.3,391.4 L1200.9,391.0 L1201.6,390.6 L1202.2,390.2 L1202.9,389.8 L1203.5,389.4 L1204.2,389.0 L1204.9,388.6 L1205.5,388.2 L1206.2,387.7 L1206.8,387.3 L1207.5,386.9 L1208.1,386.4 L1208.8,386.0 L1209.4,385.5 L1210.1,385.1 L1210.7,384.6 L1211.4,384.1 L1212.0,383.7 L1212.7,383.2 L1213.3,382.7 L1214.0,382.2 L1214.7,381.7 L1215.3,381.2 L1216.0,380.7 L1216.6,380.2 L1217.3,379.7 L1217.9,379.2 L1218.6,378.6 L1219.2,378.1 L1219.9,377.5 L1220.5,377.0 L1221.2,376.4 L1221.8,375.8 L1222.5,375.3 L1223.2,374.7 L1223.8,374.1 L1224.5,373.5 L1225.1,372.9 L1225.8,372.3 L1226.4,371.6 L1227.1,371.0 L1227.7,370.3 L1228.4,369.7 L1229.0,369.0 L1229.7,368.4 L1230.3,367.7 L1231.0,367.0 L1231.6,366.3 L1232.3,365.6 L1233.0,364.8 L1233.6,364.1 L1234.3,363.4 L1234.9,362.6 L1235.6,361.8 L1236.2,361.0 L1236.9,360.3 L1237.5,359.5 L1238.2,358.6 L1238.8,357.8 L1239.5,357.0 L1240.1,356.1 L1240.8,355.2 L1241.4,354.3 L1242.1,353.4 L1242.8,352.5 L1243.4,351.6 L1244.1,350.6 L1244.7,349.7 L1245.4,348.7 L1246.0,347.7 L1246.7,346.7 L1247.3,345.6 L1248.0,344.6 L1248.6,343.5 L1249.3,342.4 L1249.9,341.3 L1250.6,340.2 L1251.3,339.0 L1251.9,337.8 L1252.6,336.7 L1253.2,335.4 L1253.9,334.2 L1254.5,332.9 L1255.2,331.6 L1255.8,330.3 L1256.5,328.9 L1257.1,327.6 L1257.8,326.2 L1258.4,324.7 L1259.1,323.3 L1259.7,321.8 L1260.4,320.2 L1261.1,318.7 L1261.7,317.1 L1262.4,315.4 L1263.0,313.8 L1263.7,312.1 L1264.3,310.3 L1265.0,308.5 L1265.6,306.7 L1266.3,304.8 L1266.9,302.9 L1267.6,300.9 L1268.2,298.9 L1268.9,296.8 L1269.6,294.7 L1270.2,292.5 L1270.9,290.3 L1271.5,288.0 L1272.2,285.6 L1272.8,283.2 L1273.5,280.7 L1274.1,278.2 L1274.8,275.5 L1275.4,272.8 L1276.1,270.0 L1276.7,267.2 L1277.4,264.2 L1278.0,261.1 L1278.7,258.0"/>
</g>
<path fill="none" stroke="#1e9bd2" stroke-width="6.5" stroke-dasharray="27.9 27.7" d="M806.0,443.3 L812.5,443.1 L819.0,442.9 L825.4,442.6 L831.9,442.3 L838.4,442.1 L844.8,441.8 L851.3,441.5 L857.8,441.2 L864.3,440.9 L870.7,440.6 L877.2,440.3 L883.7,440.0 L890.1,439.6 L896.6,439.3 L903.1,438.9 L909.6,438.6 L916.0,438.2 L922.5,437.8 L929.0,437.4 L935.5,437.0 L941.9,436.6 L948.4,436.1 L954.9,435.7 L961.3,435.2 L967.8,434.7 L974.3,434.2 L980.8,433.7 L987.2,433.1 L993.7,432.5 L1000.2,431.9 L1006.6,431.3 L1013.1,430.7 L1019.6,430.0 L1026.1,429.3 L1032.5,428.6 L1039.0,427.8 L1045.5,427.0 L1051.9,426.2 L1058.4,425.3 L1064.9,424.4 L1071.4,423.4 L1077.8,422.4 L1084.3,421.3 L1090.8,420.2 L1097.3,419.0 L1103.7,417.8 L1110.2,416.4 L1116.7,415.0 L1123.1,413.5 L1129.6,411.9 L1136.1,410.2 L1142.6,408.4 L1149.0,406.4 L1155.5,404.3 L1162.0,402.0 L1168.4,399.6 L1174.9,396.9 L1181.4,394.0 L1187.9,390.8 L1188.5,390.5 L1189.2,390.1 L1189.8,389.8 L1190.5,389.4 L1191.1,389.1 L1191.8,388.7 L1192.4,388.4 L1193.1,388.0 L1193.7,387.7 L1194.4,387.3 L1195.0,386.9 L1195.7,386.5 L1196.4,386.2 L1197.0,385.8 L1197.7,385.4 L1198.3,385.0 L1199.0,384.6 L1199.6,384.2 L1200.3,383.8 L1200.9,383.4 L1201.6,383.0 L1202.2,382.6 L1202.9,382.2 L1203.5,381.7 L1204.2,381.3 L1204.9,380.9 L1205.5,380.5 L1206.2,380.0 L1206.8,379.6 L1207.5,379.1 L1208.1,378.7 L1208.8,378.2 L1209.4,377.7 L1210.1,377.3 L1210.7,376.8 L1211.4,376.3 L1212.0,375.8 L1212.7,375.3 L1213.3,374.8 L1214.0,374.3 L1214.7,373.8 L1215.3,373.3 L1216.0,372.8 L1216.6,372.2 L1217.3,371.7 L1217.9,371.2 L1218.6,370.6 L1219.2,370.1 L1219.9,369.5 L1220.5,368.9 L1221.2,368.4 L1221.8,367.8 L1222.5,367.2 L1223.2,366.6 L1223.8,366.0 L1224.5,365.4 L1225.1,364.8 L1225.8,364.1 L1226.4,363.5 L1227.1,362.9 L1227.7,362.2 L1228.4,361.6 L1229.0,360.9 L1229.7,360.2 L1230.3,359.5 L1231.0,358.8 L1231.6,358.1 L1232.3,357.4 L1233.0,356.7 L1233.6,355.9 L1234.3,355.2 L1234.9,354.4 L1235.6,353.7 L1236.2,352.9 L1236.9,352.1 L1237.5,351.3 L1238.2,350.5 L1238.8,349.7 L1239.5,348.8 L1240.1,348.0 L1240.8,347.1 L1241.4,346.3 L1242.1,345.4 L1242.8,344.5 L1243.4,343.6 L1244.1,342.6 L1244.7,341.7 L1245.4,340.7 L1246.0,339.8 L1246.7,338.8 L1247.3,337.8 L1248.0,336.7 L1248.6,335.7 L1249.3,334.6 L1249.9,333.6 L1250.6,332.5 L1251.3,331.4 L1251.9,330.2 L1252.6,329.1 L1253.2,327.9 L1253.9,326.7 L1254.5,325.5 L1255.2,324.3 L1255.8,323.0 L1256.5,321.7 L1257.1,320.4 L1257.8,319.1 L1258.4,317.8 L1259.1,316.4 L1259.7,315.0 L1260.4,313.5 L1261.1,312.1 L1261.7,310.6 L1262.4,309.1 L1263.0,307.5 L1263.7,306.0 L1264.3,304.3 L1265.0,302.7 L1265.6,301.0 L1266.3,299.3 L1266.9,297.5 L1267.6,295.8 L1268.2,293.9 L1268.9,292.0 L1269.6,290.1 L1270.2,288.2 L1270.9,286.2 L1271.5,284.1 L1272.2,282.0 L1272.8,279.9 L1273.5,277.7 L1274.1,275.4 L1274.8,273.1 L1275.4,270.8 L1276.1,268.3 L1276.7,265.9 L1277.4,263.3 L1278.0,260.7 L1278.7,258.0"/>
</g>
<g stroke="#000" stroke-width="3.7" fill="none">
<path d="M134.8,31.2 V482.8 H635.9" stroke-linejoin="miter"/>
<path d="M123.3,463.4 H134.8"/>
<path d="M123.3,360.8 H134.8"/>
<path d="M123.3,258.2 H134.8"/>
<path d="M123.3,155.6 H134.8"/>
<path d="M123.3,53.0 H134.8"/>
<path d="M157.3,482.8 V494.6"/>
<path d="M384.4,482.8 V494.6"/>
<path d="M611.5,482.8 V494.6"/>
</g>
<text class="tk" text-anchor="end" x="115.2" y="475.3">0.00</text>
<text class="tk" text-anchor="end" x="115.2" y="372.3">0.25</text>
<text class="tk" text-anchor="end" x="115.2" y="269.3">0.50</text>
<text class="tk" text-anchor="end" x="115.2" y="166.3">0.75</text>
<text class="tk" text-anchor="end" x="115.2" y="63.3">1.00</text>
<g stroke="#000" stroke-width="3.7" fill="none">
<path d="M801.9,31.2 V483.0 H1303.5" stroke-linejoin="miter"/>
<path d="M790.4,462.6 H801.9"/>
<path d="M790.4,360.3 H801.9"/>
<path d="M790.4,258.0 H801.9"/>
<path d="M790.4,155.7 H801.9"/>
<path d="M790.4,53.4 H801.9"/>
<path d="M824.5,483.0 V494.8"/>
<path d="M1051.6,483.0 V494.8"/>
<path d="M1278.7,483.0 V494.8"/>
</g>
<text class="tk" text-anchor="end" x="778.0" y="473.8">0.00</text>
<text class="tk" text-anchor="end" x="778.0" y="371.7">0.25</text>
<text class="tk" text-anchor="end" x="778.0" y="269.6">0.50</text>
<text class="tk" text-anchor="end" x="778.0" y="167.5">0.75</text>
<text class="tk" text-anchor="end" x="778.0" y="65.4">1.00</text>
<text class="tk" x="84.6" y="530.9">−1 × 10<tspan class="sup" dy="-12.2">−3</tspan></text>
<text class="tk" x="311.0" y="530.9">−5 × 10<tspan class="sup" dy="-12.2">−4</tspan></text>
<text class="tk" text-anchor="middle" x="609.9" y="530.9">0</text>
<text class="tk" x="751.6" y="530.9">−1 × 10<tspan class="sup" dy="-12.2">−3</tspan></text>
<text class="tk" x="978.6" y="530.9">−5 × 10<tspan class="sup" dy="-12.2">−4</tspan></text>
<text class="tk" text-anchor="middle" x="1277.1" y="530.9">0</text>
<text class="tk it" text-anchor="middle" x="382.2" y="568.7">s</text>
<text class="tk it" text-anchor="middle" x="1050.8" y="568.7">s</text>
<text class="tk it" text-anchor="middle" transform="translate(28,259.7) rotate(-90)">h</text>
<text class="tk it" text-anchor="middle" transform="translate(695.6,256.2) rotate(-90)">h</text>
<text class="pl" x="-1.2" y="30.4">a</text>
<text class="pl" x="667.2" y="30.4">b</text>
<path d="M151.9,58.9 H197" stroke="#6b9cee" stroke-width="3.5" fill="none"/>
<text class="lg" x="208.6" y="69.6">Logistic</text>
<path d="M151.9,115.0 H197" stroke="#ee7a78" stroke-width="3.5" fill="none"/>
<text class="lg" x="208.6" y="125.8">Inverse</text>
<path d="M151.9,171.2 H197" stroke="#14b04a" stroke-width="3.5" fill="none"/>
<text class="lg" x="208.6" y="181.9">Inverse, <tspan class="th">θ</tspan><tspan class="sub" dy="8.7">intercept</tspan><tspan dy="-8.7"> fixed at 0.5</tspan></text>
<path d="M151.9,227.3 H197" stroke="#ea6fda" stroke-width="3.5" fill="none"/>
<text class="lg" x="208.6" y="238.0">Logistic, <tspan class="th">θ</tspan><tspan class="sub" dy="8.7">intercept</tspan><tspan dy="-8.7"> fixed at 0.5</tspan></text>
<path d="M151.9,283.5 H197" stroke="#b9a116" stroke-width="3.5" fill="none"/>
<text class="lg" x="208.6" y="294.2">Inverse, DFE &amp; neutral</text>
<path d="M151.9,339.6 H197" stroke="#1fbfc6" stroke-width="3.5" fill="none"/>
<text class="lg" x="208.6" y="350.3">Inverse, <tspan class="it">h</tspan> &gt; 0.5 set to 0.5</text>
<circle cx="847.5" cy="56.3" r="8.6" fill="#f9c39a" stroke="#f5a866" stroke-width="1.3"/>
<path d="M820.1,93 H871.4" stroke="#1e9bd2" stroke-width="6" stroke-dasharray="19.7 15.5" fill="none"/>
<path d="M820.1,127.1 H871.4" stroke="#006400" stroke-width="5.4" fill="none"/>
<text class="lg" x="880.6" y="63.2">Simulated <tspan class="it">h</tspan>–<tspan class="it">s</tspan> pair</text>
<text class="lg" x="880.6" y="98.6">Simulated mean <tspan class="it">h</tspan>–<tspan class="it">s</tspan> relationship</text>
<text class="lg" x="880.6" y="134.7">Estimated <tspan class="it">h</tspan>–<tspan class="it">s</tspan> relationship</text>
</svg></body></html>
